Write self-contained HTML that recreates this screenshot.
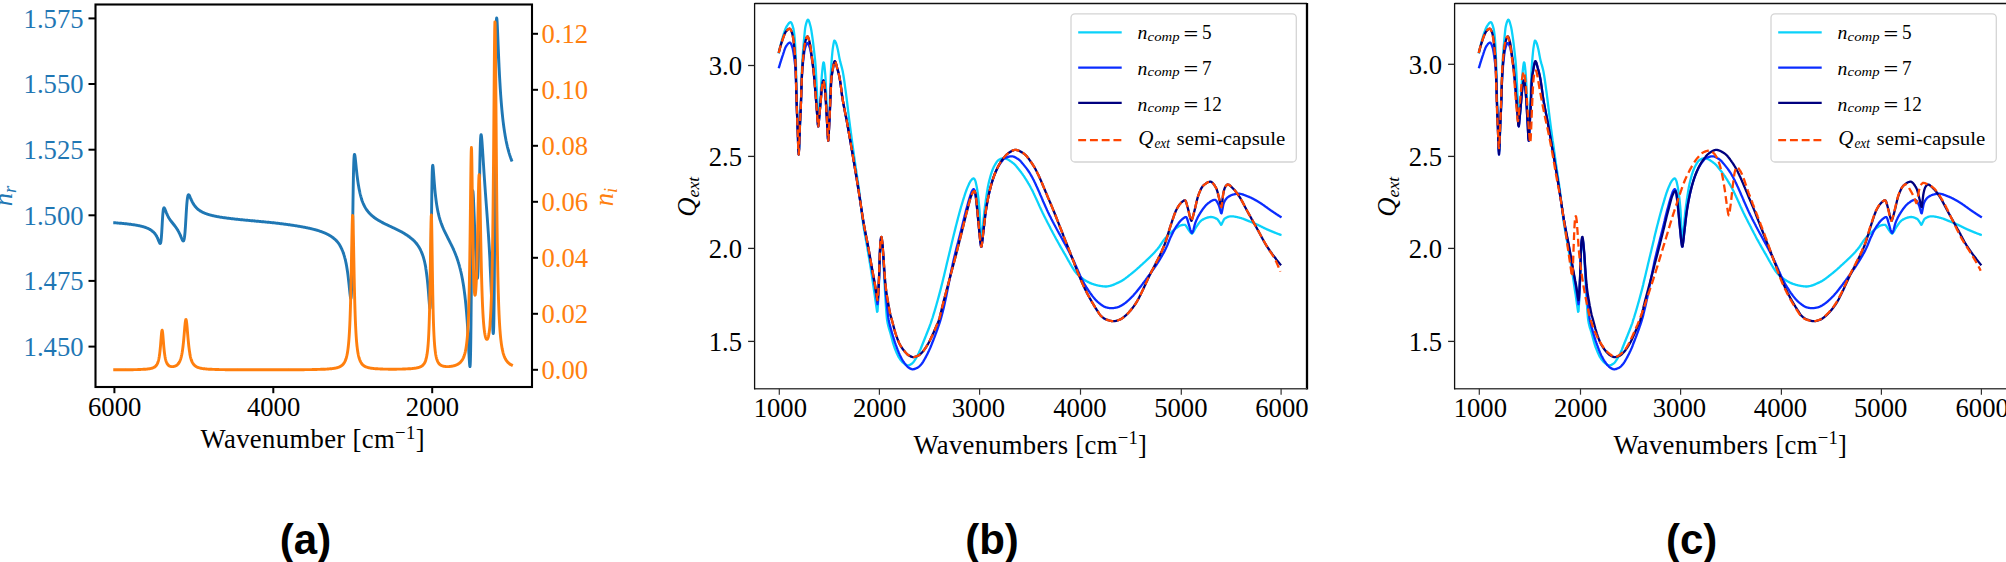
<!DOCTYPE html>
<html lang="en"><head><meta charset="utf-8"><title>Refractive index and extinction efficiency</title>
<style>
html,body{margin:0;padding:0;background:#fff;}
body{width:2006px;height:562px;overflow:hidden;}
svg{display:block;}
</style></head><body>
<svg width="2006" height="562" viewBox="0 0 2006 562">
<rect x="0" y="0" width="2006" height="562" fill="#fff"/>
<g id="panel-a">
<path d="M114.7 222.8 L114.9 222.8 L115.1 222.8 L115.3 222.8 L115.5 222.8 L115.7 222.9 L115.9 222.9 L116.1 222.9 L116.3 222.9 L116.5 222.9 L116.7 222.9 L116.9 223.0 L117.1 223.0 L117.3 223.0 L117.5 223.0 L117.7 223.0 L117.9 223.0 L118.1 223.1 L118.3 223.1 L118.5 223.1 L118.7 223.1 L118.9 223.1 L119.1 223.1 L119.3 223.1 L119.5 223.2 L119.7 223.2 L119.9 223.2 L120.1 223.2 L120.3 223.2 L120.5 223.3 L120.7 223.3 L120.9 223.3 L121.1 223.3 L121.3 223.3 L121.5 223.3 L121.7 223.4 L121.9 223.4 L122.1 223.4 L122.3 223.4 L122.5 223.4 L122.7 223.5 L122.9 223.5 L123.1 223.5 L123.3 223.5 L123.5 223.5 L123.7 223.5 L123.9 223.6 L124.1 223.6 L124.3 223.6 L124.5 223.6 L124.7 223.6 L124.9 223.7 L125.1 223.7 L125.3 223.7 L125.4 223.7 L125.6 223.7 L125.8 223.8 L126.0 223.8 L126.2 223.8 L126.4 223.8 L126.6 223.9 L126.8 223.9 L127.0 223.9 L127.2 223.9 L127.4 223.9 L127.6 224.0 L127.8 224.0 L128.0 224.0 L128.2 224.0 L128.4 224.1 L128.6 224.1 L128.8 224.1 L129.0 224.1 L129.2 224.2 L129.4 224.2 L129.6 224.2 L129.8 224.2 L130.0 224.3 L130.2 224.3 L130.4 224.3 L130.6 224.3 L130.8 224.4 L131.0 224.4 L131.2 224.4 L131.4 224.4 L131.6 224.5 L131.8 224.5 L132.0 224.5 L132.2 224.6 L132.4 224.6 L132.6 224.6 L132.8 224.6 L133.0 224.7 L133.2 224.7 L133.4 224.7 L133.6 224.8 L133.8 224.8 L134.0 224.8 L134.2 224.8 L134.4 224.9 L134.6 224.9 L134.8 224.9 L135.0 225.0 L135.2 225.0 L135.4 225.0 L135.6 225.1 L135.8 225.1 L136.0 225.1 L136.2 225.2 L136.4 225.2 L136.6 225.3 L136.8 225.3 L137.0 225.3 L137.2 225.4 L137.4 225.4 L137.6 225.4 L137.8 225.5 L138.0 225.5 L138.2 225.6 L138.4 225.6 L138.6 225.6 L138.8 225.7 L139.0 225.7 L139.2 225.8 L139.4 225.8 L139.6 225.8 L139.8 225.9 L140.0 225.9 L140.2 226.0 L140.4 226.0 L140.6 226.1 L140.8 226.1 L141.0 226.2 L141.2 226.2 L141.4 226.3 L141.6 226.3 L141.8 226.4 L142.0 226.4 L142.2 226.5 L142.4 226.5 L142.6 226.6 L142.8 226.6 L143.0 226.7 L143.2 226.7 L143.4 226.8 L143.6 226.8 L143.8 226.9 L144.0 227.0 L144.2 227.0 L144.4 227.1 L144.6 227.2 L144.8 227.2 L145.0 227.3 L145.2 227.3 L145.4 227.4 L145.6 227.5 L145.8 227.6 L146.0 227.6 L146.2 227.7 L146.4 227.8 L146.6 227.9 L146.8 227.9 L146.9 228.0 L147.1 228.1 L147.3 228.2 L147.5 228.3 L147.7 228.3 L147.9 228.4 L148.1 228.5 L148.3 228.6 L148.5 228.7 L148.7 228.8 L148.9 228.9 L149.1 229.0 L149.3 229.1 L149.5 229.2 L149.7 229.3 L149.9 229.4 L150.1 229.6 L150.3 229.7 L150.5 229.8 L150.7 229.9 L150.9 230.0 L151.1 230.2 L151.3 230.3 L151.5 230.5 L151.7 230.6 L151.9 230.7 L152.1 230.9 L152.3 231.1 L152.5 231.2 L152.7 231.4 L152.9 231.6 L153.1 231.7 L153.3 231.9 L153.5 232.1 L153.7 232.3 L153.9 232.5 L154.1 232.7 L154.3 233.0 L154.5 233.2 L154.7 233.4 L154.9 233.7 L155.1 233.9 L155.3 234.2 L155.5 234.5 L155.7 234.8 L155.9 235.1 L156.1 235.4 L156.3 235.7 L156.5 236.1 L156.7 236.4 L156.9 236.8 L157.1 237.2 L157.3 237.6 L157.5 238.0 L157.7 238.5 L157.9 238.9 L158.1 239.4 L158.3 239.9 L158.5 240.4 L158.7 240.9 L158.9 241.4 L159.1 241.8 L159.3 242.3 L159.5 242.7 L159.7 243.1 L159.9 243.4 L160.1 243.5 L160.3 243.5 L160.5 243.2 L160.7 242.6 L160.9 241.6 L161.1 240.2 L161.3 238.2 L161.5 235.7 L161.7 232.8 L161.9 229.4 L162.1 225.8 L162.3 222.2 L162.5 218.8 L162.7 215.8 L162.9 213.3 L163.1 211.3 L163.3 209.8 L163.5 208.8 L163.7 208.2 L163.9 207.9 L164.1 207.8 L164.3 208.0 L164.5 208.2 L164.7 208.6 L164.9 209.0 L165.1 209.5 L165.3 210.0 L165.5 210.5 L165.7 211.1 L165.9 211.6 L166.1 212.1 L166.3 212.6 L166.5 213.1 L166.7 213.5 L166.9 214.0 L167.1 214.5 L167.3 214.9 L167.5 215.3 L167.7 215.7 L167.9 216.1 L168.1 216.5 L168.3 216.8 L168.4 217.2 L168.6 217.5 L168.8 217.9 L169.0 218.2 L169.2 218.5 L169.4 218.8 L169.6 219.1 L169.8 219.4 L170.0 219.7 L170.2 220.0 L170.4 220.3 L170.6 220.6 L170.8 220.8 L171.0 221.1 L171.2 221.4 L171.4 221.6 L171.6 221.9 L171.8 222.1 L172.0 222.4 L172.2 222.6 L172.4 222.9 L172.6 223.1 L172.8 223.4 L173.0 223.6 L173.2 223.9 L173.4 224.1 L173.6 224.4 L173.8 224.6 L174.0 224.9 L174.2 225.1 L174.4 225.4 L174.6 225.6 L174.8 225.9 L175.0 226.2 L175.2 226.4 L175.4 226.7 L175.6 227.0 L175.8 227.2 L176.0 227.5 L176.2 227.8 L176.4 228.1 L176.6 228.4 L176.8 228.7 L177.0 229.0 L177.2 229.3 L177.4 229.6 L177.6 229.9 L177.8 230.3 L178.0 230.6 L178.2 231.0 L178.4 231.3 L178.6 231.7 L178.8 232.1 L179.0 232.5 L179.2 232.9 L179.4 233.3 L179.6 233.7 L179.8 234.1 L180.0 234.5 L180.2 235.0 L180.4 235.4 L180.6 235.9 L180.8 236.4 L181.0 236.9 L181.2 237.3 L181.4 237.8 L181.6 238.3 L181.8 238.7 L182.0 239.2 L182.2 239.6 L182.4 240.0 L182.6 240.4 L182.8 240.6 L183.0 240.9 L183.2 241.0 L183.4 240.9 L183.6 240.8 L183.8 240.4 L184.0 239.8 L184.2 239.0 L184.4 237.8 L184.6 236.3 L184.8 234.5 L185.0 232.3 L185.2 229.7 L185.4 226.8 L185.6 223.6 L185.8 220.2 L186.0 216.8 L186.2 213.4 L186.4 210.2 L186.6 207.1 L186.8 204.4 L187.0 202.1 L187.2 200.1 L187.4 198.5 L187.6 197.2 L187.8 196.2 L188.0 195.5 L188.2 195.1 L188.4 194.8 L188.6 194.8 L188.8 194.8 L189.0 195.0 L189.2 195.2 L189.4 195.6 L189.6 195.9 L189.8 196.3 L189.9 196.7 L190.1 197.2 L190.3 197.6 L190.5 198.1 L190.7 198.5 L190.9 199.0 L191.1 199.5 L191.3 199.9 L191.5 200.3 L191.7 200.7 L191.9 201.2 L192.1 201.6 L192.3 202.0 L192.5 202.3 L192.7 202.7 L192.9 203.1 L193.1 203.4 L193.3 203.7 L193.5 204.1 L193.7 204.4 L193.9 204.7 L194.1 205.0 L194.3 205.3 L194.5 205.5 L194.7 205.8 L194.9 206.1 L195.1 206.3 L195.3 206.6 L195.5 206.8 L195.7 207.0 L195.9 207.3 L196.1 207.5 L196.3 207.7 L196.5 207.9 L196.7 208.1 L196.9 208.3 L197.1 208.5 L197.3 208.7 L197.5 208.9 L197.7 209.0 L197.9 209.2 L198.1 209.4 L198.3 209.5 L198.5 209.7 L198.7 209.8 L198.9 210.0 L199.1 210.1 L199.3 210.3 L199.5 210.4 L199.7 210.5 L199.9 210.7 L200.1 210.8 L200.3 210.9 L200.5 211.1 L200.7 211.2 L200.9 211.3 L201.1 211.4 L201.3 211.5 L201.5 211.6 L201.7 211.8 L201.9 211.9 L202.1 212.0 L202.3 212.1 L202.5 212.2 L202.7 212.3 L202.9 212.4 L203.1 212.5 L203.3 212.6 L203.5 212.6 L203.7 212.7 L203.9 212.8 L204.1 212.9 L204.3 213.0 L204.5 213.1 L204.7 213.2 L204.9 213.2 L205.1 213.3 L205.3 213.4 L205.5 213.5 L205.7 213.6 L205.9 213.6 L206.1 213.7 L206.3 213.8 L206.5 213.8 L206.7 213.9 L206.9 214.0 L207.1 214.1 L207.3 214.1 L207.5 214.2 L207.7 214.2 L207.9 214.3 L208.1 214.4 L208.3 214.4 L208.5 214.5 L208.7 214.6 L208.9 214.6 L209.1 214.7 L209.3 214.7 L209.5 214.8 L209.7 214.9 L209.9 214.9 L210.1 215.0 L210.3 215.0 L210.5 215.1 L210.7 215.1 L210.9 215.2 L211.1 215.2 L211.2 215.3 L211.4 215.3 L211.6 215.4 L211.8 215.4 L212.0 215.5 L212.2 215.5 L212.4 215.6 L212.6 215.6 L212.8 215.7 L213.0 215.7 L213.2 215.8 L213.4 215.8 L213.6 215.8 L213.8 215.9 L214.0 215.9 L214.2 216.0 L214.4 216.0 L214.6 216.1 L214.8 216.1 L215.0 216.1 L215.2 216.2 L215.4 216.2 L215.6 216.3 L215.8 216.3 L216.0 216.3 L216.2 216.4 L216.4 216.4 L216.6 216.5 L216.8 216.5 L217.0 216.5 L217.2 216.6 L217.4 216.6 L217.6 216.6 L217.8 216.7 L218.0 216.7 L218.2 216.8 L218.4 216.8 L218.6 216.8 L218.8 216.9 L219.0 216.9 L219.2 216.9 L219.4 217.0 L219.6 217.0 L219.8 217.0 L220.0 217.1 L220.2 217.1 L220.4 217.1 L220.6 217.2 L220.8 217.2 L221.0 217.2 L221.2 217.3 L221.4 217.3 L221.6 217.3 L221.8 217.4 L222.0 217.4 L222.2 217.4 L222.4 217.4 L222.6 217.5 L222.8 217.5 L223.0 217.5 L223.2 217.6 L223.4 217.6 L223.6 217.6 L223.8 217.7 L224.0 217.7 L224.2 217.7 L224.4 217.7 L224.6 217.8 L224.8 217.8 L225.0 217.8 L225.2 217.8 L225.4 217.9 L225.6 217.9 L225.8 217.9 L226.0 218.0 L226.2 218.0 L226.4 218.0 L226.6 218.0 L226.8 218.1 L227.0 218.1 L227.2 218.1 L227.4 218.1 L227.6 218.2 L227.8 218.2 L228.0 218.2 L228.2 218.2 L228.4 218.3 L228.6 218.3 L228.8 218.3 L229.0 218.3 L229.2 218.4 L229.4 218.4 L229.6 218.4 L229.8 218.4 L230.0 218.5 L230.2 218.5 L230.4 218.5 L230.6 218.5 L230.8 218.6 L231.0 218.6 L231.2 218.6 L231.4 218.6 L231.6 218.7 L231.8 218.7 L232.0 218.7 L232.2 218.7 L232.4 218.8 L232.6 218.8 L232.7 218.8 L232.9 218.8 L233.1 218.8 L233.3 218.9 L233.5 218.9 L233.7 218.9 L233.9 218.9 L234.1 219.0 L234.3 219.0 L234.5 219.0 L234.7 219.0 L234.9 219.0 L235.1 219.1 L235.3 219.1 L235.5 219.1 L235.7 219.1 L235.9 219.2 L236.1 219.2 L236.3 219.2 L236.5 219.2 L236.7 219.2 L236.9 219.3 L237.1 219.3 L237.3 219.3 L237.5 219.3 L237.7 219.3 L237.9 219.4 L238.1 219.4 L238.3 219.4 L238.5 219.4 L238.7 219.5 L238.9 219.5 L239.1 219.5 L239.3 219.5 L239.5 219.5 L239.7 219.6 L239.9 219.6 L240.1 219.6 L240.3 219.6 L240.5 219.6 L240.7 219.7 L240.9 219.7 L241.1 219.7 L241.3 219.7 L241.5 219.7 L241.7 219.8 L241.9 219.8 L242.1 219.8 L242.3 219.8 L242.5 219.8 L242.7 219.9 L242.9 219.9 L243.1 219.9 L243.3 219.9 L243.5 219.9 L243.7 220.0 L243.9 220.0 L244.1 220.0 L244.3 220.0 L244.5 220.0 L244.7 220.1 L244.9 220.1 L245.1 220.1 L245.3 220.1 L245.5 220.1 L245.7 220.1 L245.9 220.2 L246.1 220.2 L246.3 220.2 L246.5 220.2 L246.7 220.2 L246.9 220.3 L247.1 220.3 L247.3 220.3 L247.5 220.3 L247.7 220.3 L247.9 220.4 L248.1 220.4 L248.3 220.4 L248.5 220.4 L248.7 220.4 L248.9 220.5 L249.1 220.5 L249.3 220.5 L249.5 220.5 L249.7 220.5 L249.9 220.5 L250.1 220.6 L250.3 220.6 L250.5 220.6 L250.7 220.6 L250.9 220.6 L251.1 220.7 L251.3 220.7 L251.5 220.7 L251.7 220.7 L251.9 220.7 L252.1 220.8 L252.3 220.8 L252.5 220.8 L252.7 220.8 L252.9 220.8 L253.1 220.8 L253.3 220.9 L253.5 220.9 L253.7 220.9 L253.9 220.9 L254.1 220.9 L254.2 221.0 L254.4 221.0 L254.6 221.0 L254.8 221.0 L255.0 221.0 L255.2 221.0 L255.4 221.1 L255.6 221.1 L255.8 221.1 L256.0 221.1 L256.2 221.1 L256.4 221.2 L256.6 221.2 L256.8 221.2 L257.0 221.2 L257.2 221.2 L257.4 221.2 L257.6 221.3 L257.8 221.3 L258.0 221.3 L258.2 221.3 L258.4 221.3 L258.6 221.4 L258.8 221.4 L259.0 221.4 L259.2 221.4 L259.4 221.4 L259.6 221.5 L259.8 221.5 L260.0 221.5 L260.2 221.5 L260.4 221.5 L260.6 221.5 L260.8 221.6 L261.0 221.6 L261.2 221.6 L261.4 221.6 L261.6 221.6 L261.8 221.7 L262.0 221.7 L262.2 221.7 L262.4 221.7 L262.6 221.7 L262.8 221.8 L263.0 221.8 L263.2 221.8 L263.4 221.8 L263.6 221.8 L263.8 221.8 L264.0 221.9 L264.2 221.9 L264.4 221.9 L264.6 221.9 L264.8 221.9 L265.0 222.0 L265.2 222.0 L265.4 222.0 L265.6 222.0 L265.8 222.0 L266.0 222.1 L266.2 222.1 L266.4 222.1 L266.6 222.1 L266.8 222.1 L267.0 222.1 L267.2 222.2 L267.4 222.2 L267.6 222.2 L267.8 222.2 L268.0 222.2 L268.2 222.3 L268.4 222.3 L268.6 222.3 L268.8 222.3 L269.0 222.3 L269.2 222.4 L269.4 222.4 L269.6 222.4 L269.8 222.4 L270.0 222.4 L270.2 222.5 L270.4 222.5 L270.6 222.5 L270.8 222.5 L271.0 222.5 L271.2 222.6 L271.4 222.6 L271.6 222.6 L271.8 222.6 L272.0 222.6 L272.2 222.7 L272.4 222.7 L272.6 222.7 L272.8 222.7 L273.0 222.7 L273.2 222.8 L273.4 222.8 L273.6 222.8 L273.8 222.8 L274.0 222.8 L274.2 222.9 L274.4 222.9 L274.6 222.9 L274.8 222.9 L275.0 223.0 L275.2 223.0 L275.4 223.0 L275.6 223.0 L275.7 223.1 L275.9 223.1 L276.1 223.1 L276.3 223.1 L276.5 223.1 L276.7 223.2 L276.9 223.2 L277.1 223.2 L277.3 223.2 L277.5 223.3 L277.7 223.3 L277.9 223.3 L278.1 223.3 L278.3 223.4 L278.5 223.4 L278.7 223.4 L278.9 223.4 L279.1 223.5 L279.3 223.5 L279.5 223.5 L279.7 223.5 L279.9 223.6 L280.1 223.6 L280.3 223.6 L280.5 223.6 L280.7 223.7 L280.9 223.7 L281.1 223.7 L281.3 223.7 L281.5 223.8 L281.7 223.8 L281.9 223.8 L282.1 223.8 L282.3 223.9 L282.5 223.9 L282.7 223.9 L282.9 223.9 L283.1 224.0 L283.3 224.0 L283.5 224.0 L283.7 224.0 L283.9 224.1 L284.1 224.1 L284.3 224.1 L284.5 224.1 L284.7 224.2 L284.9 224.2 L285.1 224.2 L285.3 224.2 L285.5 224.3 L285.7 224.3 L285.9 224.3 L286.1 224.4 L286.3 224.4 L286.5 224.4 L286.7 224.4 L286.9 224.5 L287.1 224.5 L287.3 224.5 L287.5 224.5 L287.7 224.6 L287.9 224.6 L288.1 224.6 L288.3 224.7 L288.5 224.7 L288.7 224.7 L288.9 224.7 L289.1 224.8 L289.3 224.8 L289.5 224.8 L289.7 224.8 L289.9 224.9 L290.1 224.9 L290.3 224.9 L290.5 225.0 L290.7 225.0 L290.9 225.0 L291.1 225.0 L291.3 225.1 L291.5 225.1 L291.7 225.1 L291.9 225.2 L292.1 225.2 L292.3 225.2 L292.5 225.3 L292.7 225.3 L292.9 225.3 L293.1 225.3 L293.3 225.4 L293.5 225.4 L293.7 225.4 L293.9 225.5 L294.1 225.5 L294.3 225.5 L294.5 225.6 L294.7 225.6 L294.9 225.6 L295.1 225.6 L295.3 225.7 L295.5 225.7 L295.7 225.7 L295.9 225.8 L296.1 225.8 L296.3 225.8 L296.5 225.9 L296.7 225.9 L296.9 225.9 L297.1 226.0 L297.2 226.0 L297.4 226.0 L297.6 226.1 L297.8 226.1 L298.0 226.1 L298.2 226.2 L298.4 226.2 L298.6 226.2 L298.8 226.3 L299.0 226.3 L299.2 226.3 L299.4 226.4 L299.6 226.4 L299.8 226.4 L300.0 226.5 L300.2 226.5 L300.4 226.5 L300.6 226.6 L300.8 226.6 L301.0 226.6 L301.2 226.7 L301.4 226.7 L301.6 226.7 L301.8 226.8 L302.0 226.8 L302.2 226.9 L302.4 226.9 L302.6 226.9 L302.8 227.0 L303.0 227.0 L303.2 227.0 L303.4 227.1 L303.6 227.1 L303.8 227.2 L304.0 227.2 L304.2 227.2 L304.4 227.3 L304.6 227.3 L304.8 227.3 L305.0 227.4 L305.2 227.4 L305.4 227.5 L305.6 227.5 L305.8 227.5 L306.0 227.6 L306.2 227.6 L306.4 227.7 L306.6 227.7 L306.8 227.7 L307.0 227.8 L307.2 227.8 L307.4 227.9 L307.6 227.9 L307.8 228.0 L308.0 228.0 L308.2 228.0 L308.4 228.1 L308.6 228.1 L308.8 228.2 L309.0 228.2 L309.2 228.3 L309.4 228.3 L309.6 228.3 L309.8 228.4 L310.0 228.4 L310.2 228.5 L310.4 228.5 L310.6 228.6 L310.8 228.6 L311.0 228.7 L311.2 228.7 L311.4 228.8 L311.6 228.8 L311.8 228.9 L312.0 228.9 L312.2 229.0 L312.4 229.0 L312.6 229.0 L312.8 229.1 L313.0 229.1 L313.2 229.2 L313.4 229.2 L313.6 229.3 L313.8 229.4 L314.0 229.4 L314.2 229.5 L314.4 229.5 L314.6 229.6 L314.8 229.6 L315.0 229.7 L315.2 229.7 L315.4 229.8 L315.6 229.8 L315.8 229.9 L316.0 229.9 L316.2 230.0 L316.4 230.1 L316.6 230.1 L316.8 230.2 L317.0 230.2 L317.2 230.3 L317.4 230.3 L317.6 230.4 L317.8 230.5 L318.0 230.5 L318.2 230.6 L318.4 230.6 L318.5 230.7 L318.7 230.8 L318.9 230.8 L319.1 230.9 L319.3 231.0 L319.5 231.0 L319.7 231.1 L319.9 231.2 L320.1 231.2 L320.3 231.3 L320.5 231.4 L320.7 231.4 L320.9 231.5 L321.1 231.6 L321.3 231.6 L321.5 231.7 L321.7 231.8 L321.9 231.9 L322.1 231.9 L322.3 232.0 L322.5 232.1 L322.7 232.2 L322.9 232.2 L323.1 232.3 L323.3 232.4 L323.5 232.5 L323.7 232.6 L323.9 232.6 L324.1 232.7 L324.3 232.8 L324.5 232.9 L324.7 233.0 L324.9 233.1 L325.1 233.1 L325.3 233.2 L325.5 233.3 L325.7 233.4 L325.9 233.5 L326.1 233.6 L326.3 233.7 L326.5 233.8 L326.7 233.9 L326.9 234.0 L327.1 234.1 L327.3 234.2 L327.5 234.3 L327.7 234.4 L327.9 234.5 L328.1 234.6 L328.3 234.7 L328.5 234.8 L328.7 234.9 L328.9 235.0 L329.1 235.1 L329.3 235.2 L329.5 235.4 L329.7 235.5 L329.9 235.6 L330.1 235.7 L330.3 235.8 L330.5 236.0 L330.7 236.1 L330.9 236.2 L331.1 236.3 L331.3 236.5 L331.5 236.6 L331.7 236.7 L331.9 236.9 L332.1 237.0 L332.3 237.2 L332.5 237.3 L332.7 237.5 L332.9 237.6 L333.1 237.8 L333.3 237.9 L333.5 238.1 L333.7 238.2 L333.9 238.4 L334.1 238.6 L334.3 238.7 L334.5 238.9 L334.7 239.1 L334.9 239.3 L335.1 239.5 L335.3 239.6 L335.5 239.8 L335.7 240.0 L335.9 240.2 L336.1 240.4 L336.3 240.6 L336.5 240.9 L336.7 241.1 L336.9 241.3 L337.1 241.5 L337.3 241.8 L337.5 242.0 L337.7 242.2 L337.9 242.5 L338.1 242.7 L338.3 243.0 L338.5 243.3 L338.7 243.5 L338.9 243.8 L339.1 244.1 L339.3 244.4 L339.5 244.7 L339.7 245.0 L339.9 245.3 L340.0 245.7 L340.2 246.0 L340.4 246.4 L340.6 246.7 L340.8 247.1 L341.0 247.5 L341.2 247.9 L341.4 248.3 L341.6 248.7 L341.8 249.1 L342.0 249.6 L342.2 250.0 L342.4 250.5 L342.6 251.0 L342.8 251.5 L343.0 252.0 L343.2 252.6 L343.4 253.1 L343.6 253.7 L343.8 254.3 L344.0 255.0 L344.2 255.6 L344.4 256.3 L344.6 257.0 L344.8 257.8 L345.0 258.5 L345.2 259.3 L345.4 260.2 L345.6 261.0 L345.8 262.0 L346.0 262.9 L346.2 263.9 L346.4 265.0 L346.6 266.1 L346.8 267.2 L347.0 268.4 L347.2 269.7 L347.4 271.0 L347.6 272.4 L347.8 273.9 L348.0 275.4 L348.2 277.1 L348.4 278.7 L348.6 280.5 L348.8 282.3 L349.0 284.2 L349.2 286.1 L349.4 288.1 L349.6 290.1 L349.8 292.0 L350.0 293.9 L350.2 295.6 L350.4 297.1 L350.6 298.2 L350.8 298.6 L351.0 298.3 L351.2 296.8 L351.4 293.9 L351.6 289.1 L351.8 282.2 L352.0 272.8 L352.2 261.0 L352.4 247.1 L352.6 231.9 L352.8 216.3 L353.0 201.4 L353.2 188.1 L353.4 177.1 L353.6 168.4 L353.8 162.2 L354.0 158.0 L354.2 155.5 L354.4 154.4 L354.6 154.4 L354.8 155.1 L355.0 156.3 L355.2 157.8 L355.4 159.6 L355.6 161.5 L355.8 163.5 L356.0 165.5 L356.2 167.4 L356.4 169.4 L356.6 171.2 L356.8 173.0 L357.0 174.8 L357.2 176.4 L357.4 178.0 L357.6 179.5 L357.8 181.0 L358.0 182.4 L358.2 183.7 L358.4 184.9 L358.6 186.1 L358.8 187.3 L359.0 188.4 L359.2 189.4 L359.4 190.4 L359.6 191.3 L359.8 192.3 L360.0 193.1 L360.2 194.0 L360.4 194.8 L360.6 195.5 L360.8 196.3 L361.0 197.0 L361.2 197.7 L361.4 198.3 L361.5 198.9 L361.7 199.6 L361.9 200.1 L362.1 200.7 L362.3 201.3 L362.5 201.8 L362.7 202.3 L362.9 202.8 L363.1 203.3 L363.3 203.7 L363.5 204.2 L363.7 204.6 L363.9 205.0 L364.1 205.4 L364.3 205.8 L364.5 206.2 L364.7 206.6 L364.9 207.0 L365.1 207.3 L365.3 207.7 L365.5 208.0 L365.7 208.3 L365.9 208.7 L366.1 209.0 L366.3 209.3 L366.5 209.6 L366.7 209.9 L366.9 210.1 L367.1 210.4 L367.3 210.7 L367.5 210.9 L367.7 211.2 L367.9 211.5 L368.1 211.7 L368.3 212.0 L368.5 212.2 L368.7 212.4 L368.9 212.7 L369.1 212.9 L369.3 213.1 L369.5 213.3 L369.7 213.5 L369.9 213.7 L370.1 213.9 L370.3 214.1 L370.5 214.3 L370.7 214.5 L370.9 214.7 L371.1 214.9 L371.3 215.1 L371.5 215.3 L371.7 215.5 L371.9 215.6 L372.1 215.8 L372.3 216.0 L372.5 216.1 L372.7 216.3 L372.9 216.5 L373.1 216.6 L373.3 216.8 L373.5 216.9 L373.7 217.1 L373.9 217.3 L374.1 217.4 L374.3 217.6 L374.5 217.7 L374.7 217.8 L374.9 218.0 L375.1 218.1 L375.3 218.3 L375.5 218.4 L375.7 218.6 L375.9 218.7 L376.1 218.8 L376.3 219.0 L376.5 219.1 L376.7 219.2 L376.9 219.3 L377.1 219.5 L377.3 219.6 L377.5 219.7 L377.7 219.8 L377.9 220.0 L378.1 220.1 L378.3 220.2 L378.5 220.3 L378.7 220.5 L378.9 220.6 L379.1 220.7 L379.3 220.8 L379.5 220.9 L379.7 221.0 L379.9 221.1 L380.1 221.3 L380.3 221.4 L380.5 221.5 L380.7 221.6 L380.9 221.7 L381.1 221.8 L381.3 221.9 L381.5 222.0 L381.7 222.1 L381.9 222.2 L382.1 222.3 L382.3 222.4 L382.5 222.6 L382.7 222.7 L382.9 222.8 L383.0 222.9 L383.2 223.0 L383.4 223.1 L383.6 223.2 L383.8 223.3 L384.0 223.4 L384.2 223.5 L384.4 223.6 L384.6 223.7 L384.8 223.8 L385.0 223.9 L385.2 224.0 L385.4 224.1 L385.6 224.2 L385.8 224.3 L386.0 224.4 L386.2 224.5 L386.4 224.5 L386.6 224.6 L386.8 224.7 L387.0 224.8 L387.2 224.9 L387.4 225.0 L387.6 225.1 L387.8 225.2 L388.0 225.3 L388.2 225.4 L388.4 225.5 L388.6 225.6 L388.8 225.7 L389.0 225.8 L389.2 225.9 L389.4 226.0 L389.6 226.1 L389.8 226.2 L390.0 226.3 L390.2 226.3 L390.4 226.4 L390.6 226.5 L390.8 226.6 L391.0 226.7 L391.2 226.8 L391.4 226.9 L391.6 227.0 L391.8 227.1 L392.0 227.2 L392.2 227.3 L392.4 227.4 L392.6 227.5 L392.8 227.6 L393.0 227.7 L393.2 227.7 L393.4 227.8 L393.6 227.9 L393.8 228.0 L394.0 228.1 L394.2 228.2 L394.4 228.3 L394.6 228.4 L394.8 228.5 L395.0 228.6 L395.2 228.7 L395.4 228.8 L395.6 228.9 L395.8 229.0 L396.0 229.1 L396.2 229.2 L396.4 229.3 L396.6 229.4 L396.8 229.5 L397.0 229.6 L397.2 229.7 L397.4 229.8 L397.6 229.9 L397.8 230.0 L398.0 230.1 L398.2 230.2 L398.4 230.3 L398.6 230.4 L398.8 230.5 L399.0 230.6 L399.2 230.7 L399.4 230.8 L399.6 230.9 L399.8 231.0 L400.0 231.1 L400.2 231.2 L400.4 231.3 L400.6 231.4 L400.8 231.5 L401.0 231.6 L401.2 231.7 L401.4 231.8 L401.6 231.9 L401.8 232.0 L402.0 232.1 L402.2 232.3 L402.4 232.4 L402.6 232.5 L402.8 232.6 L403.0 232.7 L403.2 232.8 L403.4 232.9 L403.6 233.0 L403.8 233.2 L404.0 233.3 L404.2 233.4 L404.3 233.5 L404.5 233.6 L404.7 233.7 L404.9 233.9 L405.1 234.0 L405.3 234.1 L405.5 234.2 L405.7 234.4 L405.9 234.5 L406.1 234.6 L406.3 234.7 L406.5 234.9 L406.7 235.0 L406.9 235.1 L407.1 235.3 L407.3 235.4 L407.5 235.5 L407.7 235.7 L407.9 235.8 L408.1 235.9 L408.3 236.1 L408.5 236.2 L408.7 236.4 L408.9 236.5 L409.1 236.6 L409.3 236.8 L409.5 236.9 L409.7 237.1 L409.9 237.2 L410.1 237.4 L410.3 237.6 L410.5 237.7 L410.7 237.9 L410.9 238.0 L411.1 238.2 L411.3 238.4 L411.5 238.5 L411.7 238.7 L411.9 238.9 L412.1 239.0 L412.3 239.2 L412.5 239.4 L412.7 239.6 L412.9 239.8 L413.1 239.9 L413.3 240.1 L413.5 240.3 L413.7 240.5 L413.9 240.7 L414.1 240.9 L414.3 241.1 L414.5 241.3 L414.7 241.5 L414.9 241.8 L415.1 242.0 L415.3 242.2 L415.5 242.4 L415.7 242.7 L415.9 242.9 L416.1 243.1 L416.3 243.4 L416.5 243.6 L416.7 243.9 L416.9 244.1 L417.1 244.4 L417.3 244.7 L417.5 244.9 L417.7 245.2 L417.9 245.5 L418.1 245.8 L418.3 246.1 L418.5 246.4 L418.7 246.7 L418.9 247.0 L419.1 247.4 L419.3 247.7 L419.5 248.0 L419.7 248.4 L419.9 248.8 L420.1 249.1 L420.3 249.5 L420.5 249.9 L420.7 250.3 L420.9 250.8 L421.1 251.2 L421.3 251.6 L421.5 252.1 L421.7 252.6 L421.9 253.1 L422.1 253.6 L422.3 254.1 L422.5 254.6 L422.7 255.2 L422.9 255.8 L423.1 256.4 L423.3 257.0 L423.5 257.7 L423.7 258.4 L423.9 259.1 L424.1 259.8 L424.3 260.6 L424.5 261.4 L424.7 262.3 L424.9 263.2 L425.1 264.1 L425.3 265.1 L425.5 266.1 L425.7 267.2 L425.8 268.4 L426.0 269.6 L426.2 270.9 L426.4 272.2 L426.6 273.7 L426.8 275.2 L427.0 276.8 L427.2 278.6 L427.4 280.4 L427.6 282.4 L427.8 284.4 L428.0 286.6 L428.2 289.0 L428.4 291.4 L428.6 294.0 L428.8 296.6 L429.0 299.3 L429.2 301.9 L429.4 304.4 L429.6 306.5 L429.8 307.9 L430.0 308.3 L430.2 306.9 L430.4 303.1 L430.6 295.9 L430.8 284.8 L431.0 269.4 L431.2 250.6 L431.4 230.2 L431.6 210.6 L431.8 193.8 L432.0 181.2 L432.2 172.6 L432.4 167.7 L432.6 165.6 L432.8 165.4 L433.0 166.5 L433.2 168.5 L433.4 170.8 L433.6 173.4 L433.8 176.1 L434.0 178.8 L434.2 181.4 L434.4 183.9 L434.6 186.3 L434.8 188.6 L435.0 190.8 L435.2 192.8 L435.4 194.7 L435.6 196.5 L435.8 198.2 L436.0 199.8 L436.2 201.3 L436.4 202.7 L436.6 204.1 L436.8 205.4 L437.0 206.6 L437.2 207.7 L437.4 208.8 L437.6 209.9 L437.8 210.9 L438.0 211.9 L438.2 212.8 L438.4 213.7 L438.6 214.5 L438.8 215.3 L439.0 216.1 L439.2 216.9 L439.4 217.6 L439.6 218.3 L439.8 219.0 L440.0 219.7 L440.2 220.3 L440.4 220.9 L440.6 221.5 L440.8 222.1 L441.0 222.7 L441.2 223.3 L441.4 223.8 L441.6 224.4 L441.8 224.9 L442.0 225.4 L442.2 225.9 L442.4 226.4 L442.6 226.9 L442.8 227.4 L443.0 227.8 L443.2 228.3 L443.4 228.8 L443.6 229.2 L443.8 229.6 L444.0 230.1 L444.2 230.5 L444.4 230.9 L444.6 231.4 L444.8 231.8 L445.0 232.2 L445.2 232.6 L445.4 233.0 L445.6 233.4 L445.8 233.8 L446.0 234.2 L446.2 234.6 L446.4 235.0 L446.6 235.4 L446.8 235.8 L447.0 236.2 L447.2 236.6 L447.3 236.9 L447.5 237.3 L447.7 237.7 L447.9 238.1 L448.1 238.5 L448.3 238.9 L448.5 239.3 L448.7 239.6 L448.9 240.0 L449.1 240.4 L449.3 240.8 L449.5 241.2 L449.7 241.6 L449.9 242.0 L450.1 242.4 L450.3 242.8 L450.5 243.2 L450.7 243.5 L450.9 243.9 L451.1 244.4 L451.3 244.8 L451.5 245.2 L451.7 245.6 L451.9 246.0 L452.1 246.4 L452.3 246.8 L452.5 247.2 L452.7 247.7 L452.9 248.1 L453.1 248.5 L453.3 249.0 L453.5 249.4 L453.7 249.9 L453.9 250.3 L454.1 250.8 L454.3 251.3 L454.5 251.7 L454.7 252.2 L454.9 252.7 L455.1 253.2 L455.3 253.7 L455.5 254.2 L455.7 254.7 L455.9 255.2 L456.1 255.7 L456.3 256.3 L456.5 256.8 L456.7 257.4 L456.9 257.9 L457.1 258.5 L457.3 259.1 L457.5 259.7 L457.7 260.3 L457.9 260.9 L458.1 261.5 L458.3 262.2 L458.5 262.8 L458.7 263.5 L458.9 264.1 L459.1 264.8 L459.3 265.5 L459.5 266.3 L459.7 267.0 L459.9 267.8 L460.1 268.5 L460.3 269.3 L460.5 270.1 L460.7 271.0 L460.9 271.8 L461.1 272.7 L461.3 273.6 L461.5 274.5 L461.7 275.5 L461.9 276.5 L462.1 277.5 L462.3 278.5 L462.5 279.6 L462.7 280.7 L462.9 281.9 L463.1 283.1 L463.3 284.3 L463.5 285.5 L463.7 286.8 L463.9 288.2 L464.1 289.6 L464.3 291.1 L464.5 292.6 L464.7 294.2 L464.9 295.8 L465.1 297.6 L465.3 299.3 L465.5 301.2 L465.7 303.2 L465.9 305.2 L466.1 307.4 L466.3 309.6 L466.5 312.0 L466.7 314.4 L466.9 317.0 L467.1 319.7 L467.3 322.6 L467.5 325.6 L467.7 328.8 L467.9 332.1 L468.1 335.6 L468.3 339.2 L468.5 342.9 L468.7 346.7 L468.8 350.6 L469.0 354.5 L469.2 358.2 L469.4 361.5 L469.6 364.3 L469.8 366.2 L470.0 366.6 L470.2 364.9 L470.4 360.3 L470.6 352.0 L470.8 339.5 L471.0 322.4 L471.2 301.6 L471.4 278.4 L471.6 255.3 L471.8 234.3 L472.0 217.2 L472.2 204.6 L472.4 196.4 L472.6 192.1 L472.8 190.7 L473.0 191.6 L473.2 194.1 L473.4 197.7 L473.6 201.9 L473.8 206.6 L474.0 211.5 L474.2 216.6 L474.4 221.7 L474.6 226.8 L474.8 231.8 L475.0 236.8 L475.2 241.6 L475.4 246.4 L475.6 251.0 L475.8 255.5 L476.0 259.8 L476.2 263.9 L476.4 267.7 L476.6 271.1 L476.8 274.1 L477.0 276.4 L477.2 277.9 L477.4 278.4 L477.6 277.7 L477.8 275.5 L478.0 271.4 L478.2 265.4 L478.4 257.2 L478.6 246.9 L478.8 234.7 L479.0 221.1 L479.2 206.8 L479.4 192.5 L479.6 178.9 L479.8 166.9 L480.0 156.7 L480.2 148.5 L480.4 142.4 L480.6 138.3 L480.8 135.8 L481.0 134.7 L481.2 134.7 L481.4 135.7 L481.6 137.3 L481.8 139.4 L482.0 141.9 L482.2 144.7 L482.4 147.6 L482.6 150.7 L482.8 153.8 L483.0 156.9 L483.2 160.1 L483.4 163.2 L483.6 166.3 L483.8 169.4 L484.0 172.4 L484.2 175.4 L484.4 178.3 L484.6 181.2 L484.8 184.1 L485.0 186.9 L485.2 189.7 L485.4 192.5 L485.6 195.2 L485.8 197.9 L486.0 200.6 L486.2 203.3 L486.4 206.0 L486.6 208.7 L486.8 211.4 L487.0 214.2 L487.2 216.9 L487.4 219.7 L487.6 222.5 L487.8 225.3 L488.0 228.2 L488.2 231.1 L488.4 234.1 L488.6 237.2 L488.8 240.3 L489.0 243.5 L489.2 246.8 L489.4 250.2 L489.6 253.8 L489.8 257.4 L490.0 261.2 L490.1 265.1 L490.3 269.1 L490.5 273.3 L490.7 277.7 L490.9 282.2 L491.1 286.9 L491.3 291.7 L491.5 296.7 L491.7 301.8 L491.9 307.0 L492.1 312.2 L492.3 317.3 L492.5 322.2 L492.7 326.6 L492.9 330.3 L493.1 332.8 L493.3 333.6 L493.5 332.0 L493.7 327.2 L493.9 318.1 L494.1 303.8 L494.3 283.5 L494.5 257.1 L494.7 225.4 L494.9 189.9 L495.1 153.4 L495.3 118.6 L495.5 88.0 L495.7 63.0 L495.9 44.2 L496.1 31.1 L496.3 23.0 L496.5 18.9 L496.7 17.9 L496.9 19.0 L497.1 21.7 L497.3 25.3 L497.5 29.7 L497.7 34.4 L497.9 39.3 L498.1 44.2 L498.3 49.1 L498.5 53.8 L498.7 58.5 L498.9 62.9 L499.1 67.2 L499.3 71.3 L499.5 75.2 L499.7 78.9 L499.9 82.4 L500.1 85.8 L500.3 89.0 L500.5 92.1 L500.7 95.0 L500.9 97.8 L501.1 100.4 L501.3 102.9 L501.5 105.3 L501.7 107.6 L501.9 109.9 L502.1 112.0 L502.3 114.0 L502.5 115.9 L502.7 117.8 L502.9 119.6 L503.1 121.3 L503.3 122.9 L503.5 124.5 L503.7 126.0 L503.9 127.5 L504.1 128.9 L504.3 130.3 L504.5 131.6 L504.7 132.9 L504.9 134.1 L505.1 135.3 L505.3 136.5 L505.5 137.6 L505.7 138.7 L505.9 139.7 L506.1 140.8 L506.3 141.7 L506.5 142.7 L506.7 143.6 L506.9 144.5 L507.1 145.4 L507.3 146.3 L507.5 147.1 L507.7 147.9 L507.9 148.7 L508.1 149.5 L508.3 150.2 L508.5 151.0 L508.7 151.7 L508.9 152.4 L509.1 153.1 L509.3 153.7 L509.5 154.4 L509.7 155.0 L509.9 155.6 L510.1 156.2 L510.3 156.8 L510.5 157.4 L510.7 158.0 L510.9 158.5 L511.1 159.1 L511.3 159.6 L511.5 160.1" fill="none" stroke="#1f77b4" stroke-width="2.9" stroke-linejoin="round" stroke-linecap="square"/>
<path d="M114.7 369.8 L114.9 369.8 L115.1 369.8 L115.3 369.8 L115.5 369.8 L115.7 369.8 L115.9 369.8 L116.1 369.8 L116.3 369.8 L116.5 369.8 L116.7 369.8 L116.9 369.8 L117.1 369.8 L117.3 369.8 L117.5 369.8 L117.7 369.8 L117.9 369.8 L118.1 369.8 L118.3 369.8 L118.5 369.8 L118.7 369.8 L118.9 369.8 L119.1 369.8 L119.3 369.8 L119.5 369.8 L119.7 369.8 L119.9 369.8 L120.1 369.8 L120.3 369.8 L120.5 369.8 L120.7 369.8 L120.9 369.8 L121.1 369.8 L121.3 369.8 L121.5 369.8 L121.7 369.8 L121.9 369.8 L122.1 369.8 L122.3 369.8 L122.5 369.8 L122.7 369.8 L122.9 369.8 L123.1 369.8 L123.3 369.8 L123.5 369.8 L123.7 369.8 L123.9 369.8 L124.1 369.8 L124.3 369.8 L124.5 369.8 L124.7 369.8 L124.9 369.8 L125.1 369.8 L125.3 369.8 L125.4 369.8 L125.6 369.8 L125.8 369.7 L126.0 369.7 L126.2 369.7 L126.4 369.7 L126.6 369.7 L126.8 369.7 L127.0 369.7 L127.2 369.7 L127.4 369.7 L127.6 369.7 L127.8 369.7 L128.0 369.7 L128.2 369.7 L128.4 369.7 L128.6 369.7 L128.8 369.7 L129.0 369.7 L129.2 369.7 L129.4 369.7 L129.6 369.7 L129.8 369.7 L130.0 369.7 L130.2 369.7 L130.4 369.7 L130.6 369.7 L130.8 369.7 L131.0 369.7 L131.2 369.7 L131.4 369.7 L131.6 369.7 L131.8 369.7 L132.0 369.7 L132.2 369.7 L132.4 369.7 L132.6 369.7 L132.8 369.7 L133.0 369.7 L133.2 369.7 L133.4 369.6 L133.6 369.6 L133.8 369.6 L134.0 369.6 L134.2 369.6 L134.4 369.6 L134.6 369.6 L134.8 369.6 L135.0 369.6 L135.2 369.6 L135.4 369.6 L135.6 369.6 L135.8 369.6 L136.0 369.6 L136.2 369.6 L136.4 369.6 L136.6 369.6 L136.8 369.6 L137.0 369.6 L137.2 369.6 L137.4 369.6 L137.6 369.6 L137.8 369.5 L138.0 369.5 L138.2 369.5 L138.4 369.5 L138.6 369.5 L138.8 369.5 L139.0 369.5 L139.2 369.5 L139.4 369.5 L139.6 369.5 L139.8 369.5 L140.0 369.5 L140.2 369.5 L140.4 369.5 L140.6 369.5 L140.8 369.4 L141.0 369.4 L141.2 369.4 L141.4 369.4 L141.6 369.4 L141.8 369.4 L142.0 369.4 L142.2 369.4 L142.4 369.4 L142.6 369.4 L142.8 369.4 L143.0 369.3 L143.2 369.3 L143.4 369.3 L143.6 369.3 L143.8 369.3 L144.0 369.3 L144.2 369.3 L144.4 369.3 L144.6 369.3 L144.8 369.2 L145.0 369.2 L145.2 369.2 L145.4 369.2 L145.6 369.2 L145.8 369.2 L146.0 369.2 L146.2 369.1 L146.4 369.1 L146.6 369.1 L146.8 369.1 L146.9 369.1 L147.1 369.0 L147.3 369.0 L147.5 369.0 L147.7 369.0 L147.9 369.0 L148.1 368.9 L148.3 368.9 L148.5 368.9 L148.7 368.9 L148.9 368.8 L149.1 368.8 L149.3 368.8 L149.5 368.7 L149.7 368.7 L149.9 368.7 L150.1 368.6 L150.3 368.6 L150.5 368.6 L150.7 368.5 L150.9 368.5 L151.1 368.4 L151.3 368.4 L151.5 368.3 L151.7 368.3 L151.9 368.2 L152.1 368.2 L152.3 368.1 L152.5 368.0 L152.7 368.0 L152.9 367.9 L153.1 367.8 L153.3 367.7 L153.5 367.6 L153.7 367.5 L153.9 367.4 L154.1 367.3 L154.3 367.2 L154.5 367.1 L154.7 366.9 L154.9 366.8 L155.1 366.7 L155.3 366.5 L155.5 366.3 L155.7 366.1 L155.9 365.9 L156.1 365.7 L156.3 365.4 L156.5 365.2 L156.7 364.9 L156.9 364.5 L157.1 364.2 L157.3 363.8 L157.5 363.4 L157.7 362.9 L157.9 362.3 L158.1 361.7 L158.3 361.1 L158.5 360.3 L158.7 359.5 L158.9 358.6 L159.1 357.5 L159.3 356.4 L159.5 355.0 L159.7 353.6 L159.9 351.9 L160.1 350.0 L160.3 348.0 L160.5 345.8 L160.7 343.3 L160.9 340.8 L161.1 338.3 L161.3 335.8 L161.5 333.6 L161.7 331.9 L161.9 330.7 L162.1 330.2 L162.3 330.6 L162.5 331.7 L162.7 333.3 L162.9 335.5 L163.1 337.9 L163.3 340.4 L163.5 342.9 L163.7 345.3 L163.9 347.6 L164.1 349.6 L164.3 351.5 L164.5 353.1 L164.7 354.6 L164.9 355.9 L165.1 357.1 L165.3 358.1 L165.5 359.1 L165.7 359.9 L165.9 360.6 L166.1 361.2 L166.3 361.8 L166.5 362.3 L166.7 362.8 L166.9 363.2 L167.1 363.6 L167.3 363.9 L167.5 364.2 L167.7 364.5 L167.9 364.7 L168.1 364.9 L168.3 365.1 L168.4 365.3 L168.6 365.5 L168.8 365.6 L169.0 365.8 L169.2 365.9 L169.4 366.0 L169.6 366.1 L169.8 366.2 L170.0 366.3 L170.2 366.3 L170.4 366.4 L170.6 366.4 L170.8 366.5 L171.0 366.5 L171.2 366.6 L171.4 366.6 L171.6 366.6 L171.8 366.6 L172.0 366.6 L172.2 366.6 L172.4 366.6 L172.6 366.6 L172.8 366.6 L173.0 366.6 L173.2 366.6 L173.4 366.5 L173.6 366.5 L173.8 366.5 L174.0 366.4 L174.2 366.4 L174.4 366.3 L174.6 366.3 L174.8 366.2 L175.0 366.1 L175.2 366.1 L175.4 366.0 L175.6 365.9 L175.8 365.8 L176.0 365.7 L176.2 365.6 L176.4 365.5 L176.6 365.3 L176.8 365.2 L177.0 365.0 L177.2 364.9 L177.4 364.7 L177.6 364.5 L177.8 364.3 L178.0 364.1 L178.2 363.9 L178.4 363.6 L178.6 363.4 L178.8 363.1 L179.0 362.8 L179.2 362.4 L179.4 362.1 L179.6 361.7 L179.8 361.3 L180.0 360.8 L180.2 360.3 L180.4 359.8 L180.6 359.2 L180.8 358.6 L181.0 357.9 L181.2 357.1 L181.4 356.3 L181.6 355.4 L181.8 354.5 L182.0 353.4 L182.2 352.3 L182.4 351.0 L182.6 349.6 L182.8 348.1 L183.0 346.5 L183.2 344.7 L183.4 342.8 L183.6 340.8 L183.8 338.7 L184.0 336.4 L184.2 334.0 L184.4 331.7 L184.6 329.3 L184.8 327.0 L185.0 324.8 L185.2 322.9 L185.4 321.4 L185.6 320.3 L185.8 319.6 L186.0 319.5 L186.2 320.0 L186.4 320.9 L186.6 322.4 L186.8 324.1 L187.0 326.2 L187.2 328.5 L187.4 330.9 L187.6 333.3 L187.8 335.6 L188.0 338.0 L188.2 340.2 L188.4 342.2 L188.6 344.2 L188.8 346.0 L189.0 347.7 L189.2 349.3 L189.4 350.7 L189.6 352.0 L189.8 353.2 L189.9 354.3 L190.1 355.3 L190.3 356.2 L190.5 357.1 L190.7 357.9 L190.9 358.6 L191.1 359.2 L191.3 359.9 L191.5 360.4 L191.7 360.9 L191.9 361.4 L192.1 361.9 L192.3 362.3 L192.5 362.7 L192.7 363.0 L192.9 363.3 L193.1 363.7 L193.3 363.9 L193.5 364.2 L193.7 364.5 L193.9 364.7 L194.1 364.9 L194.3 365.1 L194.5 365.3 L194.7 365.5 L194.9 365.7 L195.1 365.8 L195.3 366.0 L195.5 366.1 L195.7 366.3 L195.9 366.4 L196.1 366.5 L196.3 366.7 L196.5 366.8 L196.7 366.9 L196.9 367.0 L197.1 367.1 L197.3 367.2 L197.5 367.2 L197.7 367.3 L197.9 367.4 L198.1 367.5 L198.3 367.6 L198.5 367.6 L198.7 367.7 L198.9 367.8 L199.1 367.8 L199.3 367.9 L199.5 367.9 L199.7 368.0 L199.9 368.0 L200.1 368.1 L200.3 368.1 L200.5 368.2 L200.7 368.2 L200.9 368.3 L201.1 368.3 L201.3 368.3 L201.5 368.4 L201.7 368.4 L201.9 368.5 L202.1 368.5 L202.3 368.5 L202.5 368.6 L202.7 368.6 L202.9 368.6 L203.1 368.6 L203.3 368.7 L203.5 368.7 L203.7 368.7 L203.9 368.7 L204.1 368.8 L204.3 368.8 L204.5 368.8 L204.7 368.8 L204.9 368.9 L205.1 368.9 L205.3 368.9 L205.5 368.9 L205.7 368.9 L205.9 369.0 L206.1 369.0 L206.3 369.0 L206.5 369.0 L206.7 369.0 L206.9 369.0 L207.1 369.1 L207.3 369.1 L207.5 369.1 L207.7 369.1 L207.9 369.1 L208.1 369.1 L208.3 369.1 L208.5 369.2 L208.7 369.2 L208.9 369.2 L209.1 369.2 L209.3 369.2 L209.5 369.2 L209.7 369.2 L209.9 369.2 L210.1 369.3 L210.3 369.3 L210.5 369.3 L210.7 369.3 L210.9 369.3 L211.1 369.3 L211.2 369.3 L211.4 369.3 L211.6 369.3 L211.8 369.3 L212.0 369.3 L212.2 369.4 L212.4 369.4 L212.6 369.4 L212.8 369.4 L213.0 369.4 L213.2 369.4 L213.4 369.4 L213.6 369.4 L213.8 369.4 L214.0 369.4 L214.2 369.4 L214.4 369.4 L214.6 369.4 L214.8 369.4 L215.0 369.5 L215.2 369.5 L215.4 369.5 L215.6 369.5 L215.8 369.5 L216.0 369.5 L216.2 369.5 L216.4 369.5 L216.6 369.5 L216.8 369.5 L217.0 369.5 L217.2 369.5 L217.4 369.5 L217.6 369.5 L217.8 369.5 L218.0 369.5 L218.2 369.5 L218.4 369.5 L218.6 369.5 L218.8 369.5 L219.0 369.6 L219.2 369.6 L219.4 369.6 L219.6 369.6 L219.8 369.6 L220.0 369.6 L220.2 369.6 L220.4 369.6 L220.6 369.6 L220.8 369.6 L221.0 369.6 L221.2 369.6 L221.4 369.6 L221.6 369.6 L221.8 369.6 L222.0 369.6 L222.2 369.6 L222.4 369.6 L222.6 369.6 L222.8 369.6 L223.0 369.6 L223.2 369.6 L223.4 369.6 L223.6 369.6 L223.8 369.6 L224.0 369.6 L224.2 369.6 L224.4 369.6 L224.6 369.6 L224.8 369.6 L225.0 369.6 L225.2 369.7 L225.4 369.7 L225.6 369.7 L225.8 369.7 L226.0 369.7 L226.2 369.7 L226.4 369.7 L226.6 369.7 L226.8 369.7 L227.0 369.7 L227.2 369.7 L227.4 369.7 L227.6 369.7 L227.8 369.7 L228.0 369.7 L228.2 369.7 L228.4 369.7 L228.6 369.7 L228.8 369.7 L229.0 369.7 L229.2 369.7 L229.4 369.7 L229.6 369.7 L229.8 369.7 L230.0 369.7 L230.2 369.7 L230.4 369.7 L230.6 369.7 L230.8 369.7 L231.0 369.7 L231.2 369.7 L231.4 369.7 L231.6 369.7 L231.8 369.7 L232.0 369.7 L232.2 369.7 L232.4 369.7 L232.6 369.7 L232.7 369.7 L232.9 369.7 L233.1 369.7 L233.3 369.7 L233.5 369.7 L233.7 369.7 L233.9 369.7 L234.1 369.7 L234.3 369.7 L234.5 369.7 L234.7 369.7 L234.9 369.7 L235.1 369.7 L235.3 369.7 L235.5 369.7 L235.7 369.7 L235.9 369.7 L236.1 369.7 L236.3 369.7 L236.5 369.7 L236.7 369.7 L236.9 369.7 L237.1 369.7 L237.3 369.7 L237.5 369.7 L237.7 369.8 L237.9 369.8 L238.1 369.8 L238.3 369.8 L238.5 369.8 L238.7 369.8 L238.9 369.8 L239.1 369.8 L239.3 369.8 L239.5 369.8 L239.7 369.8 L239.9 369.8 L240.1 369.8 L240.3 369.8 L240.5 369.8 L240.7 369.8 L240.9 369.8 L241.1 369.8 L241.3 369.8 L241.5 369.8 L241.7 369.8 L241.9 369.8 L242.1 369.8 L242.3 369.8 L242.5 369.8 L242.7 369.8 L242.9 369.8 L243.1 369.8 L243.3 369.8 L243.5 369.8 L243.7 369.8 L243.9 369.8 L244.1 369.8 L244.3 369.8 L244.5 369.8 L244.7 369.8 L244.9 369.8 L245.1 369.8 L245.3 369.8 L245.5 369.8 L245.7 369.8 L245.9 369.8 L246.1 369.8 L246.3 369.8 L246.5 369.8 L246.7 369.8 L246.9 369.8 L247.1 369.8 L247.3 369.8 L247.5 369.8 L247.7 369.8 L247.9 369.8 L248.1 369.8 L248.3 369.8 L248.5 369.8 L248.7 369.8 L248.9 369.8 L249.1 369.8 L249.3 369.8 L249.5 369.8 L249.7 369.8 L249.9 369.8 L250.1 369.8 L250.3 369.8 L250.5 369.8 L250.7 369.8 L250.9 369.8 L251.1 369.8 L251.3 369.8 L251.5 369.8 L251.7 369.8 L251.9 369.8 L252.1 369.8 L252.3 369.8 L252.5 369.8 L252.7 369.8 L252.9 369.8 L253.1 369.8 L253.3 369.8 L253.5 369.8 L253.7 369.8 L253.9 369.8 L254.1 369.8 L254.2 369.8 L254.4 369.8 L254.6 369.8 L254.8 369.8 L255.0 369.8 L255.2 369.8 L255.4 369.8 L255.6 369.8 L255.8 369.8 L256.0 369.8 L256.2 369.8 L256.4 369.8 L256.6 369.8 L256.8 369.8 L257.0 369.8 L257.2 369.8 L257.4 369.8 L257.6 369.8 L257.8 369.8 L258.0 369.8 L258.2 369.8 L258.4 369.8 L258.6 369.8 L258.8 369.8 L259.0 369.8 L259.2 369.8 L259.4 369.8 L259.6 369.8 L259.8 369.8 L260.0 369.8 L260.2 369.8 L260.4 369.8 L260.6 369.8 L260.8 369.8 L261.0 369.8 L261.2 369.8 L261.4 369.8 L261.6 369.8 L261.8 369.8 L262.0 369.8 L262.2 369.8 L262.4 369.8 L262.6 369.8 L262.8 369.8 L263.0 369.8 L263.2 369.8 L263.4 369.8 L263.6 369.8 L263.8 369.8 L264.0 369.8 L264.2 369.8 L264.4 369.8 L264.6 369.8 L264.8 369.8 L265.0 369.8 L265.2 369.8 L265.4 369.8 L265.6 369.8 L265.8 369.8 L266.0 369.8 L266.2 369.8 L266.4 369.8 L266.6 369.8 L266.8 369.8 L267.0 369.8 L267.2 369.8 L267.4 369.8 L267.6 369.8 L267.8 369.8 L268.0 369.8 L268.2 369.8 L268.4 369.8 L268.6 369.8 L268.8 369.8 L269.0 369.8 L269.2 369.8 L269.4 369.8 L269.6 369.8 L269.8 369.8 L270.0 369.8 L270.2 369.8 L270.4 369.8 L270.6 369.8 L270.8 369.8 L271.0 369.8 L271.2 369.8 L271.4 369.8 L271.6 369.8 L271.8 369.8 L272.0 369.8 L272.2 369.8 L272.4 369.8 L272.6 369.8 L272.8 369.8 L273.0 369.8 L273.2 369.8 L273.4 369.8 L273.6 369.8 L273.8 369.8 L274.0 369.8 L274.2 369.8 L274.4 369.8 L274.6 369.8 L274.8 369.8 L275.0 369.8 L275.2 369.8 L275.4 369.8 L275.6 369.8 L275.7 369.8 L275.9 369.8 L276.1 369.8 L276.3 369.8 L276.5 369.8 L276.7 369.8 L276.9 369.8 L277.1 369.8 L277.3 369.8 L277.5 369.8 L277.7 369.8 L277.9 369.8 L278.1 369.8 L278.3 369.8 L278.5 369.8 L278.7 369.8 L278.9 369.8 L279.1 369.8 L279.3 369.8 L279.5 369.8 L279.7 369.8 L279.9 369.8 L280.1 369.8 L280.3 369.8 L280.5 369.8 L280.7 369.8 L280.9 369.8 L281.1 369.8 L281.3 369.8 L281.5 369.8 L281.7 369.8 L281.9 369.8 L282.1 369.8 L282.3 369.8 L282.5 369.8 L282.7 369.8 L282.9 369.8 L283.1 369.8 L283.3 369.8 L283.5 369.8 L283.7 369.8 L283.9 369.8 L284.1 369.8 L284.3 369.8 L284.5 369.8 L284.7 369.8 L284.9 369.8 L285.1 369.8 L285.3 369.8 L285.5 369.8 L285.7 369.8 L285.9 369.8 L286.1 369.8 L286.3 369.8 L286.5 369.8 L286.7 369.8 L286.9 369.8 L287.1 369.8 L287.3 369.8 L287.5 369.8 L287.7 369.8 L287.9 369.8 L288.1 369.8 L288.3 369.8 L288.5 369.8 L288.7 369.8 L288.9 369.7 L289.1 369.7 L289.3 369.7 L289.5 369.7 L289.7 369.7 L289.9 369.7 L290.1 369.7 L290.3 369.7 L290.5 369.7 L290.7 369.7 L290.9 369.7 L291.1 369.7 L291.3 369.7 L291.5 369.7 L291.7 369.7 L291.9 369.7 L292.1 369.7 L292.3 369.7 L292.5 369.7 L292.7 369.7 L292.9 369.7 L293.1 369.7 L293.3 369.7 L293.5 369.7 L293.7 369.7 L293.9 369.7 L294.1 369.7 L294.3 369.7 L294.5 369.7 L294.7 369.7 L294.9 369.7 L295.1 369.7 L295.3 369.7 L295.5 369.7 L295.7 369.7 L295.9 369.7 L296.1 369.7 L296.3 369.7 L296.5 369.7 L296.7 369.7 L296.9 369.7 L297.1 369.7 L297.2 369.7 L297.4 369.7 L297.6 369.7 L297.8 369.7 L298.0 369.7 L298.2 369.7 L298.4 369.7 L298.6 369.7 L298.8 369.7 L299.0 369.7 L299.2 369.7 L299.4 369.7 L299.6 369.7 L299.8 369.7 L300.0 369.7 L300.2 369.7 L300.4 369.7 L300.6 369.7 L300.8 369.7 L301.0 369.7 L301.2 369.7 L301.4 369.7 L301.6 369.7 L301.8 369.7 L302.0 369.7 L302.2 369.7 L302.4 369.7 L302.6 369.7 L302.8 369.7 L303.0 369.7 L303.2 369.7 L303.4 369.7 L303.6 369.7 L303.8 369.7 L304.0 369.7 L304.2 369.7 L304.4 369.6 L304.6 369.6 L304.8 369.6 L305.0 369.6 L305.2 369.6 L305.4 369.6 L305.6 369.6 L305.8 369.6 L306.0 369.6 L306.2 369.6 L306.4 369.6 L306.6 369.6 L306.8 369.6 L307.0 369.6 L307.2 369.6 L307.4 369.6 L307.6 369.6 L307.8 369.6 L308.0 369.6 L308.2 369.6 L308.4 369.6 L308.6 369.6 L308.8 369.6 L309.0 369.6 L309.2 369.6 L309.4 369.6 L309.6 369.6 L309.8 369.6 L310.0 369.6 L310.2 369.6 L310.4 369.6 L310.6 369.6 L310.8 369.6 L311.0 369.6 L311.2 369.6 L311.4 369.6 L311.6 369.6 L311.8 369.6 L312.0 369.6 L312.2 369.5 L312.4 369.5 L312.6 369.5 L312.8 369.5 L313.0 369.5 L313.2 369.5 L313.4 369.5 L313.6 369.5 L313.8 369.5 L314.0 369.5 L314.2 369.5 L314.4 369.5 L314.6 369.5 L314.8 369.5 L315.0 369.5 L315.2 369.5 L315.4 369.5 L315.6 369.5 L315.8 369.5 L316.0 369.5 L316.2 369.5 L316.4 369.5 L316.6 369.5 L316.8 369.5 L317.0 369.5 L317.2 369.4 L317.4 369.4 L317.6 369.4 L317.8 369.4 L318.0 369.4 L318.2 369.4 L318.4 369.4 L318.5 369.4 L318.7 369.4 L318.9 369.4 L319.1 369.4 L319.3 369.4 L319.5 369.4 L319.7 369.4 L319.9 369.4 L320.1 369.4 L320.3 369.4 L320.5 369.4 L320.7 369.3 L320.9 369.3 L321.1 369.3 L321.3 369.3 L321.5 369.3 L321.7 369.3 L321.9 369.3 L322.1 369.3 L322.3 369.3 L322.5 369.3 L322.7 369.3 L322.9 369.3 L323.1 369.3 L323.3 369.3 L323.5 369.2 L323.7 369.2 L323.9 369.2 L324.1 369.2 L324.3 369.2 L324.5 369.2 L324.7 369.2 L324.9 369.2 L325.1 369.2 L325.3 369.2 L325.5 369.1 L325.7 369.1 L325.9 369.1 L326.1 369.1 L326.3 369.1 L326.5 369.1 L326.7 369.1 L326.9 369.1 L327.1 369.1 L327.3 369.0 L327.5 369.0 L327.7 369.0 L327.9 369.0 L328.1 369.0 L328.3 369.0 L328.5 369.0 L328.7 368.9 L328.9 368.9 L329.1 368.9 L329.3 368.9 L329.5 368.9 L329.7 368.9 L329.9 368.8 L330.1 368.8 L330.3 368.8 L330.5 368.8 L330.7 368.8 L330.9 368.7 L331.1 368.7 L331.3 368.7 L331.5 368.7 L331.7 368.7 L331.9 368.6 L332.1 368.6 L332.3 368.6 L332.5 368.6 L332.7 368.5 L332.9 368.5 L333.1 368.5 L333.3 368.5 L333.5 368.4 L333.7 368.4 L333.9 368.4 L334.1 368.3 L334.3 368.3 L334.5 368.3 L334.7 368.2 L334.9 368.2 L335.1 368.2 L335.3 368.1 L335.5 368.1 L335.7 368.0 L335.9 368.0 L336.1 368.0 L336.3 367.9 L336.5 367.9 L336.7 367.8 L336.9 367.8 L337.1 367.7 L337.3 367.7 L337.5 367.6 L337.7 367.5 L337.9 367.5 L338.1 367.4 L338.3 367.4 L338.5 367.3 L338.7 367.2 L338.9 367.1 L339.1 367.1 L339.3 367.0 L339.5 366.9 L339.7 366.8 L339.9 366.7 L340.0 366.6 L340.2 366.5 L340.4 366.4 L340.6 366.3 L340.8 366.2 L341.0 366.0 L341.2 365.9 L341.4 365.8 L341.6 365.6 L341.8 365.5 L342.0 365.3 L342.2 365.2 L342.4 365.0 L342.6 364.8 L342.8 364.6 L343.0 364.4 L343.2 364.2 L343.4 363.9 L343.6 363.7 L343.8 363.4 L344.0 363.1 L344.2 362.8 L344.4 362.5 L344.6 362.1 L344.8 361.7 L345.0 361.3 L345.2 360.9 L345.4 360.4 L345.6 359.9 L345.8 359.4 L346.0 358.8 L346.2 358.2 L346.4 357.5 L346.6 356.7 L346.8 355.9 L347.0 355.0 L347.2 354.0 L347.4 352.9 L347.6 351.7 L347.8 350.4 L348.0 348.9 L348.2 347.3 L348.4 345.4 L348.6 343.4 L348.8 341.1 L349.0 338.5 L349.2 335.7 L349.4 332.4 L349.6 328.7 L349.8 324.5 L350.0 319.7 L350.2 314.3 L350.4 308.2 L350.6 301.3 L350.8 293.4 L351.0 284.7 L351.2 275.1 L351.4 264.8 L351.6 254.1 L351.8 243.3 L352.0 233.2 L352.2 224.6 L352.4 218.5 L352.6 215.5 L352.8 216.0 L353.0 220.1 L353.2 227.0 L353.4 236.1 L353.6 246.5 L353.8 257.3 L354.0 268.0 L354.2 278.1 L354.4 287.5 L354.6 295.9 L354.8 303.4 L355.0 310.1 L355.2 316.0 L355.4 321.2 L355.6 325.8 L355.8 329.8 L356.0 333.4 L356.2 336.5 L356.4 339.3 L356.6 341.8 L356.8 344.0 L357.0 346.0 L357.2 347.7 L357.4 349.3 L357.6 350.7 L357.8 352.0 L358.0 353.2 L358.2 354.3 L358.4 355.2 L358.6 356.1 L358.8 356.9 L359.0 357.6 L359.2 358.3 L359.4 358.9 L359.6 359.5 L359.8 360.0 L360.0 360.5 L360.2 361.0 L360.4 361.4 L360.6 361.8 L360.8 362.2 L361.0 362.5 L361.2 362.8 L361.4 363.1 L361.5 363.4 L361.7 363.7 L361.9 363.9 L362.1 364.2 L362.3 364.4 L362.5 364.6 L362.7 364.8 L362.9 365.0 L363.1 365.1 L363.3 365.3 L363.5 365.5 L363.7 365.6 L363.9 365.7 L364.1 365.9 L364.3 366.0 L364.5 366.1 L364.7 366.2 L364.9 366.4 L365.1 366.5 L365.3 366.6 L365.5 366.7 L365.7 366.7 L365.9 366.8 L366.1 366.9 L366.3 367.0 L366.5 367.1 L366.7 367.1 L366.9 367.2 L367.1 367.3 L367.3 367.3 L367.5 367.4 L367.7 367.5 L367.9 367.5 L368.1 367.6 L368.3 367.6 L368.5 367.7 L368.7 367.7 L368.9 367.8 L369.1 367.8 L369.3 367.9 L369.5 367.9 L369.7 367.9 L369.9 368.0 L370.1 368.0 L370.3 368.1 L370.5 368.1 L370.7 368.1 L370.9 368.2 L371.1 368.2 L371.3 368.2 L371.5 368.3 L371.7 368.3 L371.9 368.3 L372.1 368.3 L372.3 368.4 L372.5 368.4 L372.7 368.4 L372.9 368.4 L373.1 368.5 L373.3 368.5 L373.5 368.5 L373.7 368.5 L373.9 368.5 L374.1 368.6 L374.3 368.6 L374.5 368.6 L374.7 368.6 L374.9 368.6 L375.1 368.7 L375.3 368.7 L375.5 368.7 L375.7 368.7 L375.9 368.7 L376.1 368.7 L376.3 368.7 L376.5 368.8 L376.7 368.8 L376.9 368.8 L377.1 368.8 L377.3 368.8 L377.5 368.8 L377.7 368.8 L377.9 368.8 L378.1 368.9 L378.3 368.9 L378.5 368.9 L378.7 368.9 L378.9 368.9 L379.1 368.9 L379.3 368.9 L379.5 368.9 L379.7 368.9 L379.9 368.9 L380.1 369.0 L380.3 369.0 L380.5 369.0 L380.7 369.0 L380.9 369.0 L381.1 369.0 L381.3 369.0 L381.5 369.0 L381.7 369.0 L381.9 369.0 L382.1 369.0 L382.3 369.0 L382.5 369.0 L382.7 369.0 L382.9 369.1 L383.0 369.1 L383.2 369.1 L383.4 369.1 L383.6 369.1 L383.8 369.1 L384.0 369.1 L384.2 369.1 L384.4 369.1 L384.6 369.1 L384.8 369.1 L385.0 369.1 L385.2 369.1 L385.4 369.1 L385.6 369.1 L385.8 369.1 L386.0 369.1 L386.2 369.1 L386.4 369.1 L386.6 369.1 L386.8 369.1 L387.0 369.1 L387.2 369.1 L387.4 369.1 L387.6 369.1 L387.8 369.1 L388.0 369.1 L388.2 369.1 L388.4 369.2 L388.6 369.2 L388.8 369.2 L389.0 369.2 L389.2 369.2 L389.4 369.2 L389.6 369.2 L389.8 369.2 L390.0 369.2 L390.2 369.2 L390.4 369.2 L390.6 369.2 L390.8 369.2 L391.0 369.2 L391.2 369.2 L391.4 369.2 L391.6 369.2 L391.8 369.2 L392.0 369.2 L392.2 369.2 L392.4 369.2 L392.6 369.2 L392.8 369.2 L393.0 369.2 L393.2 369.2 L393.4 369.2 L393.6 369.2 L393.8 369.2 L394.0 369.2 L394.2 369.2 L394.4 369.2 L394.6 369.2 L394.8 369.2 L395.0 369.2 L395.2 369.2 L395.4 369.2 L395.6 369.2 L395.8 369.2 L396.0 369.2 L396.2 369.2 L396.4 369.2 L396.6 369.1 L396.8 369.1 L397.0 369.1 L397.2 369.1 L397.4 369.1 L397.6 369.1 L397.8 369.1 L398.0 369.1 L398.2 369.1 L398.4 369.1 L398.6 369.1 L398.8 369.1 L399.0 369.1 L399.2 369.1 L399.4 369.1 L399.6 369.1 L399.8 369.1 L400.0 369.1 L400.2 369.1 L400.4 369.1 L400.6 369.1 L400.8 369.1 L401.0 369.1 L401.2 369.1 L401.4 369.1 L401.6 369.1 L401.8 369.1 L402.0 369.1 L402.2 369.1 L402.4 369.1 L402.6 369.0 L402.8 369.0 L403.0 369.0 L403.2 369.0 L403.4 369.0 L403.6 369.0 L403.8 369.0 L404.0 369.0 L404.2 369.0 L404.3 369.0 L404.5 369.0 L404.7 369.0 L404.9 369.0 L405.1 369.0 L405.3 369.0 L405.5 369.0 L405.7 368.9 L405.9 368.9 L406.1 368.9 L406.3 368.9 L406.5 368.9 L406.7 368.9 L406.9 368.9 L407.1 368.9 L407.3 368.9 L407.5 368.9 L407.7 368.9 L407.9 368.8 L408.1 368.8 L408.3 368.8 L408.5 368.8 L408.7 368.8 L408.9 368.8 L409.1 368.8 L409.3 368.8 L409.5 368.8 L409.7 368.7 L409.9 368.7 L410.1 368.7 L410.3 368.7 L410.5 368.7 L410.7 368.7 L410.9 368.7 L411.1 368.6 L411.3 368.6 L411.5 368.6 L411.7 368.6 L411.9 368.6 L412.1 368.6 L412.3 368.5 L412.5 368.5 L412.7 368.5 L412.9 368.5 L413.1 368.5 L413.3 368.4 L413.5 368.4 L413.7 368.4 L413.9 368.4 L414.1 368.3 L414.3 368.3 L414.5 368.3 L414.7 368.3 L414.9 368.2 L415.1 368.2 L415.3 368.2 L415.5 368.1 L415.7 368.1 L415.9 368.1 L416.1 368.0 L416.3 368.0 L416.5 368.0 L416.7 367.9 L416.9 367.9 L417.1 367.8 L417.3 367.8 L417.5 367.8 L417.7 367.7 L417.9 367.7 L418.1 367.6 L418.3 367.6 L418.5 367.5 L418.7 367.4 L418.9 367.4 L419.1 367.3 L419.3 367.2 L419.5 367.2 L419.7 367.1 L419.9 367.0 L420.1 366.9 L420.3 366.9 L420.5 366.8 L420.7 366.7 L420.9 366.6 L421.1 366.5 L421.3 366.3 L421.5 366.2 L421.7 366.1 L421.9 366.0 L422.1 365.8 L422.3 365.7 L422.5 365.5 L422.7 365.3 L422.9 365.2 L423.1 365.0 L423.3 364.8 L423.5 364.5 L423.7 364.3 L423.9 364.0 L424.1 363.8 L424.3 363.5 L424.5 363.1 L424.7 362.8 L424.9 362.4 L425.1 362.0 L425.3 361.5 L425.5 361.0 L425.7 360.5 L425.8 359.9 L426.0 359.2 L426.2 358.5 L426.4 357.6 L426.6 356.7 L426.8 355.7 L427.0 354.6 L427.2 353.3 L427.4 351.8 L427.6 350.1 L427.8 348.2 L428.0 346.0 L428.2 343.5 L428.4 340.5 L428.6 337.1 L428.8 333.0 L429.0 328.3 L429.2 322.7 L429.4 316.1 L429.6 308.3 L429.8 299.0 L430.0 288.3 L430.2 276.0 L430.4 262.4 L430.6 248.1 L430.8 234.4 L431.0 223.1 L431.2 216.2 L431.4 215.0 L431.6 220.0 L431.8 230.0 L432.0 243.1 L432.2 257.3 L432.4 271.2 L432.6 284.0 L432.8 295.3 L433.0 305.0 L433.2 313.3 L433.4 320.3 L433.6 326.3 L433.8 331.3 L434.0 335.5 L434.2 339.1 L434.4 342.2 L434.6 344.9 L434.8 347.2 L435.0 349.2 L435.2 350.9 L435.4 352.4 L435.6 353.8 L435.8 355.0 L436.0 356.0 L436.2 357.0 L436.4 357.8 L436.6 358.6 L436.8 359.2 L437.0 359.8 L437.2 360.4 L437.4 360.9 L437.6 361.3 L437.8 361.8 L438.0 362.1 L438.2 362.5 L438.4 362.8 L438.6 363.1 L438.8 363.4 L439.0 363.6 L439.2 363.8 L439.4 364.1 L439.6 364.2 L439.8 364.4 L440.0 364.6 L440.2 364.8 L440.4 364.9 L440.6 365.0 L440.8 365.2 L441.0 365.3 L441.2 365.4 L441.4 365.5 L441.6 365.6 L441.8 365.7 L442.0 365.8 L442.2 365.8 L442.4 365.9 L442.6 366.0 L442.8 366.0 L443.0 366.1 L443.2 366.1 L443.4 366.2 L443.6 366.2 L443.8 366.3 L444.0 366.3 L444.2 366.4 L444.4 366.4 L444.6 366.4 L444.8 366.4 L445.0 366.5 L445.2 366.5 L445.4 366.5 L445.6 366.5 L445.8 366.6 L446.0 366.6 L446.2 366.6 L446.4 366.6 L446.6 366.6 L446.8 366.6 L447.0 366.6 L447.2 366.6 L447.3 366.6 L447.5 366.6 L447.7 366.6 L447.9 366.6 L448.1 366.6 L448.3 366.6 L448.5 366.6 L448.7 366.6 L448.9 366.6 L449.1 366.6 L449.3 366.5 L449.5 366.5 L449.7 366.5 L449.9 366.5 L450.1 366.5 L450.3 366.4 L450.5 366.4 L450.7 366.4 L450.9 366.4 L451.1 366.3 L451.3 366.3 L451.5 366.3 L451.7 366.3 L451.9 366.2 L452.1 366.2 L452.3 366.1 L452.5 366.1 L452.7 366.1 L452.9 366.0 L453.1 366.0 L453.3 365.9 L453.5 365.9 L453.7 365.8 L453.9 365.8 L454.1 365.7 L454.3 365.7 L454.5 365.6 L454.7 365.6 L454.9 365.5 L455.1 365.4 L455.3 365.4 L455.5 365.3 L455.7 365.2 L455.9 365.1 L456.1 365.1 L456.3 365.0 L456.5 364.9 L456.7 364.8 L456.9 364.7 L457.1 364.6 L457.3 364.5 L457.5 364.4 L457.7 364.3 L457.9 364.2 L458.1 364.1 L458.3 363.9 L458.5 363.8 L458.7 363.7 L458.9 363.5 L459.1 363.4 L459.3 363.3 L459.5 363.1 L459.7 362.9 L459.9 362.8 L460.1 362.6 L460.3 362.4 L460.5 362.2 L460.7 362.0 L460.9 361.8 L461.1 361.5 L461.3 361.3 L461.5 361.0 L461.7 360.8 L461.9 360.5 L462.1 360.2 L462.3 359.9 L462.5 359.5 L462.7 359.2 L462.9 358.8 L463.1 358.4 L463.3 358.0 L463.5 357.6 L463.7 357.1 L463.9 356.6 L464.1 356.0 L464.3 355.4 L464.5 354.8 L464.7 354.1 L464.9 353.4 L465.1 352.6 L465.3 351.8 L465.5 350.8 L465.7 349.8 L465.9 348.7 L466.1 347.5 L466.3 346.2 L466.5 344.8 L466.7 343.2 L466.9 341.4 L467.1 339.4 L467.3 337.3 L467.5 334.8 L467.7 332.0 L467.9 328.9 L468.1 325.4 L468.3 321.4 L468.5 316.8 L468.7 311.5 L468.8 305.5 L469.0 298.4 L469.2 290.3 L469.4 281.0 L469.6 270.1 L469.8 257.7 L470.0 243.5 L470.2 227.8 L470.4 210.7 L470.6 193.1 L470.8 176.2 L471.0 161.8 L471.2 151.7 L471.4 147.5 L471.6 149.9 L471.8 158.3 L472.0 171.2 L472.2 186.6 L472.4 202.8 L472.6 218.5 L472.8 232.8 L473.0 245.5 L473.2 256.5 L473.4 265.7 L473.6 273.3 L473.8 279.6 L474.0 284.6 L474.2 288.5 L474.4 291.4 L474.6 293.5 L474.8 294.7 L475.0 295.2 L475.2 295.0 L475.4 294.1 L475.6 292.5 L475.8 290.2 L476.0 287.2 L476.2 283.5 L476.4 279.0 L476.6 273.7 L476.8 267.6 L477.0 260.6 L477.2 252.7 L477.4 244.0 L477.6 234.5 L477.8 224.5 L478.0 214.1 L478.2 203.9 L478.4 194.3 L478.6 185.9 L478.8 179.5 L479.0 175.6 L479.2 174.6 L479.4 176.6 L479.6 181.5 L479.8 188.9 L480.0 198.1 L480.2 208.5 L480.4 219.5 L480.6 230.5 L480.8 241.3 L481.0 251.5 L481.2 260.9 L481.4 269.6 L481.6 277.6 L481.8 284.7 L482.0 291.1 L482.2 296.9 L482.4 302.0 L482.6 306.6 L482.8 310.7 L483.0 314.3 L483.2 317.6 L483.4 320.5 L483.6 323.1 L483.8 325.4 L484.0 327.5 L484.2 329.3 L484.4 330.9 L484.6 332.4 L484.8 333.6 L485.0 334.8 L485.2 335.7 L485.4 336.6 L485.6 337.3 L485.8 337.9 L486.0 338.4 L486.2 338.8 L486.4 339.1 L486.6 339.3 L486.8 339.4 L487.0 339.4 L487.2 339.3 L487.4 339.1 L487.6 338.8 L487.8 338.4 L488.0 337.9 L488.2 337.3 L488.4 336.6 L488.6 335.7 L488.8 334.7 L489.0 333.6 L489.2 332.3 L489.4 330.8 L489.6 329.1 L489.8 327.2 L490.0 325.1 L490.1 322.7 L490.3 319.9 L490.5 316.9 L490.7 313.4 L490.9 309.4 L491.1 305.0 L491.3 299.9 L491.5 294.1 L491.7 287.6 L491.9 280.0 L492.1 271.4 L492.3 261.5 L492.5 250.2 L492.7 237.1 L492.9 222.2 L493.1 205.2 L493.3 185.9 L493.5 164.5 L493.7 140.9 L493.9 115.9 L494.1 90.4 L494.3 66.1 L494.5 45.0 L494.7 29.6 L494.9 21.9 L495.1 23.1 L495.3 33.0 L495.5 50.2 L495.7 72.4 L495.9 97.4 L496.1 123.1 L496.3 148.1 L496.5 171.3 L496.7 192.5 L496.9 211.4 L497.1 228.1 L497.3 242.8 L497.5 255.6 L497.7 266.8 L497.9 276.7 L498.1 285.2 L498.3 292.8 L498.5 299.4 L498.7 305.2 L498.9 310.4 L499.1 315.0 L499.3 319.1 L499.5 322.8 L499.7 326.1 L499.9 329.0 L500.1 331.7 L500.3 334.1 L500.5 336.3 L500.7 338.3 L500.9 340.2 L501.1 341.8 L501.3 343.4 L501.5 344.8 L501.7 346.1 L501.9 347.2 L502.1 348.4 L502.3 349.4 L502.5 350.3 L502.7 351.2 L502.9 352.0 L503.1 352.8 L503.3 353.5 L503.5 354.2 L503.7 354.8 L503.9 355.4 L504.1 356.0 L504.3 356.5 L504.5 357.0 L504.7 357.5 L504.9 357.9 L505.1 358.3 L505.3 358.7 L505.5 359.1 L505.7 359.4 L505.9 359.8 L506.1 360.1 L506.3 360.4 L506.5 360.7 L506.7 361.0 L506.9 361.2 L507.1 361.5 L507.3 361.7 L507.5 361.9 L507.7 362.2 L507.9 362.4 L508.1 362.6 L508.3 362.8 L508.5 362.9 L508.7 363.1 L508.9 363.3 L509.1 363.5 L509.3 363.6 L509.5 363.8 L509.7 363.9 L509.9 364.1 L510.1 364.2 L510.3 364.3 L510.5 364.4 L510.7 364.6 L510.9 364.7 L511.1 364.8 L511.3 364.9 L511.5 365.0" fill="none" stroke="#ff7f0e" stroke-width="2.9" stroke-linejoin="round" stroke-linecap="square"/>
<rect x="95.5" y="4.5" width="436.5" height="382.5" fill="none" stroke="#000" stroke-width="2.1"/>
<line x1="114.4" y1="387" x2="114.4" y2="393.2" stroke="#000" stroke-width="2"/>
<text x="114.7" y="416.4" text-anchor="middle" font-family='"Liberation Serif", serif' font-size="26.67" fill="#000">6000</text>
<line x1="273.3" y1="387" x2="273.3" y2="393.2" stroke="#000" stroke-width="2"/>
<text x="273.6" y="416.4" text-anchor="middle" font-family='"Liberation Serif", serif' font-size="26.67" fill="#000">4000</text>
<line x1="432.2" y1="387" x2="432.2" y2="393.2" stroke="#000" stroke-width="2"/>
<text x="432.5" y="416.4" text-anchor="middle" font-family='"Liberation Serif", serif' font-size="26.67" fill="#000">2000</text>
<line x1="88.5" y1="346.6" x2="95.5" y2="346.6" stroke="#000" stroke-width="2"/>
<text x="83.6" y="355.8" text-anchor="end" font-family='"Liberation Serif", serif' font-size="26.67" fill="#1f77b4">1.450</text>
<line x1="88.5" y1="280.9" x2="95.5" y2="280.9" stroke="#000" stroke-width="2"/>
<text x="83.6" y="290.1" text-anchor="end" font-family='"Liberation Serif", serif' font-size="26.67" fill="#1f77b4">1.475</text>
<line x1="88.5" y1="215.3" x2="95.5" y2="215.3" stroke="#000" stroke-width="2"/>
<text x="83.6" y="224.5" text-anchor="end" font-family='"Liberation Serif", serif' font-size="26.67" fill="#1f77b4">1.500</text>
<line x1="88.5" y1="149.7" x2="95.5" y2="149.7" stroke="#000" stroke-width="2"/>
<text x="83.6" y="158.9" text-anchor="end" font-family='"Liberation Serif", serif' font-size="26.67" fill="#1f77b4">1.525</text>
<line x1="88.5" y1="84.0" x2="95.5" y2="84.0" stroke="#000" stroke-width="2"/>
<text x="83.6" y="93.2" text-anchor="end" font-family='"Liberation Serif", serif' font-size="26.67" fill="#1f77b4">1.550</text>
<line x1="88.5" y1="18.4" x2="95.5" y2="18.4" stroke="#000" stroke-width="2"/>
<text x="83.6" y="27.6" text-anchor="end" font-family='"Liberation Serif", serif' font-size="26.67" fill="#1f77b4">1.575</text>
<line x1="532" y1="369.8" x2="538" y2="369.8" stroke="#000" stroke-width="2"/>
<text x="541.5" y="379.4" text-anchor="start" font-family='"Liberation Serif", serif' font-size="26.67" fill="#ff7f0e">0.00</text>
<line x1="532" y1="313.8" x2="538" y2="313.8" stroke="#000" stroke-width="2"/>
<text x="541.5" y="323.4" text-anchor="start" font-family='"Liberation Serif", serif' font-size="26.67" fill="#ff7f0e">0.02</text>
<line x1="532" y1="257.8" x2="538" y2="257.8" stroke="#000" stroke-width="2"/>
<text x="541.5" y="267.4" text-anchor="start" font-family='"Liberation Serif", serif' font-size="26.67" fill="#ff7f0e">0.04</text>
<line x1="532" y1="201.8" x2="538" y2="201.8" stroke="#000" stroke-width="2"/>
<text x="541.5" y="211.4" text-anchor="start" font-family='"Liberation Serif", serif' font-size="26.67" fill="#ff7f0e">0.06</text>
<line x1="532" y1="145.8" x2="538" y2="145.8" stroke="#000" stroke-width="2"/>
<text x="541.5" y="155.4" text-anchor="start" font-family='"Liberation Serif", serif' font-size="26.67" fill="#ff7f0e">0.08</text>
<line x1="532" y1="89.8" x2="538" y2="89.8" stroke="#000" stroke-width="2"/>
<text x="541.5" y="99.4" text-anchor="start" font-family='"Liberation Serif", serif' font-size="26.67" fill="#ff7f0e">0.10</text>
<line x1="532" y1="33.8" x2="538" y2="33.8" stroke="#000" stroke-width="2"/>
<text x="541.5" y="43.4" text-anchor="start" font-family='"Liberation Serif", serif' font-size="26.67" fill="#ff7f0e">0.12</text>
<text transform="translate(11.8,196) rotate(-90)" text-anchor="middle" font-family='"Liberation Serif", serif' font-style="italic" font-size="26.67" fill="#1f77b4">n<tspan font-size="18.7" dy="4">r</tspan></text>
<text transform="translate(613,197) rotate(-90)" text-anchor="middle" font-family='"Liberation Serif", serif' font-style="italic" font-size="26.67" fill="#ff7f0e">n<tspan font-size="18.7" dy="4">i</tspan></text>
<text x="200.6" y="448.4" textLength="224" lengthAdjust="spacing" font-family='"Liberation Serif", serif' font-size="26.67" fill="#000">Wavenumber [cm<tspan font-size="18.7" dy="-9.5">−1</tspan><tspan dy="9.5">]</tspan></text>
<text x="305.5" y="554" text-anchor="middle" font-family='"Liberation Sans", sans-serif' font-weight="bold" font-size="42" fill="#000">(a)</text>
</g>
<g id="panel-b">
<path d="M778.7 53.5 L779.1 51.6 L779.5 49.8 L779.9 48.1 L780.3 46.3 L780.7 44.7 L781.1 43.1 L781.5 41.5 L781.9 40.1 L782.3 38.7 L782.7 37.3 L783.1 36.0 L783.5 34.7 L783.9 33.4 L784.3 32.2 L784.7 31.0 L785.1 29.9 L785.5 28.8 L785.9 27.9 L786.3 27.1 L786.7 26.4 L787.1 25.7 L787.5 25.1 L787.9 24.6 L788.3 24.0 L788.7 23.5 L789.1 23.0 L789.5 22.7 L789.9 22.4 L790.3 22.2 L790.7 22.2 L791.1 22.5 L791.5 23.0 L791.9 23.9 L792.3 24.9 L792.7 26.2 L793.1 27.6 L793.5 29.1 L793.9 31.4 L794.3 34.6 L794.7 38.7 L795.1 44.1 L795.5 52.6 L795.9 63.5 L796.3 80.0 L796.7 98.4 L797.1 110.8 L797.5 120.8 L797.9 130.7 L798.3 143.1 L798.7 151.6 L799.1 149.0 L799.5 139.0 L799.9 128.0 L800.3 118.5 L800.7 108.3 L801.1 96.9 L801.5 82.3 L801.9 70.0 L802.3 62.3 L802.7 55.9 L803.1 50.4 L803.5 45.6 L803.9 41.1 L804.3 36.6 L804.7 32.3 L805.1 28.6 L805.5 26.2 L805.9 24.6 L806.3 23.1 L806.7 21.8 L807.1 20.7 L807.5 20.0 L807.9 19.7 L808.3 19.8 L808.7 20.4 L809.1 21.4 L809.5 22.6 L809.9 24.0 L810.3 25.5 L810.7 27.0 L811.1 29.0 L811.5 31.3 L811.9 34.0 L812.3 36.7 L812.7 39.6 L813.1 42.7 L813.5 46.1 L813.9 49.6 L814.3 53.2 L814.7 56.6 L815.1 60.3 L815.5 64.8 L815.9 71.2 L816.3 79.1 L816.7 86.9 L817.1 95.1 L817.5 103.0 L817.9 109.5 L818.3 115.8 L818.7 119.8 L819.1 118.9 L819.5 114.8 L819.9 109.4 L820.3 102.8 L820.7 94.0 L821.1 86.3 L821.5 79.9 L821.9 74.8 L822.3 70.7 L822.7 66.8 L823.1 63.9 L823.5 62.4 L823.9 62.8 L824.3 65.0 L824.7 68.4 L825.1 72.5 L825.5 77.7 L825.9 86.4 L826.3 96.0 L826.7 105.6 L827.1 115.5 L827.5 124.1 L827.9 132.7 L828.3 137.0 L828.7 132.9 L829.1 124.2 L829.5 113.6 L829.9 99.6 L830.3 87.2 L830.7 76.5 L831.1 68.2 L831.5 62.3 L831.9 57.4 L832.3 53.0 L832.7 49.2 L833.1 46.4 L833.5 44.0 L833.9 41.9 L834.3 40.7 L834.7 40.6 L835.1 41.1 L835.5 41.9 L835.9 42.8 L836.3 43.8 L836.7 45.1 L837.1 46.6 L837.5 48.2 L837.9 50.1 L838.3 52.1 L838.7 54.2 L839.1 56.4 L839.5 58.4 L839.9 60.2 L840.3 61.9 L840.7 63.4 L841.1 64.9 L841.5 66.4 L841.9 67.9 L842.3 69.5 L842.7 71.3 L843.1 73.4 L843.5 75.7 L843.9 78.2 L844.3 81.0 L844.7 83.8 L845.1 86.8 L845.5 89.8 L845.9 92.7 L846.3 95.8 L846.7 99.0 L847.1 102.2 L847.5 105.5 L847.9 108.9 L848.3 112.3 L848.7 115.6 L849.1 118.8 L849.5 122.0 L849.9 125.1 L850.3 128.2 L850.7 131.2 L851.1 134.2 L851.5 137.2 L851.9 140.2 L852.3 143.1 L852.7 146.1 L853.1 149.0 L853.5 151.9 L853.9 154.7 L854.3 157.6 L854.7 160.4 L855.1 163.2 L855.5 165.9 L855.9 168.6 L856.3 171.2 L856.7 173.8 L857.1 176.5 L857.5 179.2 L857.9 181.9 L858.3 184.7 L858.7 187.5 L859.1 190.5 L859.5 193.7 L859.9 197.0 L860.3 200.4 L860.7 203.8 L861.1 207.3 L861.5 210.7 L861.9 214.1 L862.3 217.4 L862.7 220.4 L863.1 223.3 L863.5 226.0 L863.9 228.5 L864.3 230.9 L864.7 233.2 L865.1 235.4 L865.5 237.6 L865.9 239.8 L866.3 242.0 L866.7 244.3 L867.1 246.6 L867.5 248.9 L867.9 251.3 L868.3 253.6 L868.7 256.0 L869.1 258.4 L869.5 260.7 L869.9 263.2 L870.3 265.6 L870.7 268.1 L871.1 270.6 L871.5 273.2 L871.9 275.9 L872.3 278.6 L872.7 281.3 L873.1 284.0 L873.5 286.8 L873.9 289.5 L874.3 292.3 L874.7 295.1 L875.1 298.0 L875.5 300.9 L875.9 303.7 L876.3 306.4 L876.7 309.2 L877.1 311.8 L877.5 311.3 L877.9 305.5 L878.3 298.2 L878.7 289.7 L879.1 279.6 L879.5 267.3 L879.9 254.2 L880.3 246.8 L880.7 242.5 L881.1 240.6 L881.5 240.1 L881.9 241.8 L882.3 244.6 L882.7 249.6 L883.1 255.5 L883.5 262.5 L883.9 270.1 L884.3 277.7 L884.7 285.5 L885.1 293.0 L885.5 299.5 L885.9 305.7 L886.3 311.6 L886.7 316.5 L887.1 320.0 L887.5 322.4 L887.9 324.3 L888.3 326.0 L888.7 327.5 L889.1 328.8 L889.5 330.1 L889.9 331.4 L890.3 332.8 L890.7 334.3 L891.1 335.8 L891.5 337.3 L891.9 338.8 L892.3 340.2 L892.7 341.7 L893.1 343.1 L893.5 344.4 L893.9 345.7 L894.3 346.9 L894.7 348.0 L895.1 349.0 L895.5 350.1 L895.9 351.1 L896.3 352.1 L896.7 353.0 L897.1 353.9 L897.5 354.8 L897.9 355.6 L898.3 356.4 L898.7 357.1 L899.1 357.7 L899.5 358.3 L899.9 359.0 L900.3 359.5 L900.7 360.1 L901.1 360.6 L901.5 361.1 L901.9 361.6 L902.3 362.0 L902.7 362.4 L903.1 362.7 L903.5 363.0 L903.9 363.3 L904.3 363.7 L904.7 364.0 L905.1 364.2 L905.5 364.5 L905.9 364.8 L906.3 365.0 L906.7 365.2 L907.1 365.3 L907.5 365.4 L907.9 365.4 L908.3 365.4 L908.7 365.3 L909.1 365.2 L909.5 365.0 L909.9 364.9 L910.3 364.6 L910.7 364.4 L911.1 364.2 L911.5 363.9 L911.9 363.7 L912.3 363.3 L912.7 362.9 L913.1 362.5 L913.5 362.0 L913.9 361.4 L914.3 360.9 L914.7 360.3 L915.1 359.7 L915.5 359.0 L915.9 358.4 L916.3 357.8 L916.7 357.1 L917.1 356.3 L917.5 355.6 L917.9 354.8 L918.3 354.0 L918.7 353.2 L919.1 352.3 L919.5 351.4 L919.9 350.6 L920.3 349.7 L920.7 348.8 L921.1 347.8 L921.5 346.8 L921.9 345.8 L922.3 344.8 L922.7 343.8 L923.1 342.8 L923.5 341.7 L923.9 340.7 L924.3 339.7 L924.7 338.7 L925.1 337.7 L925.5 336.7 L925.9 335.8 L926.3 334.8 L926.7 333.8 L927.1 332.8 L927.5 331.8 L927.9 330.8 L928.3 329.8 L928.7 328.8 L929.1 327.7 L929.5 326.6 L929.9 325.5 L930.3 324.4 L930.7 323.3 L931.1 322.1 L931.5 320.9 L931.9 319.7 L932.3 318.5 L932.7 317.3 L933.1 316.0 L933.5 314.7 L933.9 313.4 L934.3 312.1 L934.7 310.7 L935.1 309.4 L935.5 308.0 L935.9 306.6 L936.3 305.2 L936.7 303.8 L937.1 302.4 L937.5 301.0 L937.9 299.5 L938.3 298.1 L938.7 296.6 L939.1 295.1 L939.5 293.6 L939.9 292.1 L940.3 290.6 L940.7 289.1 L941.1 287.5 L941.5 285.9 L941.9 284.3 L942.3 282.7 L942.7 281.1 L943.1 279.5 L943.5 277.8 L943.9 276.2 L944.3 274.5 L944.7 272.8 L945.1 271.1 L945.5 269.4 L945.9 267.7 L946.3 266.0 L946.7 264.3 L947.1 262.6 L947.5 261.0 L947.9 259.3 L948.3 257.6 L948.7 255.9 L949.1 254.2 L949.5 252.6 L949.9 250.9 L950.3 249.3 L950.7 247.6 L951.1 245.9 L951.5 244.3 L951.9 242.6 L952.3 240.9 L952.7 239.3 L953.1 237.6 L953.5 236.0 L953.9 234.3 L954.3 232.7 L954.7 231.1 L955.1 229.5 L955.5 227.9 L955.9 226.3 L956.3 224.7 L956.7 223.2 L957.1 221.6 L957.5 220.1 L957.9 218.5 L958.3 217.0 L958.7 215.5 L959.1 214.0 L959.5 212.5 L959.9 211.1 L960.3 209.6 L960.7 208.2 L961.1 206.8 L961.5 205.5 L961.9 204.1 L962.3 202.8 L962.7 201.5 L963.1 200.2 L963.5 198.9 L963.9 197.6 L964.3 196.4 L964.7 195.1 L965.1 193.9 L965.5 192.7 L965.9 191.6 L966.3 190.5 L966.7 189.4 L967.1 188.4 L967.5 187.4 L967.9 186.5 L968.3 185.6 L968.7 184.7 L969.1 183.8 L969.5 182.9 L969.9 182.2 L970.3 181.5 L970.7 180.9 L971.1 180.4 L971.5 179.9 L971.9 179.5 L972.3 179.0 L972.7 178.7 L973.1 178.5 L973.5 178.4 L973.9 178.6 L974.3 178.9 L974.7 179.5 L975.1 180.2 L975.5 181.3 L975.9 182.9 L976.3 184.7 L976.7 186.7 L977.1 188.9 L977.5 191.5 L977.9 194.3 L978.3 197.5 L978.7 201.2 L979.1 205.3 L979.5 210.0 L979.9 217.3 L980.3 226.0 L980.7 233.9 L981.1 241.9 L981.5 242.9 L981.9 239.3 L982.3 234.9 L982.7 229.8 L983.1 224.4 L983.5 219.9 L983.9 215.9 L984.3 212.2 L984.7 208.7 L985.1 205.5 L985.5 202.6 L985.9 199.7 L986.3 197.0 L986.7 194.3 L987.1 191.7 L987.5 189.3 L987.9 187.0 L988.3 184.9 L988.7 183.0 L989.1 181.3 L989.5 179.7 L989.9 178.2 L990.3 176.7 L990.7 175.3 L991.1 174.0 L991.5 172.8 L991.9 171.6 L992.3 170.5 L992.7 169.5 L993.1 168.5 L993.5 167.6 L993.9 166.8 L994.3 166.0 L994.7 165.3 L995.1 164.6 L995.5 163.9 L995.9 163.2 L996.3 162.6 L996.7 162.0 L997.1 161.5 L997.5 161.0 L997.9 160.6 L998.3 160.2 L998.7 159.9 L999.1 159.7 L999.5 159.5 L999.9 159.3 L1000.3 159.1 L1000.7 158.9 L1001.1 158.8 L1001.5 158.6 L1001.9 158.5 L1002.3 158.4 L1002.7 158.3 L1003.1 158.2 L1003.5 158.2 L1003.9 158.2 L1004.3 158.2 L1004.7 158.3 L1005.1 158.4 L1005.5 158.5 L1005.9 158.6 L1006.3 158.7 L1006.7 158.9 L1007.1 159.1 L1007.5 159.3 L1007.9 159.5 L1008.3 159.7 L1008.7 160.0 L1009.1 160.2 L1009.5 160.5 L1009.9 160.8 L1010.3 161.1 L1010.7 161.3 L1011.1 161.6 L1011.5 161.9 L1011.9 162.2 L1012.3 162.5 L1012.7 162.8 L1013.1 163.1 L1013.5 163.4 L1013.9 163.7 L1014.3 164.1 L1014.7 164.5 L1015.1 164.9 L1015.5 165.3 L1015.9 165.8 L1016.3 166.2 L1016.7 166.7 L1017.1 167.2 L1017.5 167.7 L1017.9 168.2 L1018.3 168.7 L1018.7 169.2 L1019.1 169.7 L1019.5 170.2 L1019.9 170.7 L1020.3 171.2 L1020.7 171.8 L1021.1 172.3 L1021.5 172.8 L1021.9 173.4 L1022.3 173.9 L1022.7 174.5 L1023.1 175.1 L1023.5 175.6 L1023.9 176.2 L1024.3 176.8 L1024.7 177.4 L1025.1 178.1 L1025.5 178.7 L1025.9 179.3 L1026.3 179.9 L1026.7 180.6 L1027.1 181.2 L1027.5 181.9 L1027.9 182.6 L1028.3 183.3 L1028.7 183.9 L1029.1 184.6 L1029.5 185.3 L1029.9 186.0 L1030.3 186.7 L1030.7 187.5 L1031.1 188.2 L1031.5 189.0 L1031.9 189.7 L1032.3 190.5 L1032.7 191.3 L1033.1 192.1 L1033.5 193.0 L1033.9 193.8 L1034.3 194.7 L1034.7 195.5 L1035.1 196.4 L1035.5 197.2 L1035.9 198.1 L1036.3 199.0 L1036.7 199.9 L1037.1 200.8 L1037.5 201.6 L1037.9 202.5 L1038.3 203.4 L1038.7 204.3 L1039.1 205.2 L1039.5 206.1 L1039.9 207.0 L1040.3 207.8 L1040.7 208.7 L1041.1 209.6 L1041.5 210.4 L1041.9 211.3 L1042.3 212.1 L1042.7 213.0 L1043.1 213.8 L1043.5 214.6 L1043.9 215.4 L1044.3 216.2 L1044.7 217.0 L1045.1 217.8 L1045.5 218.6 L1045.9 219.3 L1046.3 220.1 L1046.7 220.9 L1047.1 221.7 L1047.5 222.5 L1047.9 223.3 L1048.3 224.0 L1048.7 224.8 L1049.1 225.6 L1049.5 226.3 L1049.9 227.1 L1050.3 227.9 L1050.7 228.7 L1051.1 229.4 L1051.5 230.2 L1051.9 230.9 L1052.3 231.7 L1052.7 232.5 L1053.1 233.2 L1053.5 234.0 L1053.9 234.7 L1054.3 235.5 L1054.7 236.2 L1055.1 236.9 L1055.5 237.7 L1055.9 238.4 L1056.3 239.2 L1056.7 239.9 L1057.1 240.6 L1057.5 241.3 L1057.9 242.1 L1058.3 242.8 L1058.7 243.5 L1059.1 244.2 L1059.5 244.9 L1059.9 245.6 L1060.3 246.4 L1060.7 247.1 L1061.1 247.8 L1061.5 248.5 L1061.9 249.1 L1062.3 249.8 L1062.7 250.5 L1063.1 251.2 L1063.5 251.9 L1063.9 252.6 L1064.3 253.3 L1064.7 253.9 L1065.1 254.6 L1065.5 255.3 L1065.9 256.1 L1066.3 256.8 L1066.7 257.5 L1067.1 258.2 L1067.5 258.9 L1067.9 259.7 L1068.3 260.4 L1068.7 261.1 L1069.1 261.8 L1069.5 262.5 L1069.9 263.2 L1070.3 263.9 L1070.7 264.6 L1071.1 265.3 L1071.5 266.0 L1071.9 266.7 L1072.3 267.3 L1072.7 268.0 L1073.1 268.6 L1073.5 269.2 L1073.9 269.8 L1074.3 270.4 L1074.7 271.0 L1075.1 271.6 L1075.5 272.1 L1075.9 272.6 L1076.3 273.1 L1076.7 273.6 L1077.1 274.0 L1077.5 274.4 L1077.9 274.8 L1078.3 275.2 L1078.7 275.6 L1079.1 275.9 L1079.5 276.3 L1079.9 276.6 L1080.3 276.9 L1080.7 277.2 L1081.1 277.5 L1081.5 277.8 L1081.9 278.1 L1082.3 278.4 L1082.7 278.7 L1083.1 279.0 L1083.5 279.3 L1083.9 279.6 L1084.3 279.8 L1084.7 280.1 L1085.1 280.3 L1085.5 280.6 L1085.9 280.8 L1086.3 281.1 L1086.7 281.3 L1087.1 281.5 L1087.5 281.7 L1087.9 281.9 L1088.3 282.1 L1088.7 282.3 L1089.1 282.5 L1089.5 282.7 L1089.9 282.9 L1090.3 283.1 L1090.7 283.2 L1091.1 283.4 L1091.5 283.6 L1091.9 283.7 L1092.3 283.9 L1092.7 284.0 L1093.1 284.1 L1093.5 284.3 L1093.9 284.4 L1094.3 284.5 L1094.7 284.6 L1095.1 284.8 L1095.5 284.9 L1095.9 285.0 L1096.3 285.1 L1096.7 285.2 L1097.1 285.3 L1097.5 285.4 L1097.9 285.5 L1098.3 285.6 L1098.7 285.7 L1099.1 285.7 L1099.5 285.8 L1099.9 285.9 L1100.3 285.9 L1100.7 286.0 L1101.1 286.1 L1101.5 286.1 L1101.9 286.2 L1102.3 286.2 L1102.7 286.3 L1103.1 286.3 L1103.5 286.4 L1103.9 286.4 L1104.3 286.4 L1104.7 286.5 L1105.1 286.5 L1105.5 286.5 L1105.9 286.5 L1106.3 286.5 L1106.7 286.5 L1107.1 286.4 L1107.5 286.4 L1107.9 286.3 L1108.3 286.2 L1108.7 286.2 L1109.1 286.1 L1109.5 286.0 L1109.9 285.9 L1110.3 285.8 L1110.7 285.7 L1111.1 285.6 L1111.5 285.4 L1111.9 285.3 L1112.3 285.2 L1112.7 285.1 L1113.1 284.9 L1113.5 284.7 L1113.9 284.6 L1114.3 284.4 L1114.7 284.2 L1115.1 284.0 L1115.5 283.8 L1115.9 283.7 L1116.3 283.5 L1116.7 283.3 L1117.1 283.1 L1117.5 282.9 L1117.9 282.8 L1118.3 282.6 L1118.7 282.4 L1119.1 282.2 L1119.5 282.0 L1119.9 281.8 L1120.3 281.6 L1120.7 281.4 L1121.1 281.2 L1121.5 281.0 L1121.9 280.8 L1122.3 280.5 L1122.7 280.3 L1123.1 280.0 L1123.5 279.8 L1123.9 279.5 L1124.3 279.2 L1124.7 278.9 L1125.1 278.6 L1125.5 278.3 L1125.9 278.0 L1126.3 277.7 L1126.7 277.4 L1127.1 277.1 L1127.5 276.8 L1127.9 276.5 L1128.3 276.2 L1128.7 275.8 L1129.1 275.5 L1129.5 275.2 L1129.9 274.9 L1130.3 274.6 L1130.7 274.2 L1131.1 273.9 L1131.5 273.6 L1131.9 273.3 L1132.3 273.0 L1132.7 272.6 L1133.1 272.3 L1133.5 272.0 L1133.9 271.6 L1134.3 271.3 L1134.7 271.0 L1135.1 270.6 L1135.5 270.3 L1135.9 269.9 L1136.3 269.6 L1136.7 269.2 L1137.1 268.9 L1137.5 268.5 L1137.9 268.2 L1138.3 267.8 L1138.7 267.5 L1139.1 267.1 L1139.5 266.8 L1139.9 266.4 L1140.3 266.0 L1140.7 265.7 L1141.1 265.3 L1141.5 264.9 L1141.9 264.6 L1142.3 264.2 L1142.7 263.8 L1143.1 263.5 L1143.5 263.1 L1143.9 262.7 L1144.3 262.4 L1144.7 262.0 L1145.1 261.6 L1145.5 261.3 L1145.9 260.9 L1146.3 260.5 L1146.7 260.2 L1147.1 259.8 L1147.5 259.4 L1147.9 259.0 L1148.3 258.7 L1148.7 258.3 L1149.1 257.9 L1149.5 257.5 L1149.9 257.1 L1150.3 256.7 L1150.7 256.3 L1151.1 255.9 L1151.5 255.5 L1151.9 255.1 L1152.3 254.7 L1152.7 254.3 L1153.1 253.9 L1153.5 253.5 L1153.9 253.0 L1154.3 252.6 L1154.7 252.2 L1155.1 251.7 L1155.5 251.3 L1155.9 250.8 L1156.3 250.4 L1156.7 249.9 L1157.1 249.5 L1157.5 249.0 L1157.9 248.5 L1158.3 248.0 L1158.7 247.5 L1159.1 247.0 L1159.5 246.4 L1159.9 245.8 L1160.3 245.2 L1160.7 244.6 L1161.1 244.0 L1161.5 243.4 L1161.9 242.8 L1162.3 242.2 L1162.7 241.6 L1163.1 241.0 L1163.5 240.4 L1163.9 239.9 L1164.3 239.4 L1164.7 238.9 L1165.1 238.4 L1165.5 237.9 L1165.9 237.5 L1166.3 237.0 L1166.7 236.6 L1167.1 236.2 L1167.5 235.8 L1167.9 235.4 L1168.3 235.0 L1168.7 234.6 L1169.1 234.3 L1169.5 233.9 L1169.9 233.5 L1170.3 233.1 L1170.7 232.8 L1171.1 232.4 L1171.5 232.1 L1171.9 231.7 L1172.3 231.3 L1172.7 231.0 L1173.1 230.6 L1173.5 230.3 L1173.9 230.0 L1174.3 229.6 L1174.7 229.3 L1175.1 229.0 L1175.5 228.7 L1175.9 228.4 L1176.3 228.1 L1176.7 227.8 L1177.1 227.5 L1177.5 227.2 L1177.9 227.0 L1178.3 226.7 L1178.7 226.4 L1179.1 226.1 L1179.5 225.9 L1179.9 225.7 L1180.3 225.5 L1180.7 225.4 L1181.1 225.3 L1181.5 225.2 L1181.9 225.1 L1182.3 225.0 L1182.7 225.0 L1183.1 224.9 L1183.5 224.9 L1183.9 224.8 L1184.3 224.8 L1184.7 224.8 L1185.1 224.9 L1185.5 225.3 L1185.9 225.7 L1186.3 226.2 L1186.7 226.9 L1187.1 227.5 L1187.5 228.2 L1187.9 228.8 L1188.3 229.4 L1188.7 230.0 L1189.1 230.5 L1189.5 231.1 L1189.9 231.7 L1190.3 232.3 L1190.7 232.7 L1191.1 233.1 L1191.5 233.4 L1191.9 233.6 L1192.3 233.4 L1192.7 232.9 L1193.1 232.4 L1193.5 231.8 L1193.9 231.1 L1194.3 230.4 L1194.7 229.6 L1195.1 228.8 L1195.5 228.1 L1195.9 227.4 L1196.3 226.8 L1196.7 226.2 L1197.1 225.7 L1197.5 225.1 L1197.9 224.5 L1198.3 224.0 L1198.7 223.4 L1199.1 222.9 L1199.5 222.4 L1199.9 221.9 L1200.3 221.5 L1200.7 221.1 L1201.1 220.7 L1201.5 220.4 L1201.9 220.1 L1202.3 219.8 L1202.7 219.6 L1203.1 219.4 L1203.5 219.2 L1203.9 219.0 L1204.3 218.8 L1204.7 218.6 L1205.1 218.5 L1205.5 218.3 L1205.9 218.1 L1206.3 218.0 L1206.7 217.8 L1207.1 217.7 L1207.5 217.6 L1207.9 217.4 L1208.3 217.3 L1208.7 217.3 L1209.1 217.2 L1209.5 217.1 L1209.9 217.1 L1210.3 217.0 L1210.7 217.0 L1211.1 217.0 L1211.5 217.0 L1211.9 217.1 L1212.3 217.1 L1212.7 217.2 L1213.1 217.3 L1213.5 217.4 L1213.9 217.5 L1214.3 217.7 L1214.7 217.8 L1215.1 218.0 L1215.5 218.2 L1215.9 218.4 L1216.3 218.6 L1216.7 218.8 L1217.1 219.0 L1217.5 219.4 L1217.9 219.8 L1218.3 220.4 L1218.7 221.0 L1219.1 221.6 L1219.5 222.2 L1219.9 222.9 L1220.3 223.5 L1220.7 224.2 L1221.1 224.8 L1221.5 224.5 L1221.9 223.7 L1222.3 222.8 L1222.7 222.0 L1223.1 221.2 L1223.5 220.3 L1223.9 219.6 L1224.3 219.0 L1224.7 218.6 L1225.1 218.3 L1225.5 218.1 L1225.9 217.9 L1226.3 217.7 L1226.7 217.5 L1227.1 217.3 L1227.5 217.1 L1227.9 216.9 L1228.3 216.8 L1228.7 216.7 L1229.1 216.6 L1229.5 216.5 L1229.9 216.4 L1230.3 216.3 L1230.7 216.3 L1231.1 216.3 L1231.5 216.3 L1231.9 216.3 L1232.3 216.3 L1232.7 216.4 L1233.1 216.4 L1233.5 216.4 L1233.9 216.5 L1234.3 216.6 L1234.7 216.6 L1235.1 216.7 L1235.5 216.8 L1235.9 216.9 L1236.3 216.9 L1236.7 217.0 L1237.1 217.1 L1237.5 217.2 L1237.9 217.3 L1238.3 217.4 L1238.7 217.5 L1239.1 217.6 L1239.5 217.7 L1239.9 217.8 L1240.3 217.9 L1240.7 218.0 L1241.1 218.1 L1241.5 218.2 L1241.9 218.4 L1242.3 218.5 L1242.7 218.6 L1243.1 218.8 L1243.5 218.9 L1243.9 219.1 L1244.3 219.3 L1244.7 219.4 L1245.1 219.6 L1245.5 219.8 L1245.9 219.9 L1246.3 220.1 L1246.7 220.3 L1247.1 220.4 L1247.5 220.6 L1247.9 220.8 L1248.3 220.9 L1248.7 221.1 L1249.1 221.2 L1249.5 221.4 L1249.9 221.5 L1250.3 221.7 L1250.7 221.9 L1251.1 222.0 L1251.5 222.2 L1251.9 222.3 L1252.3 222.5 L1252.7 222.7 L1253.1 222.8 L1253.5 223.0 L1253.9 223.2 L1254.3 223.3 L1254.7 223.5 L1255.1 223.7 L1255.5 223.8 L1255.9 224.0 L1256.3 224.2 L1256.7 224.4 L1257.1 224.5 L1257.5 224.7 L1257.9 224.9 L1258.3 225.1 L1258.7 225.3 L1259.1 225.5 L1259.5 225.7 L1259.9 225.9 L1260.3 226.1 L1260.7 226.3 L1261.1 226.5 L1261.5 226.7 L1261.9 226.9 L1262.3 227.1 L1262.7 227.3 L1263.1 227.5 L1263.5 227.7 L1263.9 227.9 L1264.3 228.1 L1264.7 228.3 L1265.1 228.5 L1265.5 228.7 L1265.9 228.8 L1266.3 229.0 L1266.7 229.2 L1267.1 229.4 L1267.5 229.6 L1267.9 229.7 L1268.3 229.9 L1268.7 230.1 L1269.1 230.2 L1269.5 230.4 L1269.9 230.6 L1270.3 230.8 L1270.7 230.9 L1271.1 231.1 L1271.5 231.3 L1271.9 231.4 L1272.3 231.6 L1272.7 231.8 L1273.1 231.9 L1273.5 232.1 L1273.9 232.3 L1274.3 232.4 L1274.7 232.6 L1275.1 232.7 L1275.5 232.9 L1275.9 233.0 L1276.3 233.2 L1276.7 233.4 L1277.1 233.5 L1277.5 233.7 L1277.9 233.8 L1278.3 234.0 L1278.7 234.1 L1279.1 234.3 L1279.5 234.4 L1279.9 234.6 L1280.3 234.7 L1280.7 234.8 L1281.1 235.0 L1281.5 235.1" fill="none" stroke="#0ad2fa" stroke-width="2.3" stroke-linejoin="round" />
<path d="M778.7 68.3 L779.1 66.9 L779.5 65.6 L779.9 64.2 L780.3 62.9 L780.7 61.6 L781.1 60.4 L781.5 59.1 L781.9 57.9 L782.3 56.7 L782.7 55.5 L783.1 54.3 L783.5 53.0 L783.9 51.8 L784.3 50.5 L784.7 49.4 L785.1 48.3 L785.5 47.4 L785.9 46.6 L786.3 46.0 L786.7 45.4 L787.1 44.9 L787.5 44.3 L787.9 43.9 L788.3 43.4 L788.7 43.1 L789.1 42.8 L789.5 42.7 L789.9 42.6 L790.3 42.8 L790.7 43.2 L791.1 44.0 L791.5 44.9 L791.9 46.0 L792.3 47.1 L792.7 48.5 L793.1 50.5 L793.5 52.9 L793.9 55.7 L794.3 58.6 L794.7 61.6 L795.1 65.1 L795.5 70.0 L795.9 79.4 L796.3 92.7 L796.7 104.7 L797.1 115.3 L797.5 125.5 L797.9 136.8 L798.3 148.9 L798.7 154.5 L799.1 148.6 L799.5 136.5 L799.9 125.8 L800.3 117.4 L800.7 109.1 L801.1 99.2 L801.5 86.1 L801.9 77.3 L802.3 71.1 L802.7 66.1 L803.1 62.0 L803.5 58.3 L803.9 54.9 L804.3 52.1 L804.7 49.8 L805.1 48.3 L805.5 46.8 L805.9 45.6 L806.3 44.5 L806.7 43.6 L807.1 43.1 L807.5 43.0 L807.9 43.3 L808.3 43.9 L808.7 44.7 L809.1 45.7 L809.5 46.8 L809.9 48.0 L810.3 49.6 L810.7 51.7 L811.1 54.1 L811.5 56.7 L811.9 59.3 L812.3 61.9 L812.7 64.7 L813.1 67.7 L813.5 71.0 L813.9 74.8 L814.3 79.1 L814.7 83.7 L815.1 88.6 L815.5 93.5 L815.9 98.4 L816.3 103.5 L816.7 108.7 L817.1 113.8 L817.5 119.3 L817.9 124.8 L818.3 126.4 L818.7 123.4 L819.1 118.5 L819.5 114.0 L819.9 109.7 L820.3 105.3 L820.7 100.9 L821.1 96.2 L821.5 91.5 L821.9 87.7 L822.3 85.0 L822.7 82.6 L823.1 80.8 L823.5 80.5 L823.9 81.7 L824.3 84.1 L824.7 87.0 L825.1 90.9 L825.5 96.2 L825.9 102.0 L826.3 108.6 L826.7 116.0 L827.1 123.3 L827.5 130.9 L827.9 138.6 L828.3 140.7 L828.7 135.3 L829.1 126.9 L829.5 119.2 L829.9 110.7 L830.3 102.0 L830.7 92.1 L831.1 82.8 L831.5 77.7 L831.9 74.5 L832.3 72.1 L832.7 69.9 L833.1 67.6 L833.5 65.4 L833.9 63.6 L834.3 62.2 L834.7 61.5 L835.1 61.7 L835.5 62.4 L835.9 63.5 L836.3 64.8 L836.7 66.3 L837.1 67.8 L837.5 69.2 L837.9 70.6 L838.3 72.1 L838.7 73.8 L839.1 75.5 L839.5 77.5 L839.9 79.6 L840.3 82.1 L840.7 85.0 L841.1 88.2 L841.5 91.4 L841.9 94.5 L842.3 97.2 L842.7 99.6 L843.1 102.0 L843.5 104.2 L843.9 106.3 L844.3 108.4 L844.7 110.4 L845.1 112.4 L845.5 114.5 L845.9 116.5 L846.3 118.5 L846.7 120.6 L847.1 122.8 L847.5 125.0 L847.9 127.3 L848.3 129.5 L848.7 131.8 L849.1 134.0 L849.5 136.3 L849.9 138.6 L850.3 140.9 L850.7 143.3 L851.1 145.6 L851.5 147.9 L851.9 150.3 L852.3 152.6 L852.7 155.0 L853.1 157.3 L853.5 159.7 L853.9 162.1 L854.3 164.4 L854.7 166.8 L855.1 169.2 L855.5 171.6 L855.9 174.0 L856.3 176.5 L856.7 178.9 L857.1 181.3 L857.5 183.8 L857.9 186.3 L858.3 188.8 L858.7 191.3 L859.1 193.8 L859.5 196.4 L859.9 199.1 L860.3 201.7 L860.7 204.4 L861.1 207.1 L861.5 209.8 L861.9 212.4 L862.3 215.0 L862.7 217.6 L863.1 220.1 L863.5 222.6 L863.9 224.9 L864.3 227.2 L864.7 229.4 L865.1 231.5 L865.5 233.6 L865.9 235.6 L866.3 237.7 L866.7 239.7 L867.1 241.7 L867.5 243.8 L867.9 246.0 L868.3 248.2 L868.7 250.4 L869.1 252.7 L869.5 255.0 L869.9 257.3 L870.3 259.6 L870.7 261.9 L871.1 264.3 L871.5 266.6 L871.9 268.9 L872.3 271.2 L872.7 273.5 L873.1 275.7 L873.5 277.9 L873.9 280.2 L874.3 282.5 L874.7 284.9 L875.1 287.4 L875.5 290.0 L875.9 293.0 L876.3 296.0 L876.7 298.8 L877.1 301.8 L877.5 304.2 L877.9 301.9 L878.3 294.8 L878.7 287.1 L879.1 277.6 L879.5 265.3 L879.9 252.2 L880.3 244.9 L880.7 240.5 L881.1 238.4 L881.5 238.3 L881.9 240.4 L882.3 243.5 L882.7 248.4 L883.1 253.8 L883.5 260.0 L883.9 266.5 L884.3 272.5 L884.7 278.6 L885.1 284.4 L885.5 289.8 L885.9 294.6 L886.3 299.1 L886.7 303.2 L887.1 307.1 L887.5 310.7 L887.9 314.3 L888.3 317.4 L888.7 320.0 L889.1 322.0 L889.5 323.8 L889.9 325.4 L890.3 326.9 L890.7 328.3 L891.1 329.6 L891.5 331.1 L891.9 332.5 L892.3 333.8 L892.7 335.2 L893.1 336.5 L893.5 337.8 L893.9 339.1 L894.3 340.4 L894.7 341.6 L895.1 342.8 L895.5 343.9 L895.9 345.1 L896.3 346.2 L896.7 347.3 L897.1 348.4 L897.5 349.5 L897.9 350.5 L898.3 351.5 L898.7 352.5 L899.1 353.4 L899.5 354.3 L899.9 355.2 L900.3 356.0 L900.7 356.8 L901.1 357.6 L901.5 358.3 L901.9 359.1 L902.3 359.8 L902.7 360.4 L903.1 361.1 L903.5 361.7 L903.9 362.3 L904.3 362.8 L904.7 363.4 L905.1 363.9 L905.5 364.4 L905.9 365.0 L906.3 365.4 L906.7 365.9 L907.1 366.3 L907.5 366.7 L907.9 367.1 L908.3 367.4 L908.7 367.6 L909.1 367.9 L909.5 368.1 L909.9 368.4 L910.3 368.6 L910.7 368.8 L911.1 368.9 L911.5 369.1 L911.9 369.2 L912.3 369.3 L912.7 369.3 L913.1 369.3 L913.5 369.2 L913.9 369.2 L914.3 369.1 L914.7 368.9 L915.1 368.8 L915.5 368.6 L915.9 368.5 L916.3 368.3 L916.7 368.1 L917.1 368.0 L917.5 367.7 L917.9 367.5 L918.3 367.2 L918.7 366.9 L919.1 366.6 L919.5 366.2 L919.9 365.8 L920.3 365.4 L920.7 365.0 L921.1 364.5 L921.5 364.1 L921.9 363.6 L922.3 363.0 L922.7 362.4 L923.1 361.8 L923.5 361.1 L923.9 360.4 L924.3 359.7 L924.7 359.0 L925.1 358.3 L925.5 357.6 L925.9 356.9 L926.3 356.1 L926.7 355.3 L927.1 354.6 L927.5 353.7 L927.9 352.9 L928.3 352.1 L928.7 351.2 L929.1 350.4 L929.5 349.5 L929.9 348.6 L930.3 347.7 L930.7 346.7 L931.1 345.7 L931.5 344.8 L931.9 343.8 L932.3 342.8 L932.7 341.7 L933.1 340.7 L933.5 339.7 L933.9 338.6 L934.3 337.6 L934.7 336.5 L935.1 335.5 L935.5 334.4 L935.9 333.4 L936.3 332.3 L936.7 331.2 L937.1 330.1 L937.5 329.0 L937.9 327.8 L938.3 326.7 L938.7 325.5 L939.1 324.4 L939.5 323.2 L939.9 321.9 L940.3 320.7 L940.7 319.3 L941.1 317.9 L941.5 316.5 L941.9 315.0 L942.3 313.4 L942.7 311.9 L943.1 310.2 L943.5 308.6 L943.9 306.9 L944.3 305.2 L944.7 303.5 L945.1 301.6 L945.5 299.8 L945.9 297.9 L946.3 296.0 L946.7 294.0 L947.1 292.0 L947.5 290.0 L947.9 288.0 L948.3 285.9 L948.7 283.9 L949.1 281.8 L949.5 279.8 L949.9 277.7 L950.3 275.7 L950.7 273.7 L951.1 271.7 L951.5 269.7 L951.9 267.8 L952.3 265.9 L952.7 264.1 L953.1 262.3 L953.5 260.5 L953.9 258.8 L954.3 257.1 L954.7 255.4 L955.1 253.8 L955.5 252.1 L955.9 250.5 L956.3 248.9 L956.7 247.4 L957.1 245.8 L957.5 244.3 L957.9 242.7 L958.3 241.2 L958.7 239.6 L959.1 238.1 L959.5 236.5 L959.9 235.0 L960.3 233.4 L960.7 231.8 L961.1 230.2 L961.5 228.6 L961.9 227.0 L962.3 225.3 L962.7 223.7 L963.1 222.1 L963.5 220.4 L963.9 218.8 L964.3 217.2 L964.7 215.6 L965.1 214.0 L965.5 212.5 L965.9 210.9 L966.3 209.4 L966.7 208.0 L967.1 206.5 L967.5 205.0 L967.9 203.6 L968.3 202.1 L968.7 200.7 L969.1 199.3 L969.5 198.0 L969.9 196.8 L970.3 195.6 L970.7 194.4 L971.1 193.3 L971.5 192.2 L971.9 191.2 L972.3 190.5 L972.7 190.0 L973.1 189.5 L973.5 189.2 L973.9 189.1 L974.3 189.6 L974.7 190.9 L975.1 192.4 L975.5 195.0 L975.9 198.3 L976.3 201.7 L976.7 205.3 L977.1 209.1 L977.5 213.1 L977.9 217.1 L978.3 221.3 L978.7 225.3 L979.1 229.3 L979.5 233.5 L979.9 237.7 L980.3 241.3 L980.7 244.2 L981.1 246.5 L981.5 246.5 L981.9 244.2 L982.3 241.3 L982.7 237.8 L983.1 234.0 L983.5 230.5 L983.9 227.0 L984.3 223.5 L984.7 220.0 L985.1 216.7 L985.5 213.6 L985.9 210.7 L986.3 208.1 L986.7 205.7 L987.1 203.3 L987.5 201.1 L987.9 199.0 L988.3 197.0 L988.7 195.1 L989.1 193.3 L989.5 191.5 L989.9 189.9 L990.3 188.3 L990.7 186.8 L991.1 185.3 L991.5 183.9 L991.9 182.5 L992.3 181.2 L992.7 179.9 L993.1 178.6 L993.5 177.5 L993.9 176.3 L994.3 175.2 L994.7 174.2 L995.1 173.3 L995.5 172.3 L995.9 171.4 L996.3 170.6 L996.7 169.7 L997.1 168.9 L997.5 168.1 L997.9 167.3 L998.3 166.6 L998.7 165.9 L999.1 165.2 L999.5 164.6 L999.9 163.9 L1000.3 163.3 L1000.7 162.8 L1001.1 162.2 L1001.5 161.7 L1001.9 161.2 L1002.3 160.7 L1002.7 160.2 L1003.1 159.7 L1003.5 159.3 L1003.9 158.9 L1004.3 158.6 L1004.7 158.4 L1005.1 158.2 L1005.5 158.0 L1005.9 157.8 L1006.3 157.6 L1006.7 157.4 L1007.1 157.3 L1007.5 157.1 L1007.9 157.0 L1008.3 156.9 L1008.7 156.7 L1009.1 156.6 L1009.5 156.5 L1009.9 156.5 L1010.3 156.4 L1010.7 156.3 L1011.1 156.3 L1011.5 156.3 L1011.9 156.3 L1012.3 156.3 L1012.7 156.4 L1013.1 156.5 L1013.5 156.6 L1013.9 156.8 L1014.3 156.9 L1014.7 157.1 L1015.1 157.3 L1015.5 157.5 L1015.9 157.7 L1016.3 158.0 L1016.7 158.2 L1017.1 158.5 L1017.5 158.7 L1017.9 158.9 L1018.3 159.2 L1018.7 159.5 L1019.1 159.8 L1019.5 160.1 L1019.9 160.5 L1020.3 160.9 L1020.7 161.3 L1021.1 161.8 L1021.5 162.2 L1021.9 162.7 L1022.3 163.2 L1022.7 163.6 L1023.1 164.1 L1023.5 164.6 L1023.9 165.1 L1024.3 165.6 L1024.7 166.1 L1025.1 166.6 L1025.5 167.1 L1025.9 167.6 L1026.3 168.1 L1026.7 168.6 L1027.1 169.2 L1027.5 169.7 L1027.9 170.3 L1028.3 170.9 L1028.7 171.5 L1029.1 172.1 L1029.5 172.7 L1029.9 173.3 L1030.3 174.0 L1030.7 174.7 L1031.1 175.4 L1031.5 176.1 L1031.9 176.8 L1032.3 177.5 L1032.7 178.3 L1033.1 179.1 L1033.5 179.8 L1033.9 180.6 L1034.3 181.4 L1034.7 182.3 L1035.1 183.1 L1035.5 183.9 L1035.9 184.8 L1036.3 185.7 L1036.7 186.5 L1037.1 187.4 L1037.5 188.3 L1037.9 189.2 L1038.3 190.1 L1038.7 191.0 L1039.1 191.9 L1039.5 192.8 L1039.9 193.7 L1040.3 194.7 L1040.7 195.6 L1041.1 196.5 L1041.5 197.4 L1041.9 198.4 L1042.3 199.3 L1042.7 200.2 L1043.1 201.2 L1043.5 202.1 L1043.9 203.0 L1044.3 203.9 L1044.7 204.8 L1045.1 205.7 L1045.5 206.6 L1045.9 207.5 L1046.3 208.4 L1046.7 209.3 L1047.1 210.2 L1047.5 211.0 L1047.9 211.9 L1048.3 212.7 L1048.7 213.6 L1049.1 214.4 L1049.5 215.2 L1049.9 216.0 L1050.3 216.8 L1050.7 217.6 L1051.1 218.4 L1051.5 219.2 L1051.9 219.9 L1052.3 220.7 L1052.7 221.5 L1053.1 222.2 L1053.5 223.0 L1053.9 223.8 L1054.3 224.5 L1054.7 225.3 L1055.1 226.0 L1055.5 226.8 L1055.9 227.5 L1056.3 228.2 L1056.7 229.0 L1057.1 229.7 L1057.5 230.5 L1057.9 231.2 L1058.3 231.9 L1058.7 232.7 L1059.1 233.4 L1059.5 234.1 L1059.9 234.8 L1060.3 235.6 L1060.7 236.3 L1061.1 237.0 L1061.5 237.8 L1061.9 238.5 L1062.3 239.2 L1062.7 239.9 L1063.1 240.7 L1063.5 241.4 L1063.9 242.1 L1064.3 242.9 L1064.7 243.6 L1065.1 244.3 L1065.5 245.1 L1065.9 245.8 L1066.3 246.6 L1066.7 247.3 L1067.1 248.1 L1067.5 248.8 L1067.9 249.6 L1068.3 250.3 L1068.7 251.1 L1069.1 251.8 L1069.5 252.6 L1069.9 253.4 L1070.3 254.2 L1070.7 254.9 L1071.1 255.7 L1071.5 256.5 L1071.9 257.3 L1072.3 258.1 L1072.7 258.9 L1073.1 259.7 L1073.5 260.6 L1073.9 261.4 L1074.3 262.3 L1074.7 263.2 L1075.1 264.1 L1075.5 265.0 L1075.9 265.9 L1076.3 266.8 L1076.7 267.7 L1077.1 268.6 L1077.5 269.5 L1077.9 270.5 L1078.3 271.4 L1078.7 272.3 L1079.1 273.2 L1079.5 274.1 L1079.9 275.0 L1080.3 275.9 L1080.7 276.7 L1081.1 277.6 L1081.5 278.4 L1081.9 279.3 L1082.3 280.1 L1082.7 280.9 L1083.1 281.6 L1083.5 282.4 L1083.9 283.1 L1084.3 283.8 L1084.7 284.5 L1085.1 285.2 L1085.5 285.8 L1085.9 286.4 L1086.3 287.1 L1086.7 287.7 L1087.1 288.3 L1087.5 289.0 L1087.9 289.6 L1088.3 290.2 L1088.7 290.8 L1089.1 291.4 L1089.5 292.0 L1089.9 292.6 L1090.3 293.1 L1090.7 293.7 L1091.1 294.3 L1091.5 294.8 L1091.9 295.3 L1092.3 295.9 L1092.7 296.4 L1093.1 296.9 L1093.5 297.4 L1093.9 297.9 L1094.3 298.4 L1094.7 298.8 L1095.1 299.3 L1095.5 299.7 L1095.9 300.1 L1096.3 300.6 L1096.7 301.0 L1097.1 301.3 L1097.5 301.7 L1097.9 302.1 L1098.3 302.4 L1098.7 302.7 L1099.1 303.1 L1099.5 303.4 L1099.9 303.7 L1100.3 304.0 L1100.7 304.3 L1101.1 304.7 L1101.5 304.9 L1101.9 305.2 L1102.3 305.5 L1102.7 305.8 L1103.1 306.0 L1103.5 306.2 L1103.9 306.5 L1104.3 306.7 L1104.7 306.8 L1105.1 307.0 L1105.5 307.2 L1105.9 307.3 L1106.3 307.4 L1106.7 307.5 L1107.1 307.6 L1107.5 307.7 L1107.9 307.8 L1108.3 307.9 L1108.7 307.9 L1109.1 308.0 L1109.5 308.1 L1109.9 308.1 L1110.3 308.2 L1110.7 308.2 L1111.1 308.2 L1111.5 308.2 L1111.9 308.2 L1112.3 308.2 L1112.7 308.1 L1113.1 308.1 L1113.5 308.1 L1113.9 308.0 L1114.3 307.9 L1114.7 307.9 L1115.1 307.8 L1115.5 307.7 L1115.9 307.7 L1116.3 307.6 L1116.7 307.5 L1117.1 307.4 L1117.5 307.3 L1117.9 307.2 L1118.3 307.0 L1118.7 306.9 L1119.1 306.7 L1119.5 306.5 L1119.9 306.3 L1120.3 306.1 L1120.7 305.9 L1121.1 305.7 L1121.5 305.5 L1121.9 305.3 L1122.3 305.0 L1122.7 304.8 L1123.1 304.5 L1123.5 304.3 L1123.9 304.0 L1124.3 303.7 L1124.7 303.4 L1125.1 303.1 L1125.5 302.8 L1125.9 302.5 L1126.3 302.1 L1126.7 301.8 L1127.1 301.5 L1127.5 301.1 L1127.9 300.7 L1128.3 300.4 L1128.7 300.0 L1129.1 299.6 L1129.5 299.3 L1129.9 298.9 L1130.3 298.5 L1130.7 298.1 L1131.1 297.7 L1131.5 297.3 L1131.9 296.9 L1132.3 296.5 L1132.7 296.1 L1133.1 295.7 L1133.5 295.2 L1133.9 294.8 L1134.3 294.3 L1134.7 293.9 L1135.1 293.4 L1135.5 292.9 L1135.9 292.5 L1136.3 292.0 L1136.7 291.5 L1137.1 291.0 L1137.5 290.5 L1137.9 290.0 L1138.3 289.5 L1138.7 289.0 L1139.1 288.5 L1139.5 288.0 L1139.9 287.5 L1140.3 287.0 L1140.7 286.5 L1141.1 286.0 L1141.5 285.4 L1141.9 284.9 L1142.3 284.4 L1142.7 283.8 L1143.1 283.3 L1143.5 282.8 L1143.9 282.2 L1144.3 281.7 L1144.7 281.1 L1145.1 280.6 L1145.5 280.1 L1145.9 279.5 L1146.3 279.0 L1146.7 278.4 L1147.1 277.9 L1147.5 277.3 L1147.9 276.8 L1148.3 276.3 L1148.7 275.7 L1149.1 275.2 L1149.5 274.6 L1149.9 274.1 L1150.3 273.5 L1150.7 273.0 L1151.1 272.4 L1151.5 271.9 L1151.9 271.3 L1152.3 270.8 L1152.7 270.2 L1153.1 269.6 L1153.5 269.1 L1153.9 268.5 L1154.3 267.9 L1154.7 267.3 L1155.1 266.8 L1155.5 266.2 L1155.9 265.6 L1156.3 265.0 L1156.7 264.4 L1157.1 263.8 L1157.5 263.1 L1157.9 262.5 L1158.3 261.9 L1158.7 261.3 L1159.1 260.6 L1159.5 260.0 L1159.9 259.3 L1160.3 258.7 L1160.7 258.0 L1161.1 257.3 L1161.5 256.6 L1161.9 256.0 L1162.3 255.3 L1162.7 254.5 L1163.1 253.8 L1163.5 253.1 L1163.9 252.4 L1164.3 251.6 L1164.7 250.9 L1165.1 250.1 L1165.5 249.3 L1165.9 248.4 L1166.3 247.5 L1166.7 246.6 L1167.1 245.7 L1167.5 244.7 L1167.9 243.7 L1168.3 242.7 L1168.7 241.7 L1169.1 240.7 L1169.5 239.7 L1169.9 238.8 L1170.3 237.9 L1170.7 237.0 L1171.1 236.2 L1171.5 235.4 L1171.9 234.5 L1172.3 233.7 L1172.7 232.9 L1173.1 232.1 L1173.5 231.3 L1173.9 230.6 L1174.3 229.8 L1174.7 229.1 L1175.1 228.4 L1175.5 227.7 L1175.9 227.0 L1176.3 226.4 L1176.7 225.8 L1177.1 225.2 L1177.5 224.7 L1177.9 224.1 L1178.3 223.6 L1178.7 223.0 L1179.1 222.5 L1179.5 222.0 L1179.9 221.5 L1180.3 221.1 L1180.7 220.6 L1181.1 220.2 L1181.5 219.8 L1181.9 219.5 L1182.3 219.1 L1182.7 218.8 L1183.1 218.5 L1183.5 218.2 L1183.9 217.9 L1184.3 217.7 L1184.7 217.4 L1185.1 217.2 L1185.5 217.1 L1185.9 217.0 L1186.3 217.1 L1186.7 217.6 L1187.1 218.6 L1187.5 219.9 L1187.9 221.3 L1188.3 222.8 L1188.7 224.2 L1189.1 225.4 L1189.5 226.8 L1189.9 228.2 L1190.3 229.6 L1190.7 230.8 L1191.1 231.7 L1191.5 232.5 L1191.9 233.0 L1192.3 232.7 L1192.7 231.8 L1193.1 230.7 L1193.5 229.5 L1193.9 228.0 L1194.3 226.4 L1194.7 224.8 L1195.1 223.5 L1195.5 222.4 L1195.9 221.4 L1196.3 220.4 L1196.7 219.5 L1197.1 218.7 L1197.5 217.8 L1197.9 217.0 L1198.3 216.3 L1198.7 215.6 L1199.1 214.9 L1199.5 214.2 L1199.9 213.6 L1200.3 212.9 L1200.7 212.3 L1201.1 211.7 L1201.5 211.1 L1201.9 210.5 L1202.3 209.9 L1202.7 209.3 L1203.1 208.8 L1203.5 208.2 L1203.9 207.7 L1204.3 207.2 L1204.7 206.7 L1205.1 206.2 L1205.5 205.7 L1205.9 205.3 L1206.3 204.9 L1206.7 204.5 L1207.1 204.1 L1207.5 203.8 L1207.9 203.4 L1208.3 203.2 L1208.7 202.9 L1209.1 202.6 L1209.5 202.3 L1209.9 202.0 L1210.3 201.7 L1210.7 201.4 L1211.1 201.2 L1211.5 200.9 L1211.9 200.7 L1212.3 200.5 L1212.7 200.3 L1213.1 200.2 L1213.5 200.0 L1213.9 199.9 L1214.3 199.8 L1214.7 199.8 L1215.1 199.8 L1215.5 200.0 L1215.9 200.3 L1216.3 200.7 L1216.7 201.3 L1217.1 201.9 L1217.5 202.6 L1217.9 203.4 L1218.3 204.2 L1218.7 205.0 L1219.1 206.0 L1219.5 207.4 L1219.9 209.0 L1220.3 210.5 L1220.7 211.8 L1221.1 213.1 L1221.5 213.4 L1221.9 211.9 L1222.3 210.1 L1222.7 208.0 L1223.1 205.8 L1223.5 203.9 L1223.9 202.8 L1224.3 201.9 L1224.7 201.1 L1225.1 200.4 L1225.5 199.7 L1225.9 199.2 L1226.3 198.7 L1226.7 198.2 L1227.1 197.8 L1227.5 197.5 L1227.9 197.2 L1228.3 196.9 L1228.7 196.6 L1229.1 196.4 L1229.5 196.1 L1229.9 195.9 L1230.3 195.7 L1230.7 195.5 L1231.1 195.3 L1231.5 195.1 L1231.9 195.0 L1232.3 194.8 L1232.7 194.7 L1233.1 194.6 L1233.5 194.5 L1233.9 194.4 L1234.3 194.3 L1234.7 194.2 L1235.1 194.1 L1235.5 194.1 L1235.9 194.0 L1236.3 193.9 L1236.7 193.9 L1237.1 193.8 L1237.5 193.8 L1237.9 193.7 L1238.3 193.7 L1238.7 193.7 L1239.1 193.7 L1239.5 193.7 L1239.9 193.8 L1240.3 193.8 L1240.7 193.9 L1241.1 194.0 L1241.5 194.1 L1241.9 194.2 L1242.3 194.3 L1242.7 194.4 L1243.1 194.6 L1243.5 194.7 L1243.9 194.9 L1244.3 195.0 L1244.7 195.2 L1245.1 195.3 L1245.5 195.5 L1245.9 195.7 L1246.3 195.8 L1246.7 196.0 L1247.1 196.2 L1247.5 196.3 L1247.9 196.5 L1248.3 196.6 L1248.7 196.8 L1249.1 196.9 L1249.5 197.1 L1249.9 197.3 L1250.3 197.5 L1250.7 197.6 L1251.1 197.8 L1251.5 198.0 L1251.9 198.2 L1252.3 198.4 L1252.7 198.6 L1253.1 198.8 L1253.5 199.0 L1253.9 199.3 L1254.3 199.5 L1254.7 199.7 L1255.1 199.9 L1255.5 200.1 L1255.9 200.3 L1256.3 200.6 L1256.7 200.8 L1257.1 201.0 L1257.5 201.3 L1257.9 201.5 L1258.3 201.7 L1258.7 202.0 L1259.1 202.2 L1259.5 202.5 L1259.9 202.7 L1260.3 203.0 L1260.7 203.2 L1261.1 203.5 L1261.5 203.8 L1261.9 204.0 L1262.3 204.3 L1262.7 204.6 L1263.1 204.9 L1263.5 205.2 L1263.9 205.4 L1264.3 205.7 L1264.7 206.0 L1265.1 206.3 L1265.5 206.6 L1265.9 206.9 L1266.3 207.2 L1266.7 207.4 L1267.1 207.7 L1267.5 208.0 L1267.9 208.3 L1268.3 208.6 L1268.7 208.9 L1269.1 209.2 L1269.5 209.5 L1269.9 209.7 L1270.3 210.0 L1270.7 210.3 L1271.1 210.6 L1271.5 210.9 L1271.9 211.1 L1272.3 211.4 L1272.7 211.7 L1273.1 211.9 L1273.5 212.2 L1273.9 212.5 L1274.3 212.7 L1274.7 213.0 L1275.1 213.3 L1275.5 213.5 L1275.9 213.8 L1276.3 214.1 L1276.7 214.3 L1277.1 214.6 L1277.5 214.9 L1277.9 215.1 L1278.3 215.4 L1278.7 215.6 L1279.1 215.9 L1279.5 216.2 L1279.9 216.4 L1280.3 216.7 L1280.7 216.9 L1281.1 217.2 L1281.5 217.5" fill="none" stroke="#0a2cff" stroke-width="2.3" stroke-linejoin="round" />
<path d="M778.7 53.0 L779.1 51.4 L779.5 49.9 L779.9 48.4 L780.3 46.9 L780.7 45.5 L781.1 44.2 L781.5 42.9 L781.9 41.6 L782.3 40.5 L782.7 39.3 L783.1 38.2 L783.5 37.1 L783.9 36.0 L784.3 34.9 L784.7 33.9 L785.1 33.0 L785.5 32.2 L785.9 31.6 L786.3 31.1 L786.7 30.7 L787.1 30.2 L787.5 29.9 L787.9 29.5 L788.3 29.2 L788.7 29.0 L789.1 28.8 L789.5 28.7 L789.9 28.7 L790.3 29.1 L790.7 29.7 L791.1 30.5 L791.5 31.5 L791.9 32.7 L792.3 34.0 L792.7 35.5 L793.1 37.7 L793.5 40.5 L793.9 43.8 L794.3 47.4 L794.7 51.5 L795.1 56.7 L795.5 63.5 L795.9 75.5 L796.3 91.4 L796.7 104.9 L797.1 115.6 L797.5 125.5 L797.9 136.8 L798.3 148.9 L798.7 154.5 L799.1 148.6 L799.5 136.5 L799.9 125.8 L800.3 117.5 L800.7 109.2 L801.1 99.1 L801.5 85.2 L801.9 75.7 L802.3 68.8 L802.7 63.3 L803.1 58.7 L803.5 54.4 L803.9 50.5 L804.3 47.2 L804.7 44.6 L805.1 42.7 L805.5 41.0 L805.9 39.5 L806.3 38.2 L806.7 37.2 L807.1 36.5 L807.5 36.4 L807.9 36.8 L808.3 37.7 L808.7 38.9 L809.1 40.3 L809.5 41.9 L809.9 43.6 L810.3 45.7 L810.7 48.4 L811.1 51.5 L811.5 54.6 L811.9 57.5 L812.3 60.4 L812.7 63.4 L813.1 66.5 L813.5 70.0 L813.9 74.0 L814.3 78.5 L814.7 83.3 L815.1 88.4 L815.5 93.5 L815.9 98.4 L816.3 103.5 L816.7 108.7 L817.1 113.8 L817.5 119.3 L817.9 124.8 L818.3 126.4 L818.7 123.4 L819.1 118.5 L819.5 114.0 L819.9 109.7 L820.3 105.3 L820.7 100.9 L821.1 96.2 L821.5 91.5 L821.9 87.7 L822.3 85.0 L822.7 82.6 L823.1 80.8 L823.5 80.5 L823.9 81.7 L824.3 84.1 L824.7 87.0 L825.1 90.9 L825.5 96.2 L825.9 102.0 L826.3 108.6 L826.7 116.0 L827.1 123.3 L827.5 130.9 L827.9 138.6 L828.3 140.7 L828.7 135.3 L829.1 126.9 L829.5 119.2 L829.9 110.7 L830.3 102.0 L830.7 92.1 L831.1 82.8 L831.5 77.7 L831.9 74.5 L832.3 72.1 L832.7 69.9 L833.1 67.5 L833.5 65.2 L833.9 63.3 L834.3 61.8 L834.7 61.1 L835.1 61.3 L835.5 62.0 L835.9 63.2 L836.3 64.6 L836.7 66.2 L837.1 67.8 L837.5 69.2 L837.9 70.6 L838.3 72.2 L838.7 73.8 L839.1 75.5 L839.5 77.5 L839.9 79.6 L840.3 82.1 L840.7 85.0 L841.1 88.2 L841.5 91.4 L841.9 94.5 L842.3 97.2 L842.7 99.6 L843.1 102.0 L843.5 104.2 L843.9 106.3 L844.3 108.4 L844.7 110.4 L845.1 112.4 L845.5 114.5 L845.9 116.5 L846.3 118.5 L846.7 120.6 L847.1 122.8 L847.5 125.0 L847.9 127.3 L848.3 129.5 L848.7 131.8 L849.1 134.0 L849.5 136.3 L849.9 138.6 L850.3 140.9 L850.7 143.3 L851.1 145.6 L851.5 147.9 L851.9 150.3 L852.3 152.6 L852.7 155.0 L853.1 157.3 L853.5 159.7 L853.9 162.1 L854.3 164.5 L854.7 166.8 L855.1 169.2 L855.5 171.6 L855.9 174.1 L856.3 176.5 L856.7 178.9 L857.1 181.4 L857.5 183.8 L857.9 186.3 L858.3 188.8 L858.7 191.2 L859.1 193.8 L859.5 196.4 L859.9 199.0 L860.3 201.6 L860.7 204.2 L861.1 206.9 L861.5 209.5 L861.9 212.1 L862.3 214.7 L862.7 217.2 L863.1 219.7 L863.5 222.1 L863.9 224.4 L864.3 226.7 L864.7 228.9 L865.1 231.0 L865.5 233.0 L865.9 235.0 L866.3 237.1 L866.7 239.1 L867.1 241.1 L867.5 243.2 L867.9 245.3 L868.3 247.4 L868.7 249.6 L869.1 251.8 L869.5 254.1 L869.9 256.3 L870.3 258.6 L870.7 260.9 L871.1 263.1 L871.5 265.4 L871.9 267.6 L872.3 269.9 L872.7 272.0 L873.1 274.2 L873.5 276.4 L873.9 278.5 L874.3 280.7 L874.7 283.0 L875.1 285.3 L875.5 287.7 L875.9 290.3 L876.3 292.9 L876.7 295.4 L877.1 298.0 L877.5 300.2 L877.9 298.2 L878.3 291.7 L878.7 284.5 L879.1 275.5 L879.5 263.8 L879.9 251.2 L880.3 244.0 L880.7 239.5 L881.1 237.0 L881.5 236.9 L881.9 238.9 L882.3 242.0 L882.7 246.5 L883.1 251.6 L883.5 257.5 L883.9 263.6 L884.3 269.3 L884.7 275.0 L885.1 280.4 L885.5 285.0 L885.9 288.5 L886.3 291.5 L886.7 294.2 L887.1 296.7 L887.5 299.0 L887.9 301.3 L888.3 303.7 L888.7 306.0 L889.1 308.3 L889.5 310.4 L889.9 312.4 L890.3 314.3 L890.7 315.9 L891.1 317.3 L891.5 318.6 L891.9 320.0 L892.3 321.5 L892.7 323.0 L893.1 324.5 L893.5 326.1 L893.9 327.6 L894.3 329.1 L894.7 330.6 L895.1 332.0 L895.5 333.3 L895.9 334.5 L896.3 335.7 L896.7 336.8 L897.1 337.9 L897.5 339.0 L897.9 340.0 L898.3 341.0 L898.7 342.0 L899.1 342.9 L899.5 343.7 L899.9 344.5 L900.3 345.2 L900.7 345.9 L901.1 346.6 L901.5 347.2 L901.9 347.8 L902.3 348.4 L902.7 349.0 L903.1 349.5 L903.5 350.0 L903.9 350.5 L904.3 351.0 L904.7 351.5 L905.1 352.0 L905.5 352.4 L905.9 352.9 L906.3 353.3 L906.7 353.7 L907.1 354.1 L907.5 354.5 L907.9 354.8 L908.3 355.1 L908.7 355.3 L909.1 355.5 L909.5 355.8 L909.9 356.0 L910.3 356.2 L910.7 356.4 L911.1 356.6 L911.5 356.7 L911.9 356.9 L912.3 357.0 L912.7 357.1 L913.1 357.1 L913.5 357.1 L913.9 357.1 L914.3 357.0 L914.7 356.9 L915.1 356.8 L915.5 356.7 L915.9 356.6 L916.3 356.5 L916.7 356.3 L917.1 356.1 L917.5 356.0 L917.9 355.8 L918.3 355.6 L918.7 355.4 L919.1 355.1 L919.5 354.8 L919.9 354.5 L920.3 354.1 L920.7 353.8 L921.1 353.4 L921.5 353.0 L921.9 352.5 L922.3 352.1 L922.7 351.7 L923.1 351.2 L923.5 350.7 L923.9 350.2 L924.3 349.7 L924.7 349.1 L925.1 348.6 L925.5 348.0 L925.9 347.4 L926.3 346.8 L926.7 346.1 L927.1 345.5 L927.5 344.8 L927.9 344.2 L928.3 343.5 L928.7 342.7 L929.1 342.0 L929.5 341.2 L929.9 340.4 L930.3 339.6 L930.7 338.7 L931.1 337.9 L931.5 337.1 L931.9 336.2 L932.3 335.4 L932.7 334.5 L933.1 333.6 L933.5 332.7 L933.9 331.8 L934.3 330.8 L934.7 329.9 L935.1 329.0 L935.5 328.0 L935.9 327.1 L936.3 326.2 L936.7 325.3 L937.1 324.4 L937.5 323.5 L937.9 322.6 L938.3 321.6 L938.7 320.6 L939.1 319.4 L939.5 318.1 L939.9 316.6 L940.3 315.0 L940.7 313.4 L941.1 311.7 L941.5 309.9 L941.9 308.2 L942.3 306.6 L942.7 305.0 L943.1 303.5 L943.5 301.9 L943.9 300.4 L944.3 298.9 L944.7 297.3 L945.1 295.8 L945.5 294.3 L945.9 292.8 L946.3 291.3 L946.7 289.8 L947.1 288.3 L947.5 286.7 L947.9 285.2 L948.3 283.7 L948.7 282.2 L949.1 280.7 L949.5 279.2 L949.9 277.7 L950.3 276.3 L950.7 274.8 L951.1 273.3 L951.5 271.7 L951.9 270.2 L952.3 268.7 L952.7 267.2 L953.1 265.7 L953.5 264.2 L953.9 262.7 L954.3 261.2 L954.7 259.7 L955.1 258.2 L955.5 256.6 L955.9 255.1 L956.3 253.6 L956.7 252.0 L957.1 250.4 L957.5 248.9 L957.9 247.3 L958.3 245.7 L958.7 244.1 L959.1 242.5 L959.5 240.9 L959.9 239.4 L960.3 237.8 L960.7 236.2 L961.1 234.6 L961.5 233.0 L961.9 231.4 L962.3 229.8 L962.7 228.2 L963.1 226.6 L963.5 224.9 L963.9 223.3 L964.3 221.7 L964.7 220.1 L965.1 218.4 L965.5 216.8 L965.9 215.2 L966.3 213.7 L966.7 212.1 L967.1 210.6 L967.5 209.1 L967.9 207.6 L968.3 206.0 L968.7 204.5 L969.1 202.9 L969.5 201.4 L969.9 199.9 L970.3 198.5 L970.7 197.2 L971.1 196.0 L971.5 195.0 L971.9 194.1 L972.3 193.2 L972.7 192.4 L973.1 191.9 L973.5 191.6 L973.9 191.3 L974.3 191.1 L974.7 191.3 L975.1 192.4 L975.5 194.0 L975.9 196.5 L976.3 200.0 L976.7 203.6 L977.1 207.6 L977.5 211.9 L977.9 216.4 L978.3 220.8 L978.7 225.2 L979.1 229.3 L979.5 233.6 L979.9 237.8 L980.3 241.3 L980.7 244.2 L981.1 246.5 L981.5 246.5 L981.9 244.2 L982.3 241.3 L982.7 237.8 L983.1 234.0 L983.5 230.5 L983.9 227.0 L984.3 223.5 L984.7 220.0 L985.1 216.7 L985.5 213.6 L985.9 210.7 L986.3 208.1 L986.7 205.7 L987.1 203.3 L987.5 201.1 L987.9 199.0 L988.3 197.0 L988.7 195.1 L989.1 193.3 L989.5 191.5 L989.9 189.9 L990.3 188.3 L990.7 186.8 L991.1 185.3 L991.5 183.9 L991.9 182.5 L992.3 181.2 L992.7 179.9 L993.1 178.7 L993.5 177.5 L993.9 176.4 L994.3 175.3 L994.7 174.3 L995.1 173.3 L995.5 172.3 L995.9 171.3 L996.3 170.4 L996.7 169.5 L997.1 168.6 L997.5 167.8 L997.9 167.0 L998.3 166.2 L998.7 165.4 L999.1 164.7 L999.5 163.9 L999.9 163.3 L1000.3 162.6 L1000.7 162.0 L1001.1 161.4 L1001.5 160.8 L1001.9 160.3 L1002.3 159.7 L1002.7 159.2 L1003.1 158.6 L1003.5 158.1 L1003.9 157.6 L1004.3 157.1 L1004.7 156.6 L1005.1 156.1 L1005.5 155.7 L1005.9 155.3 L1006.3 154.9 L1006.7 154.5 L1007.1 154.1 L1007.5 153.8 L1007.9 153.5 L1008.3 153.2 L1008.7 152.9 L1009.1 152.6 L1009.5 152.4 L1009.9 152.1 L1010.3 151.9 L1010.7 151.6 L1011.1 151.4 L1011.5 151.2 L1011.9 150.9 L1012.3 150.7 L1012.7 150.6 L1013.1 150.4 L1013.5 150.2 L1013.9 150.1 L1014.3 150.0 L1014.7 149.9 L1015.1 149.9 L1015.5 149.9 L1015.9 149.9 L1016.3 150.0 L1016.7 150.0 L1017.1 150.1 L1017.5 150.2 L1017.9 150.4 L1018.3 150.5 L1018.7 150.7 L1019.1 150.8 L1019.5 151.0 L1019.9 151.2 L1020.3 151.4 L1020.7 151.7 L1021.1 151.9 L1021.5 152.1 L1021.9 152.3 L1022.3 152.6 L1022.7 152.8 L1023.1 153.1 L1023.5 153.3 L1023.9 153.6 L1024.3 153.9 L1024.7 154.3 L1025.1 154.6 L1025.5 155.0 L1025.9 155.4 L1026.3 155.8 L1026.7 156.3 L1027.1 156.8 L1027.5 157.2 L1027.9 157.7 L1028.3 158.2 L1028.7 158.8 L1029.1 159.3 L1029.5 159.9 L1029.9 160.4 L1030.3 161.0 L1030.7 161.6 L1031.1 162.1 L1031.5 162.7 L1031.9 163.3 L1032.3 163.9 L1032.7 164.5 L1033.1 165.1 L1033.5 165.8 L1033.9 166.4 L1034.3 167.1 L1034.7 167.8 L1035.1 168.5 L1035.5 169.2 L1035.9 170.0 L1036.3 170.8 L1036.7 171.5 L1037.1 172.3 L1037.5 173.2 L1037.9 174.0 L1038.3 174.8 L1038.7 175.7 L1039.1 176.5 L1039.5 177.4 L1039.9 178.3 L1040.3 179.2 L1040.7 180.1 L1041.1 181.0 L1041.5 182.0 L1041.9 182.9 L1042.3 183.8 L1042.7 184.8 L1043.1 185.7 L1043.5 186.7 L1043.9 187.6 L1044.3 188.6 L1044.7 189.5 L1045.1 190.5 L1045.5 191.5 L1045.9 192.4 L1046.3 193.4 L1046.7 194.3 L1047.1 195.3 L1047.5 196.3 L1047.9 197.2 L1048.3 198.2 L1048.7 199.1 L1049.1 200.0 L1049.5 201.0 L1049.9 201.9 L1050.3 202.8 L1050.7 203.8 L1051.1 204.7 L1051.5 205.7 L1051.9 206.6 L1052.3 207.6 L1052.7 208.6 L1053.1 209.6 L1053.5 210.5 L1053.9 211.5 L1054.3 212.5 L1054.7 213.5 L1055.1 214.5 L1055.5 215.5 L1055.9 216.5 L1056.3 217.5 L1056.7 218.5 L1057.1 219.5 L1057.5 220.6 L1057.9 221.6 L1058.3 222.6 L1058.7 223.6 L1059.1 224.6 L1059.5 225.7 L1059.9 226.7 L1060.3 227.7 L1060.7 228.7 L1061.1 229.7 L1061.5 230.8 L1061.9 231.8 L1062.3 232.8 L1062.7 233.8 L1063.1 234.8 L1063.5 235.9 L1063.9 236.9 L1064.3 237.9 L1064.7 238.9 L1065.1 239.9 L1065.5 240.9 L1065.9 241.9 L1066.3 242.9 L1066.7 243.9 L1067.1 244.9 L1067.5 245.9 L1067.9 246.9 L1068.3 247.9 L1068.7 248.9 L1069.1 250.0 L1069.5 251.0 L1069.9 252.0 L1070.3 253.0 L1070.7 254.1 L1071.1 255.1 L1071.5 256.2 L1071.9 257.2 L1072.3 258.2 L1072.7 259.3 L1073.1 260.3 L1073.5 261.4 L1073.9 262.4 L1074.3 263.4 L1074.7 264.5 L1075.1 265.5 L1075.5 266.6 L1075.9 267.6 L1076.3 268.6 L1076.7 269.6 L1077.1 270.6 L1077.5 271.6 L1077.9 272.7 L1078.3 273.7 L1078.7 274.6 L1079.1 275.6 L1079.5 276.6 L1079.9 277.6 L1080.3 278.5 L1080.7 279.5 L1081.1 280.4 L1081.5 281.4 L1081.9 282.3 L1082.3 283.2 L1082.7 284.1 L1083.1 285.0 L1083.5 285.8 L1083.9 286.7 L1084.3 287.5 L1084.7 288.4 L1085.1 289.2 L1085.5 290.0 L1085.9 290.8 L1086.3 291.6 L1086.7 292.4 L1087.1 293.2 L1087.5 293.9 L1087.9 294.7 L1088.3 295.4 L1088.7 296.2 L1089.1 296.9 L1089.5 297.7 L1089.9 298.4 L1090.3 299.1 L1090.7 299.8 L1091.1 300.5 L1091.5 301.2 L1091.9 301.9 L1092.3 302.6 L1092.7 303.3 L1093.1 304.0 L1093.5 304.6 L1093.9 305.3 L1094.3 306.0 L1094.7 306.6 L1095.1 307.3 L1095.5 307.9 L1095.9 308.5 L1096.3 309.2 L1096.7 309.8 L1097.1 310.4 L1097.5 311.0 L1097.9 311.6 L1098.3 312.2 L1098.7 312.9 L1099.1 313.5 L1099.5 314.1 L1099.9 314.6 L1100.3 315.2 L1100.7 315.6 L1101.1 316.0 L1101.5 316.4 L1101.9 316.7 L1102.3 317.1 L1102.7 317.4 L1103.1 317.7 L1103.5 318.0 L1103.9 318.3 L1104.3 318.6 L1104.7 318.8 L1105.1 319.0 L1105.5 319.2 L1105.9 319.4 L1106.3 319.5 L1106.7 319.7 L1107.1 319.8 L1107.5 319.9 L1107.9 320.1 L1108.3 320.2 L1108.7 320.3 L1109.1 320.5 L1109.5 320.6 L1109.9 320.7 L1110.3 320.8 L1110.7 320.9 L1111.1 321.0 L1111.5 321.0 L1111.9 321.1 L1112.3 321.1 L1112.7 321.2 L1113.1 321.2 L1113.5 321.2 L1113.9 321.2 L1114.3 321.2 L1114.7 321.1 L1115.1 321.1 L1115.5 321.0 L1115.9 320.9 L1116.3 320.8 L1116.7 320.7 L1117.1 320.6 L1117.5 320.5 L1117.9 320.3 L1118.3 320.2 L1118.7 320.0 L1119.1 319.9 L1119.5 319.7 L1119.9 319.6 L1120.3 319.4 L1120.7 319.2 L1121.1 319.0 L1121.5 318.8 L1121.9 318.5 L1122.3 318.2 L1122.7 317.9 L1123.1 317.6 L1123.5 317.3 L1123.9 317.0 L1124.3 316.7 L1124.7 316.3 L1125.1 316.0 L1125.5 315.6 L1125.9 315.3 L1126.3 314.9 L1126.7 314.5 L1127.1 314.2 L1127.5 313.7 L1127.9 313.3 L1128.3 312.9 L1128.7 312.5 L1129.1 312.0 L1129.5 311.6 L1129.9 311.1 L1130.3 310.7 L1130.7 310.2 L1131.1 309.7 L1131.5 309.2 L1131.9 308.7 L1132.3 308.2 L1132.7 307.7 L1133.1 307.2 L1133.5 306.6 L1133.9 306.1 L1134.3 305.5 L1134.7 305.0 L1135.1 304.4 L1135.5 303.8 L1135.9 303.2 L1136.3 302.5 L1136.7 301.9 L1137.1 301.2 L1137.5 300.5 L1137.9 299.8 L1138.3 299.1 L1138.7 298.3 L1139.1 297.6 L1139.5 296.8 L1139.9 296.0 L1140.3 295.2 L1140.7 294.4 L1141.1 293.6 L1141.5 292.8 L1141.9 291.9 L1142.3 291.1 L1142.7 290.2 L1143.1 289.4 L1143.5 288.5 L1143.9 287.7 L1144.3 286.8 L1144.7 285.9 L1145.1 285.0 L1145.5 284.2 L1145.9 283.3 L1146.3 282.4 L1146.7 281.6 L1147.1 280.7 L1147.5 279.8 L1147.9 279.0 L1148.3 278.1 L1148.7 277.3 L1149.1 276.4 L1149.5 275.6 L1149.9 274.8 L1150.3 274.0 L1150.7 273.2 L1151.1 272.4 L1151.5 271.6 L1151.9 270.8 L1152.3 270.0 L1152.7 269.3 L1153.1 268.5 L1153.5 267.7 L1153.9 267.0 L1154.3 266.2 L1154.7 265.4 L1155.1 264.7 L1155.5 263.9 L1155.9 263.1 L1156.3 262.4 L1156.7 261.6 L1157.1 260.8 L1157.5 260.0 L1157.9 259.2 L1158.3 258.4 L1158.7 257.6 L1159.1 256.8 L1159.5 256.0 L1159.9 255.2 L1160.3 254.3 L1160.7 253.5 L1161.1 252.6 L1161.5 251.7 L1161.9 250.9 L1162.3 249.9 L1162.7 249.0 L1163.1 248.1 L1163.5 247.1 L1163.9 246.2 L1164.3 245.2 L1164.7 244.2 L1165.1 243.1 L1165.5 242.1 L1165.9 240.9 L1166.3 239.7 L1166.7 238.4 L1167.1 237.2 L1167.5 235.8 L1167.9 234.5 L1168.3 233.2 L1168.7 231.8 L1169.1 230.5 L1169.5 229.2 L1169.9 227.9 L1170.3 226.6 L1170.7 225.4 L1171.1 224.2 L1171.5 223.0 L1171.9 221.8 L1172.3 220.6 L1172.7 219.4 L1173.1 218.3 L1173.5 217.1 L1173.9 215.9 L1174.3 214.8 L1174.7 213.7 L1175.1 212.7 L1175.5 211.7 L1175.9 210.8 L1176.3 210.0 L1176.7 209.2 L1177.1 208.5 L1177.5 207.8 L1177.9 207.1 L1178.3 206.4 L1178.7 205.8 L1179.1 205.2 L1179.5 204.6 L1179.9 204.1 L1180.3 203.6 L1180.7 203.2 L1181.1 202.7 L1181.5 202.4 L1181.9 202.1 L1182.3 201.7 L1182.7 201.4 L1183.1 201.1 L1183.5 200.8 L1183.9 200.6 L1184.3 200.4 L1184.7 200.3 L1185.1 200.3 L1185.5 200.7 L1185.9 201.5 L1186.3 202.6 L1186.7 204.0 L1187.1 205.5 L1187.5 207.0 L1187.9 208.5 L1188.3 209.9 L1188.7 211.5 L1189.1 213.2 L1189.5 215.0 L1189.9 216.6 L1190.3 218.0 L1190.7 219.4 L1191.1 220.6 L1191.5 220.9 L1191.9 220.0 L1192.3 218.7 L1192.7 217.4 L1193.1 216.0 L1193.5 214.5 L1193.9 213.0 L1194.3 211.5 L1194.7 209.9 L1195.1 208.3 L1195.5 206.5 L1195.9 204.8 L1196.3 203.0 L1196.7 201.3 L1197.1 199.6 L1197.5 198.1 L1197.9 196.7 L1198.3 195.5 L1198.7 194.4 L1199.1 193.4 L1199.5 192.4 L1199.9 191.4 L1200.3 190.5 L1200.7 189.6 L1201.1 188.8 L1201.5 188.0 L1201.9 187.4 L1202.3 186.7 L1202.7 186.2 L1203.1 185.8 L1203.5 185.4 L1203.9 185.1 L1204.3 184.7 L1204.7 184.4 L1205.1 184.1 L1205.5 183.8 L1205.9 183.5 L1206.3 183.2 L1206.7 182.9 L1207.1 182.7 L1207.5 182.5 L1207.9 182.3 L1208.3 182.1 L1208.7 182.0 L1209.1 181.9 L1209.5 181.8 L1209.9 181.7 L1210.3 181.7 L1210.7 181.7 L1211.1 181.8 L1211.5 182.0 L1211.9 182.3 L1212.3 182.6 L1212.7 183.0 L1213.1 183.4 L1213.5 183.9 L1213.9 184.5 L1214.3 185.0 L1214.7 185.6 L1215.1 186.3 L1215.5 186.9 L1215.9 187.6 L1216.3 188.4 L1216.7 189.4 L1217.1 190.6 L1217.5 191.9 L1217.9 193.4 L1218.3 195.0 L1218.7 196.6 L1219.1 198.2 L1219.5 199.8 L1219.9 201.8 L1220.3 203.8 L1220.7 205.4 L1221.1 206.7 L1221.5 207.1 L1221.9 204.5 L1222.3 201.3 L1222.7 197.9 L1223.1 194.7 L1223.5 192.5 L1223.9 190.8 L1224.3 189.3 L1224.7 188.1 L1225.1 187.2 L1225.5 186.5 L1225.9 186.0 L1226.3 185.5 L1226.7 185.0 L1227.1 184.7 L1227.5 184.5 L1227.9 184.5 L1228.3 184.6 L1228.7 184.7 L1229.1 184.9 L1229.5 185.1 L1229.9 185.5 L1230.3 185.8 L1230.7 186.2 L1231.1 186.6 L1231.5 187.0 L1231.9 187.4 L1232.3 187.8 L1232.7 188.2 L1233.1 188.6 L1233.5 189.0 L1233.9 189.4 L1234.3 189.8 L1234.7 190.3 L1235.1 190.8 L1235.5 191.3 L1235.9 191.8 L1236.3 192.3 L1236.7 192.8 L1237.1 193.3 L1237.5 193.9 L1237.9 194.5 L1238.3 195.0 L1238.7 195.6 L1239.1 196.2 L1239.5 196.8 L1239.9 197.4 L1240.3 198.1 L1240.7 198.8 L1241.1 199.5 L1241.5 200.2 L1241.9 200.9 L1242.3 201.6 L1242.7 202.4 L1243.1 203.1 L1243.5 203.9 L1243.9 204.6 L1244.3 205.4 L1244.7 206.2 L1245.1 207.0 L1245.5 207.7 L1245.9 208.5 L1246.3 209.3 L1246.7 210.0 L1247.1 210.8 L1247.5 211.5 L1247.9 212.2 L1248.3 212.9 L1248.7 213.7 L1249.1 214.4 L1249.5 215.1 L1249.9 215.8 L1250.3 216.5 L1250.7 217.2 L1251.1 217.9 L1251.5 218.7 L1251.9 219.4 L1252.3 220.1 L1252.7 220.8 L1253.1 221.5 L1253.5 222.2 L1253.9 222.9 L1254.3 223.7 L1254.7 224.4 L1255.1 225.1 L1255.5 225.8 L1255.9 226.5 L1256.3 227.2 L1256.7 227.9 L1257.1 228.7 L1257.5 229.4 L1257.9 230.1 L1258.3 230.8 L1258.7 231.6 L1259.1 232.3 L1259.5 233.1 L1259.9 233.8 L1260.3 234.6 L1260.7 235.3 L1261.1 236.1 L1261.5 236.8 L1261.9 237.6 L1262.3 238.3 L1262.7 239.1 L1263.1 239.8 L1263.5 240.5 L1263.9 241.3 L1264.3 242.0 L1264.7 242.7 L1265.1 243.4 L1265.5 244.0 L1265.9 244.7 L1266.3 245.4 L1266.7 246.0 L1267.1 246.6 L1267.5 247.2 L1267.9 247.8 L1268.3 248.4 L1268.7 249.0 L1269.1 249.6 L1269.5 250.2 L1269.9 250.8 L1270.3 251.3 L1270.7 251.9 L1271.1 252.4 L1271.5 253.0 L1271.9 253.5 L1272.3 254.1 L1272.7 254.6 L1273.1 255.2 L1273.5 255.7 L1273.9 256.2 L1274.3 256.7 L1274.7 257.3 L1275.1 257.8 L1275.5 258.3 L1275.9 258.8 L1276.3 259.4 L1276.7 259.9 L1277.1 260.4 L1277.5 260.9 L1277.9 261.4 L1278.3 261.9 L1278.7 262.4 L1279.1 262.9 L1279.5 263.4 L1279.9 263.9 L1280.3 264.4 L1280.7 264.9 L1281.1 265.3" fill="none" stroke="#00007f" stroke-width="2.3" stroke-linejoin="round" />
<path d="M778.7 53.0 L779.1 51.4 L779.5 49.9 L779.9 48.4 L780.3 46.9 L780.7 45.5 L781.1 44.2 L781.5 42.9 L781.9 41.6 L782.3 40.5 L782.7 39.3 L783.1 38.2 L783.5 37.1 L783.9 36.0 L784.3 34.9 L784.7 33.9 L785.1 33.0 L785.5 32.2 L785.9 31.6 L786.3 31.1 L786.7 30.7 L787.1 30.2 L787.5 29.9 L787.9 29.5 L788.3 29.2 L788.7 29.0 L789.1 28.8 L789.5 28.7 L789.9 28.7 L790.3 29.1 L790.7 29.7 L791.1 30.5 L791.5 31.5 L791.9 32.7 L792.3 34.0 L792.7 35.5 L793.1 37.7 L793.5 40.5 L793.9 43.8 L794.3 47.4 L794.7 51.5 L795.1 56.7 L795.5 63.5 L795.9 75.5 L796.3 91.4 L796.7 104.9 L797.1 115.6 L797.5 125.5 L797.9 136.8 L798.3 148.9 L798.7 154.5 L799.1 148.6 L799.5 136.5 L799.9 125.8 L800.3 117.5 L800.7 109.2 L801.1 99.1 L801.5 85.2 L801.9 75.7 L802.3 68.8 L802.7 63.3 L803.1 58.7 L803.5 54.4 L803.9 50.5 L804.3 47.2 L804.7 44.6 L805.1 42.7 L805.5 41.0 L805.9 39.5 L806.3 38.2 L806.7 37.2 L807.1 36.5 L807.5 36.4 L807.9 36.8 L808.3 37.7 L808.7 38.9 L809.1 40.3 L809.5 41.9 L809.9 43.6 L810.3 45.7 L810.7 48.4 L811.1 51.5 L811.5 54.6 L811.9 57.5 L812.3 60.4 L812.7 63.4 L813.1 66.5 L813.5 70.0 L813.9 74.0 L814.3 78.5 L814.7 83.3 L815.1 88.4 L815.5 93.5 L815.9 98.4 L816.3 103.5 L816.7 108.7 L817.1 113.8 L817.5 119.3 L817.9 124.8 L818.3 126.4 L818.7 123.4 L819.1 118.5 L819.5 114.0 L819.9 109.7 L820.3 105.3 L820.7 100.9 L821.1 96.2 L821.5 91.5 L821.9 87.7 L822.3 85.0 L822.7 82.6 L823.1 80.8 L823.5 80.5 L823.9 81.7 L824.3 84.1 L824.7 87.0 L825.1 90.9 L825.5 96.2 L825.9 102.0 L826.3 108.6 L826.7 116.0 L827.1 123.3 L827.5 130.9 L827.9 138.6 L828.3 140.7 L828.7 135.3 L829.1 126.9 L829.5 119.2 L829.9 110.7 L830.3 102.0 L830.7 92.1 L831.1 82.8 L831.5 77.7 L831.9 74.5 L832.3 72.1 L832.7 69.9 L833.1 67.5 L833.5 65.2 L833.9 63.3 L834.3 61.8 L834.7 61.1 L835.1 61.3 L835.5 62.0 L835.9 63.2 L836.3 64.6 L836.7 66.2 L837.1 67.8 L837.5 69.2 L837.9 70.6 L838.3 72.2 L838.7 73.8 L839.1 75.5 L839.5 77.5 L839.9 79.6 L840.3 82.1 L840.7 85.0 L841.1 88.2 L841.5 91.4 L841.9 94.5 L842.3 97.2 L842.7 99.6 L843.1 102.0 L843.5 104.2 L843.9 106.3 L844.3 108.4 L844.7 110.4 L845.1 112.4 L845.5 114.5 L845.9 116.5 L846.3 118.5 L846.7 120.6 L847.1 122.8 L847.5 125.0 L847.9 127.3 L848.3 129.5 L848.7 131.8 L849.1 134.0 L849.5 136.3 L849.9 138.6 L850.3 140.9 L850.7 143.3 L851.1 145.6 L851.5 147.9 L851.9 150.3 L852.3 152.6 L852.7 155.0 L853.1 157.3 L853.5 159.7 L853.9 162.1 L854.3 164.5 L854.7 166.8 L855.1 169.2 L855.5 171.6 L855.9 174.1 L856.3 176.5 L856.7 178.9 L857.1 181.4 L857.5 183.8 L857.9 186.3 L858.3 188.8 L858.7 191.2 L859.1 193.8 L859.5 196.4 L859.9 199.0 L860.3 201.6 L860.7 204.2 L861.1 206.9 L861.5 209.5 L861.9 212.1 L862.3 214.7 L862.7 217.2 L863.1 219.7 L863.5 222.1 L863.9 224.4 L864.3 226.7 L864.7 228.9 L865.1 231.0 L865.5 233.0 L865.9 235.0 L866.3 237.1 L866.7 239.1 L867.1 241.1 L867.5 243.2 L867.9 245.3 L868.3 247.4 L868.7 249.6 L869.1 251.8 L869.5 254.1 L869.9 256.3 L870.3 258.6 L870.7 260.9 L871.1 263.1 L871.5 265.4 L871.9 267.6 L872.3 269.9 L872.7 272.0 L873.1 274.2 L873.5 276.4 L873.9 278.5 L874.3 280.7 L874.7 283.0 L875.1 285.3 L875.5 287.7 L875.9 290.3 L876.3 292.9 L876.7 295.4 L877.1 298.0 L877.5 300.2 L877.9 298.2 L878.3 291.7 L878.7 284.5 L879.1 275.5 L879.5 263.8 L879.9 251.2 L880.3 244.0 L880.7 239.5 L881.1 237.0 L881.5 236.9 L881.9 238.9 L882.3 242.0 L882.7 246.5 L883.1 251.6 L883.5 257.5 L883.9 263.6 L884.3 269.3 L884.7 275.0 L885.1 280.4 L885.5 285.0 L885.9 288.5 L886.3 291.5 L886.7 294.2 L887.1 296.7 L887.5 299.0 L887.9 301.3 L888.3 303.7 L888.7 306.0 L889.1 308.3 L889.5 310.4 L889.9 312.4 L890.3 314.3 L890.7 315.9 L891.1 317.3 L891.5 318.6 L891.9 320.0 L892.3 321.5 L892.7 323.0 L893.1 324.5 L893.5 326.1 L893.9 327.6 L894.3 329.1 L894.7 330.6 L895.1 332.0 L895.5 333.3 L895.9 334.5 L896.3 335.7 L896.7 336.8 L897.1 337.9 L897.5 339.0 L897.9 340.0 L898.3 341.0 L898.7 342.0 L899.1 342.9 L899.5 343.7 L899.9 344.5 L900.3 345.2 L900.7 345.9 L901.1 346.6 L901.5 347.2 L901.9 347.8 L902.3 348.4 L902.7 349.0 L903.1 349.5 L903.5 350.0 L903.9 350.5 L904.3 351.0 L904.7 351.5 L905.1 352.0 L905.5 352.4 L905.9 352.9 L906.3 353.3 L906.7 353.7 L907.1 354.1 L907.5 354.5 L907.9 354.8 L908.3 355.1 L908.7 355.3 L909.1 355.5 L909.5 355.8 L909.9 356.0 L910.3 356.2 L910.7 356.4 L911.1 356.6 L911.5 356.7 L911.9 356.9 L912.3 357.0 L912.7 357.1 L913.1 357.1 L913.5 357.1 L913.9 357.1 L914.3 357.0 L914.7 356.9 L915.1 356.8 L915.5 356.7 L915.9 356.6 L916.3 356.5 L916.7 356.3 L917.1 356.1 L917.5 356.0 L917.9 355.8 L918.3 355.6 L918.7 355.4 L919.1 355.1 L919.5 354.8 L919.9 354.5 L920.3 354.1 L920.7 353.8 L921.1 353.4 L921.5 353.0 L921.9 352.5 L922.3 352.1 L922.7 351.7 L923.1 351.2 L923.5 350.7 L923.9 350.2 L924.3 349.7 L924.7 349.1 L925.1 348.6 L925.5 348.0 L925.9 347.4 L926.3 346.8 L926.7 346.1 L927.1 345.5 L927.5 344.8 L927.9 344.2 L928.3 343.5 L928.7 342.7 L929.1 342.0 L929.5 341.2 L929.9 340.4 L930.3 339.6 L930.7 338.7 L931.1 337.9 L931.5 337.1 L931.9 336.2 L932.3 335.4 L932.7 334.5 L933.1 333.6 L933.5 332.7 L933.9 331.8 L934.3 330.8 L934.7 329.9 L935.1 329.0 L935.5 328.0 L935.9 327.1 L936.3 326.2 L936.7 325.3 L937.1 324.4 L937.5 323.5 L937.9 322.6 L938.3 321.6 L938.7 320.6 L939.1 319.4 L939.5 318.1 L939.9 316.6 L940.3 315.0 L940.7 313.4 L941.1 311.7 L941.5 309.9 L941.9 308.2 L942.3 306.6 L942.7 305.0 L943.1 303.5 L943.5 301.9 L943.9 300.4 L944.3 298.9 L944.7 297.3 L945.1 295.8 L945.5 294.3 L945.9 292.8 L946.3 291.3 L946.7 289.8 L947.1 288.3 L947.5 286.7 L947.9 285.2 L948.3 283.7 L948.7 282.2 L949.1 280.7 L949.5 279.2 L949.9 277.7 L950.3 276.3 L950.7 274.8 L951.1 273.3 L951.5 271.7 L951.9 270.2 L952.3 268.7 L952.7 267.2 L953.1 265.7 L953.5 264.2 L953.9 262.7 L954.3 261.2 L954.7 259.7 L955.1 258.2 L955.5 256.6 L955.9 255.1 L956.3 253.6 L956.7 252.0 L957.1 250.4 L957.5 248.9 L957.9 247.3 L958.3 245.7 L958.7 244.1 L959.1 242.5 L959.5 240.9 L959.9 239.4 L960.3 237.8 L960.7 236.2 L961.1 234.6 L961.5 233.0 L961.9 231.4 L962.3 229.8 L962.7 228.2 L963.1 226.6 L963.5 224.9 L963.9 223.3 L964.3 221.7 L964.7 220.1 L965.1 218.4 L965.5 216.8 L965.9 215.2 L966.3 213.7 L966.7 212.1 L967.1 210.6 L967.5 209.1 L967.9 207.6 L968.3 206.0 L968.7 204.5 L969.1 202.9 L969.5 201.4 L969.9 199.9 L970.3 198.5 L970.7 197.2 L971.1 196.0 L971.5 195.0 L971.9 194.1 L972.3 193.2 L972.7 192.4 L973.1 191.9 L973.5 191.6 L973.9 191.3 L974.3 191.1 L974.7 191.3 L975.1 192.4 L975.5 194.0 L975.9 196.5 L976.3 200.0 L976.7 203.6 L977.1 207.6 L977.5 211.9 L977.9 216.4 L978.3 220.8 L978.7 225.2 L979.1 229.3 L979.5 233.6 L979.9 237.8 L980.3 241.3 L980.7 244.2 L981.1 246.5 L981.5 246.5 L981.9 244.2 L982.3 241.3 L982.7 237.8 L983.1 234.0 L983.5 230.5 L983.9 227.0 L984.3 223.5 L984.7 220.0 L985.1 216.7 L985.5 213.6 L985.9 210.7 L986.3 208.1 L986.7 205.7 L987.1 203.3 L987.5 201.1 L987.9 199.0 L988.3 197.0 L988.7 195.1 L989.1 193.3 L989.5 191.5 L989.9 189.9 L990.3 188.3 L990.7 186.8 L991.1 185.3 L991.5 183.9 L991.9 182.5 L992.3 181.2 L992.7 179.9 L993.1 178.7 L993.5 177.5 L993.9 176.4 L994.3 175.3 L994.7 174.3 L995.1 173.3 L995.5 172.3 L995.9 171.3 L996.3 170.4 L996.7 169.5 L997.1 168.6 L997.5 167.8 L997.9 167.0 L998.3 166.2 L998.7 165.4 L999.1 164.7 L999.5 163.9 L999.9 163.3 L1000.3 162.6 L1000.7 162.0 L1001.1 161.4 L1001.5 160.8 L1001.9 160.3 L1002.3 159.7 L1002.7 159.2 L1003.1 158.6 L1003.5 158.1 L1003.9 157.6 L1004.3 157.1 L1004.7 156.6 L1005.1 156.1 L1005.5 155.7 L1005.9 155.3 L1006.3 154.9 L1006.7 154.5 L1007.1 154.1 L1007.5 153.8 L1007.9 153.5 L1008.3 153.2 L1008.7 152.9 L1009.1 152.6 L1009.5 152.4 L1009.9 152.1 L1010.3 151.9 L1010.7 151.6 L1011.1 151.4 L1011.5 151.2 L1011.9 150.9 L1012.3 150.7 L1012.7 150.6 L1013.1 150.4 L1013.5 150.2 L1013.9 150.1 L1014.3 150.0 L1014.7 149.9 L1015.1 149.9 L1015.5 149.9 L1015.9 149.9 L1016.3 150.0 L1016.7 150.0 L1017.1 150.1 L1017.5 150.2 L1017.9 150.4 L1018.3 150.5 L1018.7 150.7 L1019.1 150.8 L1019.5 151.0 L1019.9 151.2 L1020.3 151.4 L1020.7 151.7 L1021.1 151.9 L1021.5 152.1 L1021.9 152.3 L1022.3 152.6 L1022.7 152.8 L1023.1 153.1 L1023.5 153.3 L1023.9 153.6 L1024.3 153.9 L1024.7 154.3 L1025.1 154.6 L1025.5 155.0 L1025.9 155.4 L1026.3 155.8 L1026.7 156.3 L1027.1 156.8 L1027.5 157.2 L1027.9 157.7 L1028.3 158.2 L1028.7 158.8 L1029.1 159.3 L1029.5 159.9 L1029.9 160.4 L1030.3 161.0 L1030.7 161.6 L1031.1 162.1 L1031.5 162.7 L1031.9 163.3 L1032.3 163.9 L1032.7 164.5 L1033.1 165.1 L1033.5 165.8 L1033.9 166.4 L1034.3 167.1 L1034.7 167.8 L1035.1 168.5 L1035.5 169.2 L1035.9 170.0 L1036.3 170.8 L1036.7 171.5 L1037.1 172.3 L1037.5 173.2 L1037.9 174.0 L1038.3 174.8 L1038.7 175.7 L1039.1 176.5 L1039.5 177.4 L1039.9 178.3 L1040.3 179.2 L1040.7 180.1 L1041.1 181.0 L1041.5 182.0 L1041.9 182.9 L1042.3 183.8 L1042.7 184.8 L1043.1 185.7 L1043.5 186.7 L1043.9 187.6 L1044.3 188.6 L1044.7 189.5 L1045.1 190.5 L1045.5 191.5 L1045.9 192.4 L1046.3 193.4 L1046.7 194.3 L1047.1 195.3 L1047.5 196.3 L1047.9 197.2 L1048.3 198.2 L1048.7 199.1 L1049.1 200.0 L1049.5 201.0 L1049.9 201.9 L1050.3 202.8 L1050.7 203.8 L1051.1 204.7 L1051.5 205.7 L1051.9 206.6 L1052.3 207.6 L1052.7 208.6 L1053.1 209.6 L1053.5 210.5 L1053.9 211.5 L1054.3 212.5 L1054.7 213.5 L1055.1 214.5 L1055.5 215.5 L1055.9 216.5 L1056.3 217.5 L1056.7 218.5 L1057.1 219.5 L1057.5 220.6 L1057.9 221.6 L1058.3 222.6 L1058.7 223.6 L1059.1 224.6 L1059.5 225.7 L1059.9 226.7 L1060.3 227.7 L1060.7 228.7 L1061.1 229.7 L1061.5 230.8 L1061.9 231.8 L1062.3 232.8 L1062.7 233.8 L1063.1 234.8 L1063.5 235.9 L1063.9 236.9 L1064.3 237.9 L1064.7 238.9 L1065.1 239.9 L1065.5 240.9 L1065.9 241.9 L1066.3 242.9 L1066.7 243.9 L1067.1 244.9 L1067.5 245.9 L1067.9 246.9 L1068.3 247.9 L1068.7 248.9 L1069.1 250.0 L1069.5 251.0 L1069.9 252.0 L1070.3 253.0 L1070.7 254.1 L1071.1 255.1 L1071.5 256.2 L1071.9 257.2 L1072.3 258.2 L1072.7 259.3 L1073.1 260.3 L1073.5 261.4 L1073.9 262.4 L1074.3 263.4 L1074.7 264.5 L1075.1 265.5 L1075.5 266.6 L1075.9 267.6 L1076.3 268.6 L1076.7 269.6 L1077.1 270.6 L1077.5 271.6 L1077.9 272.7 L1078.3 273.7 L1078.7 274.6 L1079.1 275.6 L1079.5 276.6 L1079.9 277.6 L1080.3 278.5 L1080.7 279.5 L1081.1 280.4 L1081.5 281.4 L1081.9 282.3 L1082.3 283.2 L1082.7 284.1 L1083.1 285.0 L1083.5 285.8 L1083.9 286.7 L1084.3 287.5 L1084.7 288.4 L1085.1 289.2 L1085.5 290.0 L1085.9 290.8 L1086.3 291.6 L1086.7 292.4 L1087.1 293.2 L1087.5 293.9 L1087.9 294.7 L1088.3 295.4 L1088.7 296.2 L1089.1 296.9 L1089.5 297.7 L1089.9 298.4 L1090.3 299.1 L1090.7 299.8 L1091.1 300.5 L1091.5 301.2 L1091.9 301.9 L1092.3 302.6 L1092.7 303.3 L1093.1 304.0 L1093.5 304.6 L1093.9 305.3 L1094.3 306.0 L1094.7 306.6 L1095.1 307.3 L1095.5 307.9 L1095.9 308.5 L1096.3 309.2 L1096.7 309.8 L1097.1 310.4 L1097.5 311.0 L1097.9 311.6 L1098.3 312.2 L1098.7 312.9 L1099.1 313.5 L1099.5 314.1 L1099.9 314.6 L1100.3 315.2 L1100.7 315.6 L1101.1 316.0 L1101.5 316.4 L1101.9 316.7 L1102.3 317.1 L1102.7 317.4 L1103.1 317.7 L1103.5 318.0 L1103.9 318.3 L1104.3 318.6 L1104.7 318.8 L1105.1 319.0 L1105.5 319.2 L1105.9 319.4 L1106.3 319.5 L1106.7 319.7 L1107.1 319.8 L1107.5 319.9 L1107.9 320.1 L1108.3 320.2 L1108.7 320.3 L1109.1 320.5 L1109.5 320.6 L1109.9 320.7 L1110.3 320.8 L1110.7 320.9 L1111.1 321.0 L1111.5 321.0 L1111.9 321.1 L1112.3 321.1 L1112.7 321.2 L1113.1 321.2 L1113.5 321.2 L1113.9 321.2 L1114.3 321.2 L1114.7 321.1 L1115.1 321.1 L1115.5 321.0 L1115.9 320.9 L1116.3 320.8 L1116.7 320.7 L1117.1 320.6 L1117.5 320.5 L1117.9 320.3 L1118.3 320.2 L1118.7 320.0 L1119.1 319.9 L1119.5 319.7 L1119.9 319.6 L1120.3 319.4 L1120.7 319.2 L1121.1 319.0 L1121.5 318.8 L1121.9 318.5 L1122.3 318.2 L1122.7 317.9 L1123.1 317.6 L1123.5 317.3 L1123.9 317.0 L1124.3 316.7 L1124.7 316.3 L1125.1 316.0 L1125.5 315.6 L1125.9 315.3 L1126.3 314.9 L1126.7 314.5 L1127.1 314.2 L1127.5 313.7 L1127.9 313.3 L1128.3 312.9 L1128.7 312.5 L1129.1 312.0 L1129.5 311.6 L1129.9 311.1 L1130.3 310.7 L1130.7 310.2 L1131.1 309.7 L1131.5 309.2 L1131.9 308.7 L1132.3 308.2 L1132.7 307.7 L1133.1 307.2 L1133.5 306.6 L1133.9 306.1 L1134.3 305.5 L1134.7 305.0 L1135.1 304.4 L1135.5 303.8 L1135.9 303.2 L1136.3 302.5 L1136.7 301.9 L1137.1 301.2 L1137.5 300.5 L1137.9 299.8 L1138.3 299.1 L1138.7 298.3 L1139.1 297.6 L1139.5 296.8 L1139.9 296.0 L1140.3 295.2 L1140.7 294.4 L1141.1 293.6 L1141.5 292.8 L1141.9 291.9 L1142.3 291.1 L1142.7 290.2 L1143.1 289.4 L1143.5 288.5 L1143.9 287.7 L1144.3 286.8 L1144.7 285.9 L1145.1 285.0 L1145.5 284.2 L1145.9 283.3 L1146.3 282.4 L1146.7 281.6 L1147.1 280.7 L1147.5 279.8 L1147.9 279.0 L1148.3 278.1 L1148.7 277.3 L1149.1 276.4 L1149.5 275.6 L1149.9 274.8 L1150.3 274.0 L1150.7 273.2 L1151.1 272.4 L1151.5 271.6 L1151.9 270.8 L1152.3 270.0 L1152.7 269.3 L1153.1 268.5 L1153.5 267.7 L1153.9 267.0 L1154.3 266.2 L1154.7 265.4 L1155.1 264.7 L1155.5 263.9 L1155.9 263.1 L1156.3 262.4 L1156.7 261.6 L1157.1 260.8 L1157.5 260.0 L1157.9 259.2 L1158.3 258.4 L1158.7 257.6 L1159.1 256.8 L1159.5 256.0 L1159.9 255.2 L1160.3 254.3 L1160.7 253.5 L1161.1 252.6 L1161.5 251.7 L1161.9 250.9 L1162.3 249.9 L1162.7 249.0 L1163.1 248.1 L1163.5 247.1 L1163.9 246.2 L1164.3 245.2 L1164.7 244.2 L1165.1 243.1 L1165.5 242.1 L1165.9 240.9 L1166.3 239.7 L1166.7 238.4 L1167.1 237.2 L1167.5 235.8 L1167.9 234.5 L1168.3 233.2 L1168.7 231.8 L1169.1 230.5 L1169.5 229.2 L1169.9 227.9 L1170.3 226.6 L1170.7 225.4 L1171.1 224.2 L1171.5 223.0 L1171.9 221.8 L1172.3 220.6 L1172.7 219.4 L1173.1 218.3 L1173.5 217.1 L1173.9 215.9 L1174.3 214.8 L1174.7 213.7 L1175.1 212.7 L1175.5 211.7 L1175.9 210.8 L1176.3 210.0 L1176.7 209.2 L1177.1 208.5 L1177.5 207.8 L1177.9 207.1 L1178.3 206.4 L1178.7 205.8 L1179.1 205.2 L1179.5 204.6 L1179.9 204.1 L1180.3 203.6 L1180.7 203.2 L1181.1 202.7 L1181.5 202.4 L1181.9 202.1 L1182.3 201.7 L1182.7 201.4 L1183.1 201.1 L1183.5 200.8 L1183.9 200.6 L1184.3 200.4 L1184.7 200.3 L1185.1 200.3 L1185.5 200.7 L1185.9 201.5 L1186.3 202.6 L1186.7 204.0 L1187.1 205.5 L1187.5 207.0 L1187.9 208.5 L1188.3 209.9 L1188.7 211.5 L1189.1 213.2 L1189.5 215.0 L1189.9 216.6 L1190.3 218.0 L1190.7 219.4 L1191.1 220.6 L1191.5 220.9 L1191.9 220.0 L1192.3 218.7 L1192.7 217.4 L1193.1 216.0 L1193.5 214.5 L1193.9 213.0 L1194.3 211.5 L1194.7 209.9 L1195.1 208.3 L1195.5 206.5 L1195.9 204.8 L1196.3 203.0 L1196.7 201.3 L1197.1 199.6 L1197.5 198.1 L1197.9 196.7 L1198.3 195.5 L1198.7 194.4 L1199.1 193.4 L1199.5 192.4 L1199.9 191.4 L1200.3 190.5 L1200.7 189.6 L1201.1 188.8 L1201.5 188.0 L1201.9 187.4 L1202.3 186.7 L1202.7 186.2 L1203.1 185.8 L1203.5 185.4 L1203.9 185.1 L1204.3 184.7 L1204.7 184.4 L1205.1 184.1 L1205.5 183.8 L1205.9 183.5 L1206.3 183.2 L1206.7 182.9 L1207.1 182.7 L1207.5 182.5 L1207.9 182.3 L1208.3 182.1 L1208.7 182.0 L1209.1 181.9 L1209.5 181.8 L1209.9 181.7 L1210.3 181.7 L1210.7 181.7 L1211.1 181.8 L1211.5 182.0 L1211.9 182.3 L1212.3 182.6 L1212.7 183.0 L1213.1 183.4 L1213.5 183.9 L1213.9 184.5 L1214.3 185.0 L1214.7 185.6 L1215.1 186.3 L1215.5 186.9 L1215.9 187.6 L1216.3 188.4 L1216.7 189.4 L1217.1 190.6 L1217.5 191.9 L1217.9 193.4 L1218.3 195.0 L1218.7 196.6 L1219.1 198.2 L1219.5 199.8 L1219.9 201.8 L1220.3 203.8 L1220.7 205.4 L1221.1 206.7 L1221.5 207.1 L1221.9 204.5 L1222.3 201.3 L1222.7 197.9 L1223.1 194.7 L1223.5 192.5 L1223.9 190.8 L1224.3 189.3 L1224.7 188.1 L1225.1 187.2 L1225.5 186.5 L1225.9 186.0 L1226.3 185.5 L1226.7 185.0 L1227.1 184.7 L1227.5 184.5 L1227.9 184.5 L1228.3 184.6 L1228.7 184.7 L1229.1 184.9 L1229.5 185.1 L1229.9 185.5 L1230.3 185.8 L1230.7 186.2 L1231.1 186.6 L1231.5 187.0 L1231.9 187.4 L1232.3 187.8 L1232.7 188.2 L1233.1 188.6 L1233.5 189.0 L1233.9 189.4 L1234.3 189.8 L1234.7 190.3 L1235.1 190.8 L1235.5 191.3 L1235.9 191.8 L1236.3 192.3 L1236.7 192.8 L1237.1 193.3 L1237.5 193.9 L1237.9 194.5 L1238.3 195.0 L1238.7 195.6 L1239.1 196.2 L1239.5 196.8 L1239.9 197.4 L1240.3 198.1 L1240.7 198.8 L1241.1 199.5 L1241.5 200.2 L1241.9 200.9 L1242.3 201.6 L1242.7 202.4 L1243.1 203.1 L1243.5 203.9 L1243.9 204.6 L1244.3 205.4 L1244.7 206.2 L1245.1 207.0 L1245.5 207.7 L1245.9 208.5 L1246.3 209.3 L1246.7 210.0 L1247.1 210.8 L1247.5 211.5 L1247.9 212.2 L1248.3 212.9 L1248.7 213.7 L1249.1 214.4 L1249.5 215.1 L1249.9 215.8 L1250.3 216.5 L1250.7 217.2 L1251.1 217.9 L1251.5 218.7 L1251.9 219.4 L1252.3 220.1 L1252.7 220.8 L1253.1 221.5 L1253.5 222.2 L1253.9 222.9 L1254.3 223.7 L1254.7 224.4 L1255.1 225.1 L1255.5 225.8 L1255.9 226.5 L1256.3 227.2 L1256.7 227.9 L1257.1 228.7 L1257.5 229.4 L1257.9 230.1 L1258.3 230.8 L1258.7 231.6 L1259.1 232.3 L1259.5 233.0 L1259.9 233.7 L1260.3 234.5 L1260.7 235.2 L1261.1 236.0 L1261.5 236.7 L1261.9 237.4 L1262.3 238.2 L1262.7 238.9 L1263.1 239.6 L1263.5 240.3 L1263.9 241.1 L1264.3 241.8 L1264.7 242.5 L1265.1 243.2 L1265.5 243.9 L1265.9 244.6 L1266.3 245.3 L1266.7 246.0 L1267.1 246.7 L1267.5 247.3 L1267.9 248.0 L1268.3 248.6 L1268.7 249.2 L1269.1 249.9 L1269.5 250.5 L1269.9 251.1 L1270.3 251.7 L1270.7 252.3 L1271.1 252.9 L1271.5 253.5 L1271.9 254.1 L1272.3 254.7 L1272.7 255.4 L1273.1 256.0 L1273.5 256.7 L1273.9 257.4 L1274.3 258.1 L1274.7 258.8 L1275.1 259.5 L1275.5 260.3 L1275.9 261.1 L1276.3 261.9 L1276.7 262.8 L1277.1 263.7 L1277.5 264.6 L1277.9 265.5 L1278.3 266.5 L1278.7 267.5 L1279.1 268.5 L1279.5 269.5 L1279.9 270.6 L1280.3 271.6" fill="none" stroke="#ff4500" stroke-width="2.3" stroke-linejoin="round" stroke-dasharray="7.9 3.85"/>
<path d="M754.6 3.5 L1307 3.5" stroke="#111" stroke-width="1.3" fill="none"/>
<path d="M1307 2.9 L1307 389.5" stroke="#000" stroke-width="2.3" fill="none"/>
<path d="M754.6 388.7 L1307 388.7" stroke="#444" stroke-width="1.6" fill="none"/>
<path d="M754.6 2.9 L754.6 389.5" stroke="#111" stroke-width="1.3" fill="none"/>
<line x1="779.3" y1="388.7" x2="779.3" y2="394.7" stroke="#333" stroke-width="1.2"/>
<text x="780.3" y="417" text-anchor="middle" font-family='"Liberation Serif", serif' font-size="26.67" fill="#000">1000</text>
<line x1="879.4" y1="388.7" x2="879.4" y2="394.7" stroke="#333" stroke-width="1.2"/>
<text x="879.6" y="417" text-anchor="middle" font-family='"Liberation Serif", serif' font-size="26.67" fill="#000">2000</text>
<line x1="979.6" y1="388.7" x2="979.6" y2="394.7" stroke="#333" stroke-width="1.2"/>
<text x="978.4" y="417" text-anchor="middle" font-family='"Liberation Serif", serif' font-size="26.67" fill="#000">3000</text>
<line x1="1080.5" y1="388.7" x2="1080.5" y2="394.7" stroke="#333" stroke-width="1.2"/>
<text x="1079.9" y="417" text-anchor="middle" font-family='"Liberation Serif", serif' font-size="26.67" fill="#000">4000</text>
<line x1="1181.3" y1="388.7" x2="1181.3" y2="394.7" stroke="#333" stroke-width="1.2"/>
<text x="1180.8" y="417" text-anchor="middle" font-family='"Liberation Serif", serif' font-size="26.67" fill="#000">5000</text>
<line x1="1281.1" y1="388.7" x2="1281.1" y2="394.7" stroke="#333" stroke-width="1.2"/>
<text x="1281.9" y="417" text-anchor="middle" font-family='"Liberation Serif", serif' font-size="26.67" fill="#000">6000</text>
<line x1="748.1" y1="341.4" x2="754.6" y2="341.4" stroke="#222" stroke-width="1.3"/>
<text x="742.1" y="350.6" text-anchor="end" font-family='"Liberation Serif", serif' font-size="26.67" fill="#000">1.5</text>
<line x1="748.1" y1="248.4" x2="754.6" y2="248.4" stroke="#222" stroke-width="1.3"/>
<text x="742.1" y="257.6" text-anchor="end" font-family='"Liberation Serif", serif' font-size="26.67" fill="#000">2.0</text>
<line x1="748.1" y1="156.4" x2="754.6" y2="156.4" stroke="#222" stroke-width="1.3"/>
<text x="742.1" y="165.6" text-anchor="end" font-family='"Liberation Serif", serif' font-size="26.67" fill="#000">2.5</text>
<line x1="748.1" y1="65.5" x2="754.6" y2="65.5" stroke="#222" stroke-width="1.3"/>
<text x="742.1" y="74.7" text-anchor="end" font-family='"Liberation Serif", serif' font-size="26.67" fill="#000">3.0</text>
<text x="913.5" y="453.6" textLength="233.5" lengthAdjust="spacing" font-family='"Liberation Serif", serif' font-size="26.67" fill="#000">Wavenumbers [cm<tspan font-size="18.7" dy="-9.5">−1</tspan><tspan dy="9.5">]</tspan></text>
<text transform="translate(696.4,196.8) rotate(-90)" text-anchor="middle" font-family='"Liberation Serif", serif' font-style="italic" font-size="26.67" fill="#000">Q<tspan font-size="17.6" dy="2.6">ext</tspan></text>
<rect x="1071" y="13.8" width="225.29999999999995" height="148.2" rx="4" ry="4" fill="#fff" fill-opacity="0.8" stroke="#d4d4d4" stroke-width="1.3"/>
<line x1="1078.2" y1="32.4" x2="1121.7" y2="32.4" stroke="#0ad2fa" stroke-width="2.2"/>
<line x1="1078.2" y1="67.6" x2="1121.7" y2="67.6" stroke="#0a2cff" stroke-width="2.2"/>
<line x1="1078.2" y1="102.8" x2="1121.7" y2="102.8" stroke="#00007f" stroke-width="2.2"/>
<line x1="1078.2" y1="140.1" x2="1121.7" y2="140.1" stroke="#ff4500" stroke-width="2.2" stroke-dasharray="7.9 3.85"/>
<text x="1137.6" y="39.0" font-style="italic" font-family='"Liberation Serif", serif' font-size="19.6" fill="#000">n</text>
<text x="1147.6" y="40.6" font-style="italic" textLength="32.0" lengthAdjust="spacingAndGlyphs" font-family='"Liberation Serif", serif' font-size="13.3" fill="#000">comp</text>
<text x="1183.6" y="39.5" font-weight="bold" textLength="14.9" lengthAdjust="spacingAndGlyphs" font-family='"Liberation Serif", serif' font-size="18.5" fill="#000">=</text>
<text x="1202.0" y="39.0" textLength="9.6" lengthAdjust="spacingAndGlyphs" font-family='"Liberation Serif", serif' font-size="21.7" fill="#000">5</text>
<text x="1137.6" y="74.5" font-style="italic" font-family='"Liberation Serif", serif' font-size="19.6" fill="#000">n</text>
<text x="1147.6" y="76.1" font-style="italic" textLength="32.0" lengthAdjust="spacingAndGlyphs" font-family='"Liberation Serif", serif' font-size="13.3" fill="#000">comp</text>
<text x="1183.6" y="75.0" font-weight="bold" textLength="14.9" lengthAdjust="spacingAndGlyphs" font-family='"Liberation Serif", serif' font-size="18.5" fill="#000">=</text>
<text x="1202.0" y="74.5" textLength="9.6" lengthAdjust="spacingAndGlyphs" font-family='"Liberation Serif", serif' font-size="21.7" fill="#000">7</text>
<text x="1137.6" y="110.8" font-style="italic" font-family='"Liberation Serif", serif' font-size="19.6" fill="#000">n</text>
<text x="1147.6" y="112.4" font-style="italic" textLength="32.0" lengthAdjust="spacingAndGlyphs" font-family='"Liberation Serif", serif' font-size="13.3" fill="#000">comp</text>
<text x="1183.6" y="111.3" font-weight="bold" textLength="14.9" lengthAdjust="spacingAndGlyphs" font-family='"Liberation Serif", serif' font-size="18.5" fill="#000">=</text>
<text x="1202.6" y="110.8" textLength="19.2" lengthAdjust="spacingAndGlyphs" font-family='"Liberation Serif", serif' font-size="21.7" fill="#000">12</text>
<text x="1138.3" y="145.4" font-style="italic" font-family='"Liberation Serif", serif' font-size="21.0" fill="#000">Q</text>
<text x="1154.4" y="148.0" font-style="italic" textLength="15.6" lengthAdjust="spacingAndGlyphs" font-family='"Liberation Serif", serif' font-size="13.6" fill="#000">ext</text>
<text x="1176.6" y="145.4" textLength="108.6" lengthAdjust="spacingAndGlyphs" font-family='"Liberation Serif", serif' font-size="19.6" fill="#000">semi-capsule</text>
<text x="992" y="554" text-anchor="middle" font-family='"Liberation Sans", sans-serif' font-weight="bold" font-size="42" fill="#000">(b)</text>
</g>
<g id="panel-c">
<path d="M1478.8 53.5 L1479.2 51.6 L1479.6 49.8 L1480.0 48.1 L1480.4 46.3 L1480.8 44.7 L1481.2 43.1 L1481.6 41.5 L1482.0 40.1 L1482.4 38.7 L1482.8 37.3 L1483.2 36.0 L1483.6 34.7 L1484.0 33.4 L1484.4 32.2 L1484.9 31.0 L1485.3 29.9 L1485.7 28.8 L1486.1 27.9 L1486.5 27.1 L1486.9 26.4 L1487.3 25.7 L1487.7 25.1 L1488.1 24.6 L1488.5 24.0 L1488.9 23.5 L1489.3 23.0 L1489.7 22.7 L1490.1 22.4 L1490.5 22.2 L1490.9 22.2 L1491.3 22.5 L1491.7 23.0 L1492.1 23.9 L1492.5 24.9 L1492.9 26.2 L1493.3 27.6 L1493.7 29.1 L1494.1 31.4 L1494.5 34.6 L1494.9 38.7 L1495.3 44.1 L1495.7 52.6 L1496.2 63.5 L1496.6 80.0 L1497.0 98.4 L1497.4 110.8 L1497.8 120.8 L1498.2 130.7 L1498.6 143.1 L1499.0 151.6 L1499.4 149.0 L1499.8 139.0 L1500.2 128.0 L1500.6 118.5 L1501.0 108.3 L1501.4 96.9 L1501.8 82.3 L1502.2 70.0 L1502.6 62.3 L1503.0 55.9 L1503.4 50.4 L1503.8 45.6 L1504.2 41.1 L1504.6 36.6 L1505.0 32.3 L1505.4 28.6 L1505.8 26.2 L1506.2 24.6 L1506.6 23.1 L1507.0 21.8 L1507.5 20.7 L1507.9 20.0 L1508.3 19.7 L1508.7 19.8 L1509.1 20.4 L1509.5 21.4 L1509.9 22.6 L1510.3 24.0 L1510.7 25.5 L1511.1 27.0 L1511.5 29.0 L1511.9 31.3 L1512.3 34.0 L1512.7 36.7 L1513.1 39.6 L1513.5 42.7 L1513.9 46.1 L1514.3 49.6 L1514.7 53.2 L1515.1 56.6 L1515.5 60.3 L1515.9 64.8 L1516.3 71.2 L1516.7 79.1 L1517.1 86.9 L1517.5 95.1 L1517.9 103.0 L1518.3 109.5 L1518.8 115.8 L1519.2 119.8 L1519.6 118.9 L1520.0 114.8 L1520.4 109.4 L1520.8 102.8 L1521.2 94.0 L1521.6 86.3 L1522.0 79.9 L1522.4 74.8 L1522.8 70.7 L1523.2 66.8 L1523.6 63.9 L1524.0 62.4 L1524.4 62.8 L1524.8 65.0 L1525.2 68.4 L1525.6 72.5 L1526.0 77.7 L1526.4 86.4 L1526.8 96.0 L1527.2 105.6 L1527.6 115.5 L1528.0 124.1 L1528.4 132.7 L1528.8 137.0 L1529.2 132.9 L1529.6 124.2 L1530.0 113.6 L1530.5 99.6 L1530.9 87.2 L1531.3 76.5 L1531.7 68.2 L1532.1 62.3 L1532.5 57.4 L1532.9 53.0 L1533.3 49.2 L1533.7 46.4 L1534.1 44.0 L1534.5 41.9 L1534.9 40.7 L1535.3 40.6 L1535.7 41.1 L1536.1 41.9 L1536.5 42.8 L1536.9 43.8 L1537.3 45.1 L1537.7 46.6 L1538.1 48.2 L1538.5 50.1 L1538.9 52.1 L1539.3 54.2 L1539.7 56.4 L1540.1 58.4 L1540.5 60.2 L1540.9 61.9 L1541.3 63.4 L1541.8 64.9 L1542.2 66.4 L1542.6 67.9 L1543.0 69.5 L1543.4 71.3 L1543.8 73.4 L1544.2 75.7 L1544.6 78.2 L1545.0 81.0 L1545.4 83.8 L1545.8 86.8 L1546.2 89.8 L1546.6 92.7 L1547.0 95.8 L1547.4 99.0 L1547.8 102.2 L1548.2 105.5 L1548.6 108.9 L1549.0 112.3 L1549.4 115.6 L1549.8 118.8 L1550.2 122.0 L1550.6 125.1 L1551.0 128.2 L1551.4 131.2 L1551.8 134.2 L1552.2 137.2 L1552.6 140.2 L1553.1 143.1 L1553.5 146.1 L1553.9 149.0 L1554.3 151.9 L1554.7 154.7 L1555.1 157.6 L1555.5 160.4 L1555.9 163.2 L1556.3 165.9 L1556.7 168.6 L1557.1 171.2 L1557.5 173.8 L1557.9 176.5 L1558.3 179.2 L1558.7 181.9 L1559.1 184.7 L1559.5 187.5 L1559.9 190.5 L1560.3 193.7 L1560.7 197.0 L1561.1 200.4 L1561.5 203.8 L1561.9 207.3 L1562.3 210.7 L1562.7 214.1 L1563.1 217.4 L1563.5 220.4 L1563.9 223.3 L1564.4 226.0 L1564.8 228.5 L1565.2 230.9 L1565.6 233.2 L1566.0 235.4 L1566.4 237.6 L1566.8 239.8 L1567.2 242.0 L1567.6 244.3 L1568.0 246.6 L1568.4 248.9 L1568.8 251.3 L1569.2 253.6 L1569.6 256.0 L1570.0 258.4 L1570.4 260.7 L1570.8 263.2 L1571.2 265.6 L1571.6 268.1 L1572.0 270.6 L1572.4 273.2 L1572.8 275.9 L1573.2 278.6 L1573.6 281.3 L1574.0 284.0 L1574.4 286.8 L1574.8 289.5 L1575.2 292.3 L1575.7 295.1 L1576.1 298.0 L1576.5 300.9 L1576.9 303.7 L1577.3 306.4 L1577.7 309.2 L1578.1 311.8 L1578.5 311.3 L1578.9 305.5 L1579.3 298.2 L1579.7 289.7 L1580.1 279.6 L1580.5 267.3 L1580.9 254.2 L1581.3 246.8 L1581.7 242.5 L1582.1 240.6 L1582.5 240.1 L1582.9 241.8 L1583.3 244.6 L1583.7 249.6 L1584.2 255.5 L1584.6 262.5 L1585.0 270.1 L1585.4 277.7 L1585.8 285.5 L1586.2 293.0 L1586.6 299.5 L1587.0 305.7 L1587.4 311.6 L1587.8 316.5 L1588.2 320.0 L1588.6 322.4 L1589.0 324.3 L1589.4 326.0 L1589.8 327.5 L1590.3 328.8 L1590.7 330.1 L1591.1 331.4 L1591.5 332.8 L1591.9 334.3 L1592.3 335.8 L1592.7 337.3 L1593.1 338.8 L1593.5 340.2 L1593.9 341.7 L1594.3 343.1 L1594.7 344.4 L1595.1 345.7 L1595.5 346.9 L1596.0 348.0 L1596.4 349.0 L1596.8 350.1 L1597.2 351.1 L1597.6 352.1 L1598.0 353.0 L1598.4 353.9 L1598.8 354.8 L1599.2 355.6 L1599.6 356.4 L1600.0 357.1 L1600.4 357.7 L1600.8 358.3 L1601.2 359.0 L1601.6 359.5 L1602.1 360.1 L1602.5 360.6 L1602.9 361.1 L1603.3 361.6 L1603.7 362.0 L1604.1 362.4 L1604.5 362.7 L1604.9 363.0 L1605.3 363.3 L1605.7 363.7 L1606.1 364.0 L1606.5 364.2 L1606.9 364.5 L1607.3 364.8 L1607.8 365.0 L1608.2 365.2 L1608.6 365.3 L1609.0 365.4 L1609.4 365.4 L1609.8 365.4 L1610.2 365.3 L1610.6 365.2 L1611.0 365.0 L1611.4 364.9 L1611.8 364.6 L1612.2 364.4 L1612.6 364.2 L1613.0 363.9 L1613.4 363.7 L1613.9 363.3 L1614.3 362.9 L1614.7 362.5 L1615.1 362.0 L1615.5 361.4 L1615.9 360.9 L1616.3 360.3 L1616.7 359.7 L1617.1 359.0 L1617.5 358.4 L1617.9 357.8 L1618.3 357.1 L1618.7 356.3 L1619.1 355.6 L1619.5 354.8 L1619.9 354.0 L1620.3 353.2 L1620.7 352.3 L1621.1 351.4 L1621.5 350.6 L1621.9 349.7 L1622.2 348.8 L1622.6 347.8 L1623.0 346.8 L1623.4 345.8 L1623.8 344.8 L1624.2 343.8 L1624.6 342.8 L1625.0 341.7 L1625.4 340.7 L1625.8 339.7 L1626.2 338.7 L1626.6 337.7 L1627.0 336.7 L1627.4 335.8 L1627.8 334.8 L1628.2 333.8 L1628.6 332.8 L1629.0 331.8 L1629.4 330.8 L1629.8 329.8 L1630.2 328.8 L1630.6 327.7 L1631.0 326.6 L1631.4 325.5 L1631.8 324.4 L1632.2 323.3 L1632.6 322.1 L1632.9 320.9 L1633.3 319.7 L1633.7 318.5 L1634.1 317.3 L1634.5 316.0 L1634.9 314.7 L1635.3 313.4 L1635.7 312.1 L1636.1 310.7 L1636.5 309.4 L1636.9 308.0 L1637.3 306.6 L1637.7 305.2 L1638.1 303.8 L1638.5 302.4 L1638.9 301.0 L1639.3 299.5 L1639.7 298.1 L1640.1 296.6 L1640.5 295.1 L1640.9 293.6 L1641.3 292.1 L1641.7 290.6 L1642.1 289.1 L1642.5 287.5 L1642.9 285.9 L1643.3 284.3 L1643.6 282.7 L1644.0 281.1 L1644.4 279.5 L1644.8 277.8 L1645.2 276.2 L1645.6 274.5 L1646.0 272.8 L1646.4 271.1 L1646.8 269.4 L1647.2 267.7 L1647.6 266.0 L1648.0 264.3 L1648.4 262.6 L1648.8 261.0 L1649.2 259.3 L1649.6 257.6 L1650.0 255.9 L1650.4 254.2 L1650.8 252.6 L1651.2 250.9 L1651.6 249.3 L1652.0 247.6 L1652.4 245.9 L1652.8 244.3 L1653.2 242.6 L1653.6 240.9 L1654.0 239.3 L1654.3 237.6 L1654.7 236.0 L1655.1 234.3 L1655.5 232.7 L1655.9 231.1 L1656.3 229.5 L1656.7 227.9 L1657.1 226.3 L1657.5 224.7 L1657.9 223.2 L1658.3 221.6 L1658.7 220.1 L1659.1 218.5 L1659.5 217.0 L1659.9 215.5 L1660.3 214.0 L1660.7 212.5 L1661.1 211.1 L1661.5 209.6 L1661.9 208.2 L1662.3 206.8 L1662.7 205.5 L1663.1 204.1 L1663.5 202.8 L1663.9 201.5 L1664.3 200.2 L1664.7 198.9 L1665.0 197.6 L1665.4 196.4 L1665.8 195.1 L1666.2 193.9 L1666.6 192.7 L1667.0 191.6 L1667.4 190.5 L1667.8 189.4 L1668.2 188.4 L1668.6 187.4 L1669.0 186.5 L1669.4 185.6 L1669.8 184.7 L1670.2 183.8 L1670.6 182.9 L1671.0 182.2 L1671.4 181.5 L1671.8 180.9 L1672.2 180.4 L1672.6 179.9 L1673.0 179.5 L1673.4 179.0 L1673.8 178.7 L1674.2 178.5 L1674.6 178.4 L1675.0 178.6 L1675.4 178.9 L1675.7 179.5 L1676.1 180.2 L1676.5 181.3 L1676.9 182.9 L1677.3 184.7 L1677.7 186.7 L1678.1 188.9 L1678.5 191.5 L1678.9 194.3 L1679.3 197.5 L1679.7 201.2 L1680.1 205.3 L1680.5 210.0 L1680.9 217.3 L1681.3 226.0 L1681.7 233.9 L1682.1 241.9 L1682.5 242.9 L1682.9 239.3 L1683.3 234.9 L1683.7 229.8 L1684.1 224.4 L1684.5 219.9 L1684.9 215.9 L1685.3 212.2 L1685.7 208.7 L1686.1 205.5 L1686.5 202.6 L1686.9 199.7 L1687.3 197.0 L1687.7 194.3 L1688.1 191.7 L1688.5 189.3 L1688.9 187.0 L1689.3 184.9 L1689.7 183.0 L1690.1 181.3 L1690.5 179.7 L1690.9 178.2 L1691.3 176.7 L1691.7 175.3 L1692.1 174.0 L1692.5 172.8 L1692.9 171.6 L1693.3 170.5 L1693.7 169.5 L1694.1 168.5 L1694.5 167.6 L1694.9 166.8 L1695.3 166.0 L1695.7 165.3 L1696.1 164.6 L1696.5 163.9 L1696.9 163.2 L1697.3 162.6 L1697.7 162.0 L1698.1 161.5 L1698.5 161.0 L1698.9 160.6 L1699.3 160.2 L1699.7 159.9 L1700.1 159.7 L1700.5 159.5 L1700.9 159.3 L1701.3 159.1 L1701.7 158.9 L1702.1 158.8 L1702.5 158.6 L1702.9 158.5 L1703.3 158.4 L1703.7 158.3 L1704.1 158.2 L1704.5 158.2 L1704.9 158.2 L1705.3 158.2 L1705.7 158.3 L1706.0 158.4 L1706.4 158.5 L1706.8 158.6 L1707.2 158.7 L1707.6 158.9 L1708.0 159.1 L1708.4 159.3 L1708.8 159.5 L1709.2 159.7 L1709.6 160.0 L1710.0 160.2 L1710.4 160.5 L1710.8 160.8 L1711.2 161.1 L1711.6 161.3 L1712.0 161.6 L1712.4 161.9 L1712.8 162.2 L1713.2 162.5 L1713.6 162.8 L1714.0 163.1 L1714.4 163.4 L1714.8 163.7 L1715.2 164.1 L1715.6 164.5 L1716.0 164.9 L1716.4 165.3 L1716.8 165.8 L1717.2 166.2 L1717.6 166.7 L1718.0 167.2 L1718.4 167.7 L1718.8 168.2 L1719.2 168.7 L1719.6 169.2 L1720.0 169.7 L1720.4 170.2 L1720.8 170.7 L1721.2 171.2 L1721.6 171.8 L1722.0 172.3 L1722.4 172.8 L1722.8 173.4 L1723.2 173.9 L1723.6 174.5 L1724.0 175.1 L1724.4 175.6 L1724.8 176.2 L1725.2 176.8 L1725.6 177.4 L1726.0 178.1 L1726.4 178.7 L1726.8 179.3 L1727.2 179.9 L1727.6 180.6 L1728.0 181.2 L1728.4 181.9 L1728.8 182.6 L1729.2 183.3 L1729.6 183.9 L1730.0 184.6 L1730.4 185.3 L1730.8 186.0 L1731.2 186.7 L1731.6 187.5 L1732.0 188.2 L1732.4 189.0 L1732.8 189.7 L1733.2 190.5 L1733.6 191.3 L1734.0 192.1 L1734.4 193.0 L1734.8 193.8 L1735.2 194.7 L1735.6 195.5 L1736.0 196.4 L1736.4 197.2 L1736.8 198.1 L1737.2 199.0 L1737.6 199.9 L1738.0 200.8 L1738.4 201.6 L1738.8 202.5 L1739.2 203.4 L1739.6 204.3 L1740.0 205.2 L1740.4 206.1 L1740.8 207.0 L1741.2 207.8 L1741.6 208.7 L1742.0 209.6 L1742.4 210.4 L1742.8 211.3 L1743.2 212.1 L1743.6 213.0 L1744.0 213.8 L1744.4 214.6 L1744.8 215.4 L1745.2 216.2 L1745.6 217.0 L1746.0 217.8 L1746.4 218.6 L1746.8 219.3 L1747.2 220.1 L1747.6 220.9 L1748.0 221.7 L1748.4 222.5 L1748.8 223.3 L1749.2 224.0 L1749.6 224.8 L1750.0 225.6 L1750.4 226.3 L1750.8 227.1 L1751.2 227.9 L1751.6 228.7 L1752.0 229.4 L1752.4 230.2 L1752.8 230.9 L1753.2 231.7 L1753.6 232.5 L1754.0 233.2 L1754.4 234.0 L1754.8 234.7 L1755.2 235.5 L1755.6 236.2 L1755.9 236.9 L1756.3 237.7 L1756.7 238.4 L1757.1 239.2 L1757.5 239.9 L1757.9 240.6 L1758.3 241.3 L1758.7 242.1 L1759.1 242.8 L1759.5 243.5 L1759.9 244.2 L1760.3 244.9 L1760.7 245.6 L1761.1 246.4 L1761.5 247.1 L1761.9 247.8 L1762.3 248.5 L1762.7 249.1 L1763.1 249.8 L1763.5 250.5 L1763.9 251.2 L1764.3 251.9 L1764.7 252.6 L1765.1 253.3 L1765.5 253.9 L1765.9 254.6 L1766.3 255.3 L1766.7 256.1 L1767.1 256.8 L1767.5 257.5 L1767.9 258.2 L1768.3 258.9 L1768.7 259.7 L1769.1 260.4 L1769.5 261.1 L1769.9 261.8 L1770.3 262.5 L1770.7 263.2 L1771.1 263.9 L1771.5 264.6 L1771.9 265.3 L1772.3 266.0 L1772.7 266.7 L1773.1 267.3 L1773.5 268.0 L1773.9 268.6 L1774.3 269.2 L1774.7 269.8 L1775.1 270.4 L1775.5 271.0 L1775.9 271.6 L1776.3 272.1 L1776.7 272.6 L1777.1 273.1 L1777.5 273.6 L1777.9 274.0 L1778.3 274.4 L1778.7 274.8 L1779.1 275.2 L1779.5 275.6 L1779.9 275.9 L1780.3 276.3 L1780.7 276.6 L1781.1 276.9 L1781.5 277.2 L1781.9 277.5 L1782.3 277.8 L1782.7 278.1 L1783.1 278.4 L1783.5 278.7 L1783.9 279.0 L1784.3 279.3 L1784.7 279.6 L1785.1 279.8 L1785.5 280.1 L1785.9 280.3 L1786.3 280.6 L1786.7 280.8 L1787.1 281.1 L1787.5 281.3 L1787.9 281.5 L1788.3 281.7 L1788.7 281.9 L1789.1 282.1 L1789.4 282.3 L1789.8 282.5 L1790.2 282.7 L1790.6 282.9 L1791.0 283.1 L1791.4 283.2 L1791.8 283.4 L1792.2 283.6 L1792.6 283.7 L1793.0 283.9 L1793.4 284.0 L1793.8 284.1 L1794.2 284.3 L1794.6 284.4 L1795.0 284.5 L1795.4 284.6 L1795.8 284.8 L1796.2 284.9 L1796.6 285.0 L1797.0 285.1 L1797.4 285.2 L1797.8 285.3 L1798.2 285.4 L1798.6 285.5 L1799.0 285.6 L1799.4 285.7 L1799.8 285.7 L1800.2 285.8 L1800.6 285.9 L1801.0 285.9 L1801.4 286.0 L1801.8 286.1 L1802.2 286.1 L1802.6 286.2 L1803.0 286.2 L1803.4 286.3 L1803.8 286.3 L1804.2 286.4 L1804.6 286.4 L1805.0 286.4 L1805.4 286.5 L1805.8 286.5 L1806.1 286.5 L1806.5 286.5 L1806.9 286.5 L1807.3 286.5 L1807.7 286.4 L1808.1 286.4 L1808.5 286.3 L1808.9 286.2 L1809.3 286.2 L1809.7 286.1 L1810.1 286.0 L1810.5 285.9 L1810.9 285.8 L1811.3 285.7 L1811.7 285.6 L1812.1 285.4 L1812.5 285.3 L1812.9 285.2 L1813.3 285.1 L1813.7 284.9 L1814.1 284.7 L1814.5 284.6 L1814.9 284.4 L1815.3 284.2 L1815.7 284.0 L1816.1 283.8 L1816.5 283.7 L1816.9 283.5 L1817.3 283.3 L1817.7 283.1 L1818.1 282.9 L1818.5 282.8 L1818.9 282.6 L1819.3 282.4 L1819.7 282.2 L1820.1 282.0 L1820.5 281.8 L1820.9 281.6 L1821.3 281.4 L1821.7 281.2 L1822.1 281.0 L1822.5 280.8 L1822.8 280.5 L1823.2 280.3 L1823.6 280.0 L1824.0 279.8 L1824.4 279.5 L1824.8 279.2 L1825.2 278.9 L1825.6 278.6 L1826.0 278.3 L1826.4 278.0 L1826.8 277.7 L1827.2 277.4 L1827.6 277.1 L1828.0 276.8 L1828.4 276.5 L1828.8 276.2 L1829.2 275.8 L1829.6 275.5 L1830.0 275.2 L1830.4 274.9 L1830.8 274.6 L1831.2 274.2 L1831.6 273.9 L1832.0 273.6 L1832.4 273.3 L1832.8 273.0 L1833.2 272.6 L1833.6 272.3 L1834.0 272.0 L1834.4 271.6 L1834.8 271.3 L1835.2 271.0 L1835.6 270.6 L1836.0 270.3 L1836.4 269.9 L1836.8 269.6 L1837.2 269.2 L1837.6 268.9 L1838.0 268.5 L1838.4 268.2 L1838.8 267.8 L1839.2 267.5 L1839.5 267.1 L1839.9 266.8 L1840.3 266.4 L1840.7 266.0 L1841.1 265.7 L1841.5 265.3 L1841.9 264.9 L1842.3 264.6 L1842.7 264.2 L1843.1 263.8 L1843.5 263.5 L1843.9 263.1 L1844.3 262.7 L1844.7 262.4 L1845.1 262.0 L1845.5 261.6 L1845.9 261.3 L1846.3 260.9 L1846.7 260.5 L1847.1 260.2 L1847.5 259.8 L1847.9 259.4 L1848.3 259.0 L1848.7 258.7 L1849.1 258.3 L1849.5 257.9 L1849.9 257.5 L1850.3 257.1 L1850.7 256.7 L1851.1 256.3 L1851.5 255.9 L1851.9 255.5 L1852.3 255.1 L1852.7 254.7 L1853.1 254.3 L1853.5 253.9 L1853.9 253.5 L1854.3 253.0 L1854.7 252.6 L1855.1 252.2 L1855.5 251.7 L1855.9 251.3 L1856.2 250.8 L1856.6 250.4 L1857.0 249.9 L1857.4 249.5 L1857.8 249.0 L1858.2 248.5 L1858.6 248.0 L1859.0 247.5 L1859.4 247.0 L1859.8 246.4 L1860.2 245.8 L1860.6 245.2 L1861.0 244.6 L1861.4 244.0 L1861.8 243.4 L1862.2 242.8 L1862.6 242.2 L1863.0 241.6 L1863.4 241.0 L1863.8 240.4 L1864.2 239.9 L1864.6 239.4 L1865.0 238.9 L1865.4 238.4 L1865.8 237.9 L1866.2 237.5 L1866.6 237.0 L1867.0 236.6 L1867.4 236.2 L1867.8 235.8 L1868.2 235.4 L1868.6 235.0 L1869.0 234.6 L1869.4 234.3 L1869.8 233.9 L1870.2 233.5 L1870.6 233.1 L1871.0 232.8 L1871.4 232.4 L1871.8 232.1 L1872.2 231.7 L1872.6 231.3 L1872.9 231.0 L1873.3 230.6 L1873.7 230.3 L1874.1 230.0 L1874.5 229.6 L1874.9 229.3 L1875.3 229.0 L1875.7 228.7 L1876.1 228.4 L1876.5 228.1 L1876.9 227.8 L1877.3 227.5 L1877.7 227.2 L1878.1 227.0 L1878.5 226.7 L1878.9 226.4 L1879.3 226.1 L1879.7 225.9 L1880.1 225.7 L1880.5 225.5 L1880.9 225.4 L1881.3 225.3 L1881.7 225.2 L1882.1 225.1 L1882.5 225.0 L1882.9 225.0 L1883.3 224.9 L1883.7 224.9 L1884.1 224.8 L1884.5 224.8 L1884.9 224.8 L1885.3 224.9 L1885.7 225.3 L1886.1 225.7 L1886.5 226.2 L1886.9 226.9 L1887.3 227.5 L1887.7 228.2 L1888.1 228.8 L1888.5 229.4 L1888.9 230.0 L1889.3 230.5 L1889.7 231.1 L1890.1 231.7 L1890.5 232.3 L1890.9 232.7 L1891.3 233.1 L1891.7 233.4 L1892.1 233.6 L1892.5 233.4 L1892.9 232.9 L1893.3 232.4 L1893.7 231.8 L1894.1 231.1 L1894.5 230.4 L1894.9 229.6 L1895.3 228.8 L1895.7 228.1 L1896.1 227.4 L1896.5 226.8 L1896.9 226.2 L1897.3 225.7 L1897.7 225.1 L1898.1 224.5 L1898.5 224.0 L1898.9 223.4 L1899.3 222.9 L1899.7 222.4 L1900.1 221.9 L1900.5 221.5 L1900.9 221.1 L1901.3 220.7 L1901.7 220.4 L1902.1 220.1 L1902.5 219.8 L1902.9 219.6 L1903.3 219.4 L1903.7 219.2 L1904.1 219.0 L1904.5 218.8 L1904.9 218.6 L1905.3 218.5 L1905.7 218.3 L1906.1 218.1 L1906.5 218.0 L1906.9 217.8 L1907.3 217.7 L1907.7 217.6 L1908.1 217.4 L1908.5 217.3 L1908.9 217.3 L1909.3 217.2 L1909.7 217.1 L1910.1 217.1 L1910.5 217.0 L1910.9 217.0 L1911.3 217.0 L1911.7 217.0 L1912.1 217.1 L1912.5 217.1 L1912.9 217.2 L1913.3 217.3 L1913.7 217.4 L1914.1 217.5 L1914.5 217.7 L1914.9 217.8 L1915.3 218.0 L1915.7 218.2 L1916.1 218.4 L1916.5 218.6 L1916.9 218.8 L1917.3 219.0 L1917.7 219.4 L1918.1 219.8 L1918.5 220.4 L1918.9 221.0 L1919.3 221.6 L1919.7 222.2 L1920.1 222.9 L1920.5 223.5 L1920.9 224.2 L1921.3 224.8 L1921.7 224.5 L1922.1 223.7 L1922.5 222.8 L1922.9 222.0 L1923.3 221.2 L1923.7 220.3 L1924.1 219.6 L1924.5 219.0 L1924.9 218.6 L1925.3 218.3 L1925.7 218.1 L1926.1 217.9 L1926.5 217.7 L1926.9 217.5 L1927.3 217.3 L1927.7 217.1 L1928.1 216.9 L1928.5 216.8 L1928.9 216.7 L1929.3 216.6 L1929.7 216.5 L1930.1 216.4 L1930.5 216.3 L1930.9 216.3 L1931.4 216.3 L1931.8 216.3 L1932.2 216.3 L1932.6 216.3 L1933.0 216.4 L1933.4 216.4 L1933.8 216.4 L1934.2 216.5 L1934.6 216.6 L1935.0 216.6 L1935.4 216.7 L1935.8 216.8 L1936.2 216.9 L1936.6 216.9 L1937.0 217.0 L1937.4 217.1 L1937.8 217.2 L1938.2 217.3 L1938.6 217.4 L1939.0 217.5 L1939.4 217.6 L1939.8 217.7 L1940.2 217.8 L1940.6 217.9 L1941.0 218.0 L1941.4 218.1 L1941.8 218.2 L1942.2 218.4 L1942.6 218.5 L1943.0 218.6 L1943.4 218.8 L1943.8 218.9 L1944.2 219.1 L1944.6 219.3 L1945.0 219.4 L1945.4 219.6 L1945.8 219.8 L1946.2 219.9 L1946.6 220.1 L1947.0 220.3 L1947.4 220.4 L1947.8 220.6 L1948.2 220.8 L1948.6 220.9 L1949.0 221.1 L1949.4 221.2 L1949.8 221.4 L1950.2 221.5 L1950.6 221.7 L1951.0 221.9 L1951.4 222.0 L1951.8 222.2 L1952.2 222.3 L1952.6 222.5 L1953.0 222.7 L1953.4 222.8 L1953.8 223.0 L1954.2 223.2 L1954.6 223.3 L1955.0 223.5 L1955.4 223.7 L1955.8 223.8 L1956.2 224.0 L1956.6 224.2 L1957.0 224.4 L1957.4 224.5 L1957.8 224.7 L1958.2 224.9 L1958.6 225.1 L1959.0 225.3 L1959.4 225.5 L1959.8 225.7 L1960.2 225.9 L1960.6 226.1 L1961.0 226.3 L1961.4 226.5 L1961.8 226.7 L1962.2 226.9 L1962.6 227.1 L1963.0 227.3 L1963.4 227.5 L1963.8 227.7 L1964.2 227.9 L1964.6 228.1 L1965.0 228.3 L1965.4 228.5 L1965.8 228.7 L1966.2 228.8 L1966.6 229.0 L1967.0 229.2 L1967.4 229.4 L1967.8 229.6 L1968.2 229.7 L1968.6 229.9 L1969.0 230.1 L1969.4 230.2 L1969.8 230.4 L1970.2 230.6 L1970.6 230.8 L1971.0 230.9 L1971.4 231.1 L1971.8 231.3 L1972.2 231.4 L1972.6 231.6 L1973.0 231.8 L1973.4 231.9 L1973.8 232.1 L1974.2 232.3 L1974.6 232.4 L1975.0 232.6 L1975.4 232.7 L1975.8 232.9 L1976.2 233.0 L1976.6 233.2 L1977.0 233.4 L1977.4 233.5 L1977.8 233.7 L1978.2 233.8 L1978.6 234.0 L1979.0 234.1 L1979.4 234.3 L1979.8 234.4 L1980.2 234.6 L1980.6 234.7 L1981.0 234.8 L1981.4 235.0 L1981.8 235.1" fill="none" stroke="#0ad2fa" stroke-width="2.3" stroke-linejoin="round" />
<path d="M1478.8 68.3 L1479.2 66.9 L1479.6 65.6 L1480.0 64.2 L1480.4 62.9 L1480.8 61.6 L1481.2 60.4 L1481.6 59.1 L1482.0 57.9 L1482.4 56.7 L1482.8 55.5 L1483.2 54.3 L1483.6 53.0 L1484.0 51.8 L1484.4 50.5 L1484.9 49.4 L1485.3 48.3 L1485.7 47.4 L1486.1 46.6 L1486.5 46.0 L1486.9 45.4 L1487.3 44.9 L1487.7 44.3 L1488.1 43.9 L1488.5 43.4 L1488.9 43.1 L1489.3 42.8 L1489.7 42.7 L1490.1 42.6 L1490.5 42.8 L1490.9 43.2 L1491.3 44.0 L1491.7 44.9 L1492.1 46.0 L1492.5 47.1 L1492.9 48.5 L1493.3 50.5 L1493.7 52.9 L1494.1 55.7 L1494.5 58.6 L1494.9 61.6 L1495.3 65.1 L1495.7 70.0 L1496.2 79.4 L1496.6 92.7 L1497.0 104.7 L1497.4 115.3 L1497.8 125.5 L1498.2 136.8 L1498.6 148.9 L1499.0 154.5 L1499.4 148.6 L1499.8 136.5 L1500.2 125.8 L1500.6 117.4 L1501.0 109.1 L1501.4 99.2 L1501.8 86.1 L1502.2 77.3 L1502.6 71.1 L1503.0 66.1 L1503.4 62.0 L1503.8 58.3 L1504.2 54.9 L1504.6 52.1 L1505.0 49.8 L1505.4 48.3 L1505.8 46.8 L1506.2 45.6 L1506.6 44.5 L1507.0 43.6 L1507.5 43.1 L1507.9 43.0 L1508.3 43.3 L1508.7 43.9 L1509.1 44.7 L1509.5 45.7 L1509.9 46.8 L1510.3 48.0 L1510.7 49.6 L1511.1 51.7 L1511.5 54.1 L1511.9 56.7 L1512.3 59.3 L1512.7 61.9 L1513.1 64.7 L1513.5 67.7 L1513.9 71.0 L1514.3 74.8 L1514.7 79.1 L1515.1 83.7 L1515.5 88.6 L1515.9 93.5 L1516.3 98.4 L1516.7 103.5 L1517.1 108.7 L1517.5 113.8 L1517.9 119.3 L1518.3 124.8 L1518.8 126.4 L1519.2 123.4 L1519.6 118.5 L1520.0 114.0 L1520.4 109.7 L1520.8 105.3 L1521.2 100.9 L1521.6 96.2 L1522.0 91.5 L1522.4 87.7 L1522.8 85.0 L1523.2 82.6 L1523.6 80.8 L1524.0 80.5 L1524.4 81.7 L1524.8 84.1 L1525.2 87.0 L1525.6 90.9 L1526.0 96.2 L1526.4 102.0 L1526.8 108.6 L1527.2 116.0 L1527.6 123.3 L1528.0 130.9 L1528.4 138.6 L1528.8 140.7 L1529.2 135.3 L1529.6 126.9 L1530.0 119.2 L1530.5 110.7 L1530.9 102.0 L1531.3 92.1 L1531.7 82.8 L1532.1 77.7 L1532.5 74.5 L1532.9 72.1 L1533.3 69.9 L1533.7 67.6 L1534.1 65.4 L1534.5 63.6 L1534.9 62.2 L1535.3 61.5 L1535.7 61.7 L1536.1 62.4 L1536.5 63.5 L1536.9 64.8 L1537.3 66.3 L1537.7 67.8 L1538.1 69.2 L1538.5 70.6 L1538.9 72.1 L1539.3 73.8 L1539.7 75.5 L1540.1 77.5 L1540.5 79.6 L1540.9 82.1 L1541.3 85.0 L1541.8 88.2 L1542.2 91.4 L1542.6 94.5 L1543.0 97.2 L1543.4 99.6 L1543.8 102.0 L1544.2 104.2 L1544.6 106.3 L1545.0 108.4 L1545.4 110.4 L1545.8 112.4 L1546.2 114.5 L1546.6 116.5 L1547.0 118.5 L1547.4 120.6 L1547.8 122.8 L1548.2 125.0 L1548.6 127.3 L1549.0 129.5 L1549.4 131.8 L1549.8 134.0 L1550.2 136.3 L1550.6 138.6 L1551.0 140.9 L1551.4 143.3 L1551.8 145.6 L1552.2 147.9 L1552.6 150.3 L1553.1 152.6 L1553.5 155.0 L1553.9 157.3 L1554.3 159.7 L1554.7 162.1 L1555.1 164.4 L1555.5 166.8 L1555.9 169.2 L1556.3 171.6 L1556.7 174.0 L1557.1 176.5 L1557.5 178.9 L1557.9 181.3 L1558.3 183.8 L1558.7 186.3 L1559.1 188.8 L1559.5 191.3 L1559.9 193.8 L1560.3 196.4 L1560.7 199.1 L1561.1 201.7 L1561.5 204.4 L1561.9 207.1 L1562.3 209.8 L1562.7 212.4 L1563.1 215.0 L1563.5 217.6 L1563.9 220.1 L1564.4 222.6 L1564.8 224.9 L1565.2 227.2 L1565.6 229.4 L1566.0 231.5 L1566.4 233.6 L1566.8 235.6 L1567.2 237.7 L1567.6 239.7 L1568.0 241.7 L1568.4 243.8 L1568.8 246.0 L1569.2 248.2 L1569.6 250.4 L1570.0 252.7 L1570.4 255.0 L1570.8 257.3 L1571.2 259.6 L1571.6 261.9 L1572.0 264.3 L1572.4 266.6 L1572.8 268.9 L1573.2 271.2 L1573.6 273.5 L1574.0 275.7 L1574.4 277.9 L1574.8 280.2 L1575.2 282.5 L1575.7 284.9 L1576.1 287.4 L1576.5 290.0 L1576.9 293.0 L1577.3 296.0 L1577.7 298.8 L1578.1 301.8 L1578.5 304.2 L1578.9 301.9 L1579.3 294.8 L1579.7 287.1 L1580.1 277.6 L1580.5 265.3 L1580.9 252.2 L1581.3 244.9 L1581.7 240.5 L1582.1 238.4 L1582.5 238.3 L1582.9 240.4 L1583.3 243.5 L1583.7 248.4 L1584.2 253.8 L1584.6 260.0 L1585.0 266.5 L1585.4 272.5 L1585.8 278.6 L1586.2 284.4 L1586.6 289.8 L1587.0 294.6 L1587.4 299.1 L1587.8 303.2 L1588.2 307.1 L1588.6 310.7 L1589.0 314.3 L1589.4 317.4 L1589.8 320.0 L1590.3 322.0 L1590.7 323.8 L1591.1 325.4 L1591.5 326.9 L1591.9 328.3 L1592.3 329.6 L1592.7 331.1 L1593.1 332.5 L1593.5 333.8 L1593.9 335.2 L1594.3 336.5 L1594.7 337.8 L1595.1 339.1 L1595.5 340.4 L1596.0 341.6 L1596.4 342.8 L1596.8 343.9 L1597.2 345.1 L1597.6 346.2 L1598.0 347.3 L1598.4 348.4 L1598.8 349.5 L1599.2 350.5 L1599.6 351.5 L1600.0 352.5 L1600.4 353.4 L1600.8 354.3 L1601.2 355.2 L1601.6 356.0 L1602.1 356.8 L1602.5 357.6 L1602.9 358.3 L1603.3 359.1 L1603.7 359.8 L1604.1 360.4 L1604.5 361.1 L1604.9 361.7 L1605.3 362.3 L1605.7 362.8 L1606.1 363.4 L1606.5 363.9 L1606.9 364.4 L1607.3 365.0 L1607.8 365.4 L1608.2 365.9 L1608.6 366.3 L1609.0 366.7 L1609.4 367.1 L1609.8 367.4 L1610.2 367.6 L1610.6 367.9 L1611.0 368.1 L1611.4 368.4 L1611.8 368.6 L1612.2 368.8 L1612.6 368.9 L1613.0 369.1 L1613.4 369.2 L1613.9 369.3 L1614.3 369.3 L1614.7 369.3 L1615.1 369.2 L1615.5 369.2 L1615.9 369.1 L1616.3 368.9 L1616.7 368.8 L1617.1 368.6 L1617.5 368.5 L1617.9 368.3 L1618.3 368.1 L1618.7 368.0 L1619.1 367.7 L1619.5 367.5 L1619.9 367.2 L1620.3 366.9 L1620.7 366.6 L1621.1 366.2 L1621.5 365.8 L1621.9 365.4 L1622.2 365.0 L1622.6 364.5 L1623.0 364.1 L1623.4 363.6 L1623.8 363.0 L1624.2 362.4 L1624.6 361.8 L1625.0 361.1 L1625.4 360.4 L1625.8 359.7 L1626.2 359.0 L1626.6 358.3 L1627.0 357.6 L1627.4 356.9 L1627.8 356.1 L1628.2 355.3 L1628.6 354.6 L1629.0 353.7 L1629.4 352.9 L1629.8 352.1 L1630.2 351.2 L1630.6 350.4 L1631.0 349.5 L1631.4 348.6 L1631.8 347.7 L1632.2 346.7 L1632.6 345.7 L1632.9 344.8 L1633.3 343.8 L1633.7 342.8 L1634.1 341.7 L1634.5 340.7 L1634.9 339.7 L1635.3 338.6 L1635.7 337.6 L1636.1 336.5 L1636.5 335.5 L1636.9 334.4 L1637.3 333.4 L1637.7 332.3 L1638.1 331.2 L1638.5 330.1 L1638.9 329.0 L1639.3 327.8 L1639.7 326.7 L1640.1 325.5 L1640.5 324.4 L1640.9 323.2 L1641.3 321.9 L1641.7 320.7 L1642.1 319.3 L1642.5 317.9 L1642.9 316.5 L1643.3 315.0 L1643.6 313.4 L1644.0 311.9 L1644.4 310.2 L1644.8 308.6 L1645.2 306.9 L1645.6 305.2 L1646.0 303.5 L1646.4 301.6 L1646.8 299.8 L1647.2 297.9 L1647.6 296.0 L1648.0 294.0 L1648.4 292.0 L1648.8 290.0 L1649.2 288.0 L1649.6 285.9 L1650.0 283.9 L1650.4 281.8 L1650.8 279.8 L1651.2 277.7 L1651.6 275.7 L1652.0 273.7 L1652.4 271.7 L1652.8 269.7 L1653.2 267.8 L1653.6 265.9 L1654.0 264.1 L1654.3 262.3 L1654.7 260.5 L1655.1 258.8 L1655.5 257.1 L1655.9 255.4 L1656.3 253.8 L1656.7 252.1 L1657.1 250.5 L1657.5 248.9 L1657.9 247.4 L1658.3 245.8 L1658.7 244.3 L1659.1 242.7 L1659.5 241.2 L1659.9 239.6 L1660.3 238.1 L1660.7 236.5 L1661.1 235.0 L1661.5 233.4 L1661.9 231.8 L1662.3 230.2 L1662.7 228.6 L1663.1 227.0 L1663.5 225.3 L1663.9 223.7 L1664.3 222.1 L1664.7 220.4 L1665.0 218.8 L1665.4 217.2 L1665.8 215.6 L1666.2 214.0 L1666.6 212.5 L1667.0 210.9 L1667.4 209.4 L1667.8 208.0 L1668.2 206.5 L1668.6 205.0 L1669.0 203.6 L1669.4 202.1 L1669.8 200.7 L1670.2 199.3 L1670.6 198.0 L1671.0 196.8 L1671.4 195.6 L1671.8 194.4 L1672.2 193.3 L1672.6 192.2 L1673.0 191.2 L1673.4 190.5 L1673.8 190.0 L1674.2 189.5 L1674.6 189.2 L1675.0 189.1 L1675.4 189.6 L1675.7 190.9 L1676.1 192.4 L1676.5 195.0 L1676.9 198.3 L1677.3 201.7 L1677.7 205.3 L1678.1 209.1 L1678.5 213.1 L1678.9 217.1 L1679.3 221.3 L1679.7 225.3 L1680.1 229.3 L1680.5 233.5 L1680.9 237.7 L1681.3 241.3 L1681.7 244.2 L1682.1 246.5 L1682.5 246.5 L1682.9 244.2 L1683.3 241.3 L1683.7 237.8 L1684.1 234.0 L1684.5 230.5 L1684.9 227.0 L1685.3 223.5 L1685.7 220.0 L1686.1 216.7 L1686.5 213.6 L1686.9 210.7 L1687.3 208.1 L1687.7 205.7 L1688.1 203.3 L1688.5 201.1 L1688.9 199.0 L1689.3 197.0 L1689.7 195.1 L1690.1 193.3 L1690.5 191.5 L1690.9 189.9 L1691.3 188.3 L1691.7 186.8 L1692.1 185.3 L1692.5 183.9 L1692.9 182.5 L1693.3 181.2 L1693.7 179.9 L1694.1 178.6 L1694.5 177.5 L1694.9 176.3 L1695.3 175.2 L1695.7 174.2 L1696.1 173.3 L1696.5 172.3 L1696.9 171.4 L1697.3 170.6 L1697.7 169.7 L1698.1 168.9 L1698.5 168.1 L1698.9 167.3 L1699.3 166.6 L1699.7 165.9 L1700.1 165.2 L1700.5 164.6 L1700.9 163.9 L1701.3 163.3 L1701.7 162.8 L1702.1 162.2 L1702.5 161.7 L1702.9 161.2 L1703.3 160.7 L1703.7 160.2 L1704.1 159.7 L1704.5 159.3 L1704.9 158.9 L1705.3 158.6 L1705.7 158.4 L1706.0 158.2 L1706.4 158.0 L1706.8 157.8 L1707.2 157.6 L1707.6 157.4 L1708.0 157.3 L1708.4 157.1 L1708.8 157.0 L1709.2 156.9 L1709.6 156.7 L1710.0 156.6 L1710.4 156.5 L1710.8 156.5 L1711.2 156.4 L1711.6 156.3 L1712.0 156.3 L1712.4 156.3 L1712.8 156.3 L1713.2 156.3 L1713.6 156.4 L1714.0 156.5 L1714.4 156.6 L1714.8 156.8 L1715.2 156.9 L1715.6 157.1 L1716.0 157.3 L1716.4 157.5 L1716.8 157.7 L1717.2 158.0 L1717.6 158.2 L1718.0 158.5 L1718.4 158.7 L1718.8 158.9 L1719.2 159.2 L1719.6 159.5 L1720.0 159.8 L1720.4 160.1 L1720.8 160.5 L1721.2 160.9 L1721.6 161.3 L1722.0 161.8 L1722.4 162.2 L1722.8 162.7 L1723.2 163.2 L1723.6 163.6 L1724.0 164.1 L1724.4 164.6 L1724.8 165.1 L1725.2 165.6 L1725.6 166.1 L1726.0 166.6 L1726.4 167.1 L1726.8 167.6 L1727.2 168.1 L1727.6 168.6 L1728.0 169.2 L1728.4 169.7 L1728.8 170.3 L1729.2 170.9 L1729.6 171.5 L1730.0 172.1 L1730.4 172.7 L1730.8 173.3 L1731.2 174.0 L1731.6 174.7 L1732.0 175.4 L1732.4 176.1 L1732.8 176.8 L1733.2 177.5 L1733.6 178.3 L1734.0 179.1 L1734.4 179.8 L1734.8 180.6 L1735.2 181.4 L1735.6 182.3 L1736.0 183.1 L1736.4 183.9 L1736.8 184.8 L1737.2 185.7 L1737.6 186.5 L1738.0 187.4 L1738.4 188.3 L1738.8 189.2 L1739.2 190.1 L1739.6 191.0 L1740.0 191.9 L1740.4 192.8 L1740.8 193.7 L1741.2 194.7 L1741.6 195.6 L1742.0 196.5 L1742.4 197.4 L1742.8 198.4 L1743.2 199.3 L1743.6 200.2 L1744.0 201.2 L1744.4 202.1 L1744.8 203.0 L1745.2 203.9 L1745.6 204.8 L1746.0 205.7 L1746.4 206.6 L1746.8 207.5 L1747.2 208.4 L1747.6 209.3 L1748.0 210.2 L1748.4 211.0 L1748.8 211.9 L1749.2 212.7 L1749.6 213.6 L1750.0 214.4 L1750.4 215.2 L1750.8 216.0 L1751.2 216.8 L1751.6 217.6 L1752.0 218.4 L1752.4 219.2 L1752.8 219.9 L1753.2 220.7 L1753.6 221.5 L1754.0 222.2 L1754.4 223.0 L1754.8 223.8 L1755.2 224.5 L1755.6 225.3 L1755.9 226.0 L1756.3 226.8 L1756.7 227.5 L1757.1 228.2 L1757.5 229.0 L1757.9 229.7 L1758.3 230.5 L1758.7 231.2 L1759.1 231.9 L1759.5 232.7 L1759.9 233.4 L1760.3 234.1 L1760.7 234.8 L1761.1 235.6 L1761.5 236.3 L1761.9 237.0 L1762.3 237.8 L1762.7 238.5 L1763.1 239.2 L1763.5 239.9 L1763.9 240.7 L1764.3 241.4 L1764.7 242.1 L1765.1 242.9 L1765.5 243.6 L1765.9 244.3 L1766.3 245.1 L1766.7 245.8 L1767.1 246.6 L1767.5 247.3 L1767.9 248.1 L1768.3 248.8 L1768.7 249.6 L1769.1 250.3 L1769.5 251.1 L1769.9 251.8 L1770.3 252.6 L1770.7 253.4 L1771.1 254.2 L1771.5 254.9 L1771.9 255.7 L1772.3 256.5 L1772.7 257.3 L1773.1 258.1 L1773.5 258.9 L1773.9 259.7 L1774.3 260.6 L1774.7 261.4 L1775.1 262.3 L1775.5 263.2 L1775.9 264.1 L1776.3 265.0 L1776.7 265.9 L1777.1 266.8 L1777.5 267.7 L1777.9 268.6 L1778.3 269.5 L1778.7 270.5 L1779.1 271.4 L1779.5 272.3 L1779.9 273.2 L1780.3 274.1 L1780.7 275.0 L1781.1 275.9 L1781.5 276.7 L1781.9 277.6 L1782.3 278.4 L1782.7 279.3 L1783.1 280.1 L1783.5 280.9 L1783.9 281.6 L1784.3 282.4 L1784.7 283.1 L1785.1 283.8 L1785.5 284.5 L1785.9 285.2 L1786.3 285.8 L1786.7 286.4 L1787.1 287.1 L1787.5 287.7 L1787.9 288.3 L1788.3 289.0 L1788.7 289.6 L1789.1 290.2 L1789.4 290.8 L1789.8 291.4 L1790.2 292.0 L1790.6 292.6 L1791.0 293.1 L1791.4 293.7 L1791.8 294.3 L1792.2 294.8 L1792.6 295.3 L1793.0 295.9 L1793.4 296.4 L1793.8 296.9 L1794.2 297.4 L1794.6 297.9 L1795.0 298.4 L1795.4 298.8 L1795.8 299.3 L1796.2 299.7 L1796.6 300.1 L1797.0 300.6 L1797.4 301.0 L1797.8 301.3 L1798.2 301.7 L1798.6 302.1 L1799.0 302.4 L1799.4 302.7 L1799.8 303.1 L1800.2 303.4 L1800.6 303.7 L1801.0 304.0 L1801.4 304.3 L1801.8 304.7 L1802.2 304.9 L1802.6 305.2 L1803.0 305.5 L1803.4 305.8 L1803.8 306.0 L1804.2 306.2 L1804.6 306.5 L1805.0 306.7 L1805.4 306.8 L1805.8 307.0 L1806.1 307.2 L1806.5 307.3 L1806.9 307.4 L1807.3 307.5 L1807.7 307.6 L1808.1 307.7 L1808.5 307.8 L1808.9 307.9 L1809.3 307.9 L1809.7 308.0 L1810.1 308.1 L1810.5 308.1 L1810.9 308.2 L1811.3 308.2 L1811.7 308.2 L1812.1 308.2 L1812.5 308.2 L1812.9 308.2 L1813.3 308.1 L1813.7 308.1 L1814.1 308.1 L1814.5 308.0 L1814.9 307.9 L1815.3 307.9 L1815.7 307.8 L1816.1 307.7 L1816.5 307.7 L1816.9 307.6 L1817.3 307.5 L1817.7 307.4 L1818.1 307.3 L1818.5 307.2 L1818.9 307.0 L1819.3 306.9 L1819.7 306.7 L1820.1 306.5 L1820.5 306.3 L1820.9 306.1 L1821.3 305.9 L1821.7 305.7 L1822.1 305.5 L1822.5 305.3 L1822.8 305.0 L1823.2 304.8 L1823.6 304.5 L1824.0 304.3 L1824.4 304.0 L1824.8 303.7 L1825.2 303.4 L1825.6 303.1 L1826.0 302.8 L1826.4 302.5 L1826.8 302.1 L1827.2 301.8 L1827.6 301.5 L1828.0 301.1 L1828.4 300.7 L1828.8 300.4 L1829.2 300.0 L1829.6 299.6 L1830.0 299.3 L1830.4 298.9 L1830.8 298.5 L1831.2 298.1 L1831.6 297.7 L1832.0 297.3 L1832.4 296.9 L1832.8 296.5 L1833.2 296.1 L1833.6 295.7 L1834.0 295.2 L1834.4 294.8 L1834.8 294.3 L1835.2 293.9 L1835.6 293.4 L1836.0 292.9 L1836.4 292.5 L1836.8 292.0 L1837.2 291.5 L1837.6 291.0 L1838.0 290.5 L1838.4 290.0 L1838.8 289.5 L1839.2 289.0 L1839.5 288.5 L1839.9 288.0 L1840.3 287.5 L1840.7 287.0 L1841.1 286.5 L1841.5 286.0 L1841.9 285.4 L1842.3 284.9 L1842.7 284.4 L1843.1 283.8 L1843.5 283.3 L1843.9 282.8 L1844.3 282.2 L1844.7 281.7 L1845.1 281.1 L1845.5 280.6 L1845.9 280.1 L1846.3 279.5 L1846.7 279.0 L1847.1 278.4 L1847.5 277.9 L1847.9 277.3 L1848.3 276.8 L1848.7 276.3 L1849.1 275.7 L1849.5 275.2 L1849.9 274.6 L1850.3 274.1 L1850.7 273.5 L1851.1 273.0 L1851.5 272.4 L1851.9 271.9 L1852.3 271.3 L1852.7 270.8 L1853.1 270.2 L1853.5 269.6 L1853.9 269.1 L1854.3 268.5 L1854.7 267.9 L1855.1 267.3 L1855.5 266.8 L1855.9 266.2 L1856.2 265.6 L1856.6 265.0 L1857.0 264.4 L1857.4 263.8 L1857.8 263.1 L1858.2 262.5 L1858.6 261.9 L1859.0 261.3 L1859.4 260.6 L1859.8 260.0 L1860.2 259.3 L1860.6 258.7 L1861.0 258.0 L1861.4 257.3 L1861.8 256.6 L1862.2 256.0 L1862.6 255.3 L1863.0 254.5 L1863.4 253.8 L1863.8 253.1 L1864.2 252.4 L1864.6 251.6 L1865.0 250.9 L1865.4 250.1 L1865.8 249.3 L1866.2 248.4 L1866.6 247.5 L1867.0 246.6 L1867.4 245.7 L1867.8 244.7 L1868.2 243.7 L1868.6 242.7 L1869.0 241.7 L1869.4 240.7 L1869.8 239.7 L1870.2 238.8 L1870.6 237.9 L1871.0 237.0 L1871.4 236.2 L1871.8 235.4 L1872.2 234.5 L1872.6 233.7 L1872.9 232.9 L1873.3 232.1 L1873.7 231.3 L1874.1 230.6 L1874.5 229.8 L1874.9 229.1 L1875.3 228.4 L1875.7 227.7 L1876.1 227.0 L1876.5 226.4 L1876.9 225.8 L1877.3 225.2 L1877.7 224.7 L1878.1 224.1 L1878.5 223.6 L1878.9 223.0 L1879.3 222.5 L1879.7 222.0 L1880.1 221.5 L1880.5 221.1 L1880.9 220.6 L1881.3 220.2 L1881.7 219.8 L1882.1 219.5 L1882.5 219.1 L1882.9 218.8 L1883.3 218.5 L1883.7 218.2 L1884.1 217.9 L1884.5 217.7 L1884.9 217.4 L1885.3 217.2 L1885.7 217.1 L1886.1 217.0 L1886.5 217.1 L1886.9 217.6 L1887.3 218.6 L1887.7 219.9 L1888.1 221.3 L1888.5 222.8 L1888.9 224.2 L1889.3 225.4 L1889.7 226.8 L1890.1 228.2 L1890.5 229.6 L1890.9 230.8 L1891.3 231.7 L1891.7 232.5 L1892.1 233.0 L1892.5 232.7 L1892.9 231.8 L1893.3 230.7 L1893.7 229.5 L1894.1 228.0 L1894.5 226.4 L1894.9 224.8 L1895.3 223.5 L1895.7 222.4 L1896.1 221.4 L1896.5 220.4 L1896.9 219.5 L1897.3 218.7 L1897.7 217.8 L1898.1 217.0 L1898.5 216.3 L1898.9 215.6 L1899.3 214.9 L1899.7 214.2 L1900.1 213.6 L1900.5 212.9 L1900.9 212.3 L1901.3 211.7 L1901.7 211.1 L1902.1 210.5 L1902.5 209.9 L1902.9 209.3 L1903.3 208.8 L1903.7 208.2 L1904.1 207.7 L1904.5 207.2 L1904.9 206.7 L1905.3 206.2 L1905.7 205.7 L1906.1 205.3 L1906.5 204.9 L1906.9 204.5 L1907.3 204.1 L1907.7 203.8 L1908.1 203.4 L1908.5 203.2 L1908.9 202.9 L1909.3 202.6 L1909.7 202.3 L1910.1 202.0 L1910.5 201.7 L1910.9 201.4 L1911.3 201.2 L1911.7 200.9 L1912.1 200.7 L1912.5 200.5 L1912.9 200.3 L1913.3 200.2 L1913.7 200.0 L1914.1 199.9 L1914.5 199.8 L1914.9 199.8 L1915.3 199.8 L1915.7 200.0 L1916.1 200.3 L1916.5 200.7 L1916.9 201.3 L1917.3 201.9 L1917.7 202.6 L1918.1 203.4 L1918.5 204.2 L1918.9 205.0 L1919.3 206.0 L1919.7 207.4 L1920.1 209.0 L1920.5 210.5 L1920.9 211.8 L1921.3 213.1 L1921.7 213.4 L1922.1 211.9 L1922.5 210.1 L1922.9 208.0 L1923.3 205.8 L1923.7 203.9 L1924.1 202.8 L1924.5 201.9 L1924.9 201.1 L1925.3 200.4 L1925.7 199.7 L1926.1 199.2 L1926.5 198.7 L1926.9 198.2 L1927.3 197.8 L1927.7 197.5 L1928.1 197.2 L1928.5 196.9 L1928.9 196.6 L1929.3 196.4 L1929.7 196.1 L1930.1 195.9 L1930.5 195.7 L1930.9 195.5 L1931.4 195.3 L1931.8 195.1 L1932.2 195.0 L1932.6 194.8 L1933.0 194.7 L1933.4 194.6 L1933.8 194.5 L1934.2 194.4 L1934.6 194.3 L1935.0 194.2 L1935.4 194.1 L1935.8 194.1 L1936.2 194.0 L1936.6 193.9 L1937.0 193.9 L1937.4 193.8 L1937.8 193.8 L1938.2 193.7 L1938.6 193.7 L1939.0 193.7 L1939.4 193.7 L1939.8 193.7 L1940.2 193.8 L1940.6 193.8 L1941.0 193.9 L1941.4 194.0 L1941.8 194.1 L1942.2 194.2 L1942.6 194.3 L1943.0 194.4 L1943.4 194.6 L1943.8 194.7 L1944.2 194.9 L1944.6 195.0 L1945.0 195.2 L1945.4 195.3 L1945.8 195.5 L1946.2 195.7 L1946.6 195.8 L1947.0 196.0 L1947.4 196.2 L1947.8 196.3 L1948.2 196.5 L1948.6 196.6 L1949.0 196.8 L1949.4 196.9 L1949.8 197.1 L1950.2 197.3 L1950.6 197.5 L1951.0 197.6 L1951.4 197.8 L1951.8 198.0 L1952.2 198.2 L1952.6 198.4 L1953.0 198.6 L1953.4 198.8 L1953.8 199.0 L1954.2 199.3 L1954.6 199.5 L1955.0 199.7 L1955.4 199.9 L1955.8 200.1 L1956.2 200.3 L1956.6 200.6 L1957.0 200.8 L1957.4 201.0 L1957.8 201.3 L1958.2 201.5 L1958.6 201.7 L1959.0 202.0 L1959.4 202.2 L1959.8 202.5 L1960.2 202.7 L1960.6 203.0 L1961.0 203.2 L1961.4 203.5 L1961.8 203.8 L1962.2 204.0 L1962.6 204.3 L1963.0 204.6 L1963.4 204.9 L1963.8 205.2 L1964.2 205.4 L1964.6 205.7 L1965.0 206.0 L1965.4 206.3 L1965.8 206.6 L1966.2 206.9 L1966.6 207.2 L1967.0 207.4 L1967.4 207.7 L1967.8 208.0 L1968.2 208.3 L1968.6 208.6 L1969.0 208.9 L1969.4 209.2 L1969.8 209.5 L1970.2 209.7 L1970.6 210.0 L1971.0 210.3 L1971.4 210.6 L1971.8 210.9 L1972.2 211.1 L1972.6 211.4 L1973.0 211.7 L1973.4 211.9 L1973.8 212.2 L1974.2 212.5 L1974.6 212.7 L1975.0 213.0 L1975.4 213.3 L1975.8 213.5 L1976.2 213.8 L1976.6 214.1 L1977.0 214.3 L1977.4 214.6 L1977.8 214.9 L1978.2 215.1 L1978.6 215.4 L1979.0 215.6 L1979.4 215.9 L1979.8 216.2 L1980.2 216.4 L1980.6 216.7 L1981.0 216.9 L1981.4 217.2 L1981.8 217.5" fill="none" stroke="#0a2cff" stroke-width="2.3" stroke-linejoin="round" />
<path d="M1478.8 53.0 L1479.2 51.4 L1479.6 49.9 L1480.0 48.4 L1480.4 46.9 L1480.8 45.5 L1481.2 44.2 L1481.6 42.9 L1482.0 41.6 L1482.4 40.5 L1482.8 39.3 L1483.2 38.2 L1483.6 37.1 L1484.0 36.0 L1484.4 34.9 L1484.9 33.9 L1485.3 33.0 L1485.7 32.2 L1486.1 31.6 L1486.5 31.1 L1486.9 30.7 L1487.3 30.2 L1487.7 29.9 L1488.1 29.5 L1488.5 29.2 L1488.9 29.0 L1489.3 28.8 L1489.7 28.7 L1490.1 28.7 L1490.5 29.1 L1490.9 29.7 L1491.3 30.5 L1491.7 31.5 L1492.1 32.7 L1492.5 34.0 L1492.9 35.5 L1493.3 37.7 L1493.7 40.5 L1494.1 43.8 L1494.5 47.4 L1494.9 51.5 L1495.3 56.7 L1495.7 63.5 L1496.2 75.5 L1496.6 91.4 L1497.0 104.9 L1497.4 115.6 L1497.8 125.5 L1498.2 136.8 L1498.6 148.9 L1499.0 154.5 L1499.4 148.6 L1499.8 136.5 L1500.2 125.8 L1500.6 117.5 L1501.0 109.2 L1501.4 99.1 L1501.8 85.2 L1502.2 75.7 L1502.6 68.8 L1503.0 63.3 L1503.4 58.7 L1503.8 54.4 L1504.2 50.5 L1504.6 47.2 L1505.0 44.6 L1505.4 42.7 L1505.8 41.0 L1506.2 39.5 L1506.6 38.2 L1507.0 37.2 L1507.5 36.5 L1507.9 36.4 L1508.3 36.8 L1508.7 37.7 L1509.1 38.9 L1509.5 40.3 L1509.9 41.9 L1510.3 43.6 L1510.7 45.7 L1511.1 48.4 L1511.5 51.5 L1511.9 54.6 L1512.3 57.5 L1512.7 60.4 L1513.1 63.4 L1513.5 66.5 L1513.9 70.0 L1514.3 74.0 L1514.7 78.5 L1515.1 83.3 L1515.5 88.4 L1515.9 93.5 L1516.3 98.4 L1516.7 103.5 L1517.1 108.7 L1517.5 113.8 L1517.9 119.3 L1518.3 124.8 L1518.8 126.4 L1519.2 123.4 L1519.6 118.5 L1520.0 114.0 L1520.4 109.7 L1520.8 105.3 L1521.2 100.9 L1521.6 96.2 L1522.0 91.5 L1522.4 87.7 L1522.8 85.0 L1523.2 82.6 L1523.6 80.8 L1524.0 80.5 L1524.4 81.7 L1524.8 84.1 L1525.2 87.0 L1525.6 90.9 L1526.0 96.2 L1526.4 102.0 L1526.8 108.6 L1527.2 116.0 L1527.6 123.3 L1528.0 130.9 L1528.4 138.6 L1528.8 140.7 L1529.2 135.3 L1529.6 126.9 L1530.0 119.2 L1530.5 110.7 L1530.9 102.0 L1531.3 92.1 L1531.7 82.8 L1532.1 77.7 L1532.5 74.5 L1532.9 72.1 L1533.3 69.9 L1533.7 67.5 L1534.1 65.2 L1534.5 63.3 L1534.9 61.8 L1535.3 61.1 L1535.7 61.3 L1536.1 62.0 L1536.5 63.2 L1536.9 64.6 L1537.3 66.2 L1537.7 67.8 L1538.1 69.2 L1538.5 70.6 L1538.9 72.2 L1539.3 73.8 L1539.7 75.5 L1540.1 77.5 L1540.5 79.6 L1540.9 82.1 L1541.3 85.0 L1541.8 88.2 L1542.2 91.4 L1542.6 94.5 L1543.0 97.2 L1543.4 99.6 L1543.8 102.0 L1544.2 104.2 L1544.6 106.3 L1545.0 108.4 L1545.4 110.4 L1545.8 112.4 L1546.2 114.5 L1546.6 116.5 L1547.0 118.5 L1547.4 120.6 L1547.8 122.8 L1548.2 125.0 L1548.6 127.3 L1549.0 129.5 L1549.4 131.8 L1549.8 134.0 L1550.2 136.3 L1550.6 138.6 L1551.0 140.9 L1551.4 143.3 L1551.8 145.6 L1552.2 147.9 L1552.6 150.3 L1553.1 152.6 L1553.5 155.0 L1553.9 157.3 L1554.3 159.7 L1554.7 162.1 L1555.1 164.5 L1555.5 166.8 L1555.9 169.2 L1556.3 171.6 L1556.7 174.1 L1557.1 176.5 L1557.5 178.9 L1557.9 181.4 L1558.3 183.8 L1558.7 186.3 L1559.1 188.8 L1559.5 191.2 L1559.9 193.8 L1560.3 196.4 L1560.7 199.0 L1561.1 201.6 L1561.5 204.2 L1561.9 206.9 L1562.3 209.5 L1562.7 212.1 L1563.1 214.7 L1563.5 217.2 L1563.9 219.7 L1564.4 222.1 L1564.8 224.4 L1565.2 226.7 L1565.6 228.9 L1566.0 231.0 L1566.4 233.0 L1566.8 235.0 L1567.2 237.1 L1567.6 239.1 L1568.0 241.1 L1568.4 243.2 L1568.8 245.3 L1569.2 247.4 L1569.6 249.6 L1570.0 251.8 L1570.4 254.1 L1570.8 256.3 L1571.2 258.6 L1571.6 260.9 L1572.0 263.1 L1572.4 265.4 L1572.8 267.6 L1573.2 269.9 L1573.6 272.0 L1574.0 274.2 L1574.4 276.4 L1574.8 278.5 L1575.2 280.7 L1575.7 283.0 L1576.1 285.3 L1576.5 287.7 L1576.9 290.3 L1577.3 292.9 L1577.7 295.4 L1578.1 298.0 L1578.5 300.2 L1578.9 298.2 L1579.3 291.7 L1579.7 284.5 L1580.1 275.5 L1580.5 263.8 L1580.9 251.2 L1581.3 244.0 L1581.7 239.5 L1582.1 237.0 L1582.5 236.9 L1582.9 238.9 L1583.3 242.0 L1583.7 246.5 L1584.2 251.6 L1584.6 257.5 L1585.0 263.6 L1585.4 269.3 L1585.8 275.0 L1586.2 280.4 L1586.6 285.0 L1587.0 288.5 L1587.4 291.5 L1587.8 294.2 L1588.2 296.7 L1588.6 299.0 L1589.0 301.3 L1589.4 303.7 L1589.8 306.0 L1590.3 308.3 L1590.7 310.4 L1591.1 312.4 L1591.5 314.3 L1591.9 315.9 L1592.3 317.3 L1592.7 318.6 L1593.1 320.0 L1593.5 321.5 L1593.9 323.0 L1594.3 324.5 L1594.7 326.1 L1595.1 327.6 L1595.5 329.1 L1596.0 330.6 L1596.4 332.0 L1596.8 333.3 L1597.2 334.5 L1597.6 335.7 L1598.0 336.8 L1598.4 337.9 L1598.8 339.0 L1599.2 340.0 L1599.6 341.0 L1600.0 342.0 L1600.4 342.9 L1600.8 343.7 L1601.2 344.5 L1601.6 345.2 L1602.1 345.9 L1602.5 346.6 L1602.9 347.2 L1603.3 347.8 L1603.7 348.4 L1604.1 349.0 L1604.5 349.5 L1604.9 350.0 L1605.3 350.5 L1605.7 351.0 L1606.1 351.5 L1606.5 352.0 L1606.9 352.4 L1607.3 352.9 L1607.8 353.3 L1608.2 353.7 L1608.6 354.1 L1609.0 354.5 L1609.4 354.8 L1609.8 355.1 L1610.2 355.3 L1610.6 355.5 L1611.0 355.8 L1611.4 356.0 L1611.8 356.2 L1612.2 356.4 L1612.6 356.6 L1613.0 356.7 L1613.4 356.9 L1613.9 357.0 L1614.3 357.1 L1614.7 357.1 L1615.1 357.1 L1615.5 357.1 L1615.9 357.0 L1616.3 356.9 L1616.7 356.8 L1617.1 356.7 L1617.5 356.6 L1617.9 356.5 L1618.3 356.3 L1618.7 356.1 L1619.1 356.0 L1619.5 355.8 L1619.9 355.6 L1620.3 355.4 L1620.7 355.1 L1621.1 354.8 L1621.5 354.5 L1621.9 354.1 L1622.2 353.8 L1622.6 353.4 L1623.0 353.0 L1623.4 352.5 L1623.8 352.1 L1624.2 351.7 L1624.6 351.2 L1625.0 350.7 L1625.4 350.2 L1625.8 349.7 L1626.2 349.1 L1626.6 348.6 L1627.0 348.0 L1627.4 347.4 L1627.8 346.8 L1628.2 346.1 L1628.6 345.5 L1629.0 344.8 L1629.4 344.2 L1629.8 343.5 L1630.2 342.7 L1630.6 342.0 L1631.0 341.2 L1631.4 340.4 L1631.8 339.6 L1632.2 338.7 L1632.6 337.9 L1632.9 337.1 L1633.3 336.2 L1633.7 335.4 L1634.1 334.5 L1634.5 333.6 L1634.9 332.7 L1635.3 331.8 L1635.7 330.8 L1636.1 329.9 L1636.5 329.0 L1636.9 328.0 L1637.3 327.1 L1637.7 326.2 L1638.1 325.3 L1638.5 324.4 L1638.9 323.5 L1639.3 322.6 L1639.7 321.6 L1640.1 320.6 L1640.5 319.4 L1640.9 318.1 L1641.3 316.6 L1641.7 315.0 L1642.1 313.4 L1642.5 311.7 L1642.9 309.9 L1643.3 308.2 L1643.6 306.6 L1644.0 305.0 L1644.4 303.5 L1644.8 301.9 L1645.2 300.4 L1645.6 298.9 L1646.0 297.3 L1646.4 295.8 L1646.8 294.3 L1647.2 292.8 L1647.6 291.3 L1648.0 289.8 L1648.4 288.3 L1648.8 286.7 L1649.2 285.2 L1649.6 283.7 L1650.0 282.2 L1650.4 280.7 L1650.8 279.2 L1651.2 277.7 L1651.6 276.3 L1652.0 274.8 L1652.4 273.3 L1652.8 271.7 L1653.2 270.2 L1653.6 268.7 L1654.0 267.2 L1654.3 265.7 L1654.7 264.2 L1655.1 262.7 L1655.5 261.2 L1655.9 259.7 L1656.3 258.2 L1656.7 256.6 L1657.1 255.1 L1657.5 253.6 L1657.9 252.0 L1658.3 250.4 L1658.7 248.9 L1659.1 247.3 L1659.5 245.7 L1659.9 244.1 L1660.3 242.5 L1660.7 240.9 L1661.1 239.4 L1661.5 237.8 L1661.9 236.2 L1662.3 234.6 L1662.7 233.0 L1663.1 231.4 L1663.5 229.8 L1663.9 228.2 L1664.3 226.6 L1664.7 224.9 L1665.0 223.3 L1665.4 221.7 L1665.8 220.1 L1666.2 218.4 L1666.6 216.8 L1667.0 215.2 L1667.4 213.7 L1667.8 212.1 L1668.2 210.6 L1668.6 209.1 L1669.0 207.6 L1669.4 206.0 L1669.8 204.5 L1670.2 202.9 L1670.6 201.4 L1671.0 199.9 L1671.4 198.5 L1671.8 197.2 L1672.2 196.0 L1672.6 195.0 L1673.0 194.1 L1673.4 193.2 L1673.8 192.4 L1674.2 191.9 L1674.6 191.6 L1675.0 191.3 L1675.4 191.1 L1675.7 191.3 L1676.1 192.4 L1676.5 194.0 L1676.9 196.5 L1677.3 200.0 L1677.7 203.6 L1678.1 207.6 L1678.5 211.9 L1678.9 216.4 L1679.3 220.8 L1679.7 225.2 L1680.1 229.3 L1680.5 233.6 L1680.9 237.8 L1681.3 241.3 L1681.7 244.2 L1682.1 246.5 L1682.5 246.5 L1682.9 244.2 L1683.3 241.3 L1683.7 237.8 L1684.1 234.0 L1684.5 230.5 L1684.9 227.0 L1685.3 223.5 L1685.7 220.0 L1686.1 216.7 L1686.5 213.6 L1686.9 210.7 L1687.3 208.1 L1687.7 205.7 L1688.1 203.3 L1688.5 201.1 L1688.9 199.0 L1689.3 197.0 L1689.7 195.1 L1690.1 193.3 L1690.5 191.5 L1690.9 189.9 L1691.3 188.3 L1691.7 186.8 L1692.1 185.3 L1692.5 183.9 L1692.9 182.5 L1693.3 181.2 L1693.7 179.9 L1694.1 178.7 L1694.5 177.5 L1694.9 176.4 L1695.3 175.3 L1695.7 174.3 L1696.1 173.3 L1696.5 172.3 L1696.9 171.3 L1697.3 170.4 L1697.7 169.5 L1698.1 168.6 L1698.5 167.8 L1698.9 167.0 L1699.3 166.2 L1699.7 165.4 L1700.1 164.7 L1700.5 163.9 L1700.9 163.3 L1701.3 162.6 L1701.7 162.0 L1702.1 161.4 L1702.5 160.8 L1702.9 160.3 L1703.3 159.7 L1703.7 159.2 L1704.1 158.6 L1704.5 158.1 L1704.9 157.6 L1705.3 157.1 L1705.7 156.6 L1706.0 156.1 L1706.4 155.7 L1706.8 155.3 L1707.2 154.9 L1707.6 154.5 L1708.0 154.1 L1708.4 153.8 L1708.8 153.5 L1709.2 153.2 L1709.6 152.9 L1710.0 152.6 L1710.4 152.4 L1710.8 152.1 L1711.2 151.9 L1711.6 151.6 L1712.0 151.4 L1712.4 151.2 L1712.8 150.9 L1713.2 150.7 L1713.6 150.6 L1714.0 150.4 L1714.4 150.2 L1714.8 150.1 L1715.2 150.0 L1715.6 149.9 L1716.0 149.9 L1716.4 149.9 L1716.8 149.9 L1717.2 150.0 L1717.6 150.0 L1718.0 150.1 L1718.4 150.2 L1718.8 150.4 L1719.2 150.5 L1719.6 150.7 L1720.0 150.8 L1720.4 151.0 L1720.8 151.2 L1721.2 151.4 L1721.6 151.7 L1722.0 151.9 L1722.4 152.1 L1722.8 152.3 L1723.2 152.6 L1723.6 152.8 L1724.0 153.1 L1724.4 153.3 L1724.8 153.6 L1725.2 153.9 L1725.6 154.3 L1726.0 154.6 L1726.4 155.0 L1726.8 155.4 L1727.2 155.8 L1727.6 156.3 L1728.0 156.8 L1728.4 157.2 L1728.8 157.7 L1729.2 158.2 L1729.6 158.8 L1730.0 159.3 L1730.4 159.9 L1730.8 160.4 L1731.2 161.0 L1731.6 161.6 L1732.0 162.1 L1732.4 162.7 L1732.8 163.3 L1733.2 163.9 L1733.6 164.5 L1734.0 165.1 L1734.4 165.8 L1734.8 166.4 L1735.2 167.1 L1735.6 167.8 L1736.0 168.5 L1736.4 169.2 L1736.8 170.0 L1737.2 170.8 L1737.6 171.5 L1738.0 172.3 L1738.4 173.2 L1738.8 174.0 L1739.2 174.8 L1739.6 175.7 L1740.0 176.5 L1740.4 177.4 L1740.8 178.3 L1741.2 179.2 L1741.6 180.1 L1742.0 181.0 L1742.4 182.0 L1742.8 182.9 L1743.2 183.8 L1743.6 184.8 L1744.0 185.7 L1744.4 186.7 L1744.8 187.6 L1745.2 188.6 L1745.6 189.5 L1746.0 190.5 L1746.4 191.5 L1746.8 192.4 L1747.2 193.4 L1747.6 194.3 L1748.0 195.3 L1748.4 196.3 L1748.8 197.2 L1749.2 198.2 L1749.6 199.1 L1750.0 200.0 L1750.4 201.0 L1750.8 201.9 L1751.2 202.8 L1751.6 203.8 L1752.0 204.7 L1752.4 205.7 L1752.8 206.6 L1753.2 207.6 L1753.6 208.6 L1754.0 209.6 L1754.4 210.5 L1754.8 211.5 L1755.2 212.5 L1755.6 213.5 L1755.9 214.5 L1756.3 215.5 L1756.7 216.5 L1757.1 217.5 L1757.5 218.5 L1757.9 219.5 L1758.3 220.6 L1758.7 221.6 L1759.1 222.6 L1759.5 223.6 L1759.9 224.6 L1760.3 225.7 L1760.7 226.7 L1761.1 227.7 L1761.5 228.7 L1761.9 229.7 L1762.3 230.8 L1762.7 231.8 L1763.1 232.8 L1763.5 233.8 L1763.9 234.8 L1764.3 235.9 L1764.7 236.9 L1765.1 237.9 L1765.5 238.9 L1765.9 239.9 L1766.3 240.9 L1766.7 241.9 L1767.1 242.9 L1767.5 243.9 L1767.9 244.9 L1768.3 245.9 L1768.7 246.9 L1769.1 247.9 L1769.5 248.9 L1769.9 250.0 L1770.3 251.0 L1770.7 252.0 L1771.1 253.0 L1771.5 254.1 L1771.9 255.1 L1772.3 256.2 L1772.7 257.2 L1773.1 258.2 L1773.5 259.3 L1773.9 260.3 L1774.3 261.4 L1774.7 262.4 L1775.1 263.4 L1775.5 264.5 L1775.9 265.5 L1776.3 266.6 L1776.7 267.6 L1777.1 268.6 L1777.5 269.6 L1777.9 270.6 L1778.3 271.6 L1778.7 272.7 L1779.1 273.7 L1779.5 274.6 L1779.9 275.6 L1780.3 276.6 L1780.7 277.6 L1781.1 278.5 L1781.5 279.5 L1781.9 280.4 L1782.3 281.4 L1782.7 282.3 L1783.1 283.2 L1783.5 284.1 L1783.9 285.0 L1784.3 285.8 L1784.7 286.7 L1785.1 287.5 L1785.5 288.4 L1785.9 289.2 L1786.3 290.0 L1786.7 290.8 L1787.1 291.6 L1787.5 292.4 L1787.9 293.2 L1788.3 293.9 L1788.7 294.7 L1789.1 295.4 L1789.4 296.2 L1789.8 296.9 L1790.2 297.7 L1790.6 298.4 L1791.0 299.1 L1791.4 299.8 L1791.8 300.5 L1792.2 301.2 L1792.6 301.9 L1793.0 302.6 L1793.4 303.3 L1793.8 304.0 L1794.2 304.6 L1794.6 305.3 L1795.0 306.0 L1795.4 306.6 L1795.8 307.3 L1796.2 307.9 L1796.6 308.5 L1797.0 309.2 L1797.4 309.8 L1797.8 310.4 L1798.2 311.0 L1798.6 311.6 L1799.0 312.2 L1799.4 312.9 L1799.8 313.5 L1800.2 314.1 L1800.6 314.6 L1801.0 315.2 L1801.4 315.6 L1801.8 316.0 L1802.2 316.4 L1802.6 316.7 L1803.0 317.1 L1803.4 317.4 L1803.8 317.7 L1804.2 318.0 L1804.6 318.3 L1805.0 318.6 L1805.4 318.8 L1805.8 319.0 L1806.1 319.2 L1806.5 319.4 L1806.9 319.5 L1807.3 319.7 L1807.7 319.8 L1808.1 319.9 L1808.5 320.1 L1808.9 320.2 L1809.3 320.3 L1809.7 320.5 L1810.1 320.6 L1810.5 320.7 L1810.9 320.8 L1811.3 320.9 L1811.7 321.0 L1812.1 321.0 L1812.5 321.1 L1812.9 321.1 L1813.3 321.2 L1813.7 321.2 L1814.1 321.2 L1814.5 321.2 L1814.9 321.2 L1815.3 321.1 L1815.7 321.1 L1816.1 321.0 L1816.5 320.9 L1816.9 320.8 L1817.3 320.7 L1817.7 320.6 L1818.1 320.5 L1818.5 320.3 L1818.9 320.2 L1819.3 320.0 L1819.7 319.9 L1820.1 319.7 L1820.5 319.6 L1820.9 319.4 L1821.3 319.2 L1821.7 319.0 L1822.1 318.8 L1822.5 318.5 L1822.8 318.2 L1823.2 317.9 L1823.6 317.6 L1824.0 317.3 L1824.4 317.0 L1824.8 316.7 L1825.2 316.3 L1825.6 316.0 L1826.0 315.6 L1826.4 315.3 L1826.8 314.9 L1827.2 314.5 L1827.6 314.2 L1828.0 313.7 L1828.4 313.3 L1828.8 312.9 L1829.2 312.5 L1829.6 312.0 L1830.0 311.6 L1830.4 311.1 L1830.8 310.7 L1831.2 310.2 L1831.6 309.7 L1832.0 309.2 L1832.4 308.7 L1832.8 308.2 L1833.2 307.7 L1833.6 307.2 L1834.0 306.6 L1834.4 306.1 L1834.8 305.5 L1835.2 305.0 L1835.6 304.4 L1836.0 303.8 L1836.4 303.2 L1836.8 302.5 L1837.2 301.9 L1837.6 301.2 L1838.0 300.5 L1838.4 299.8 L1838.8 299.1 L1839.2 298.3 L1839.5 297.6 L1839.9 296.8 L1840.3 296.0 L1840.7 295.2 L1841.1 294.4 L1841.5 293.6 L1841.9 292.8 L1842.3 291.9 L1842.7 291.1 L1843.1 290.2 L1843.5 289.4 L1843.9 288.5 L1844.3 287.7 L1844.7 286.8 L1845.1 285.9 L1845.5 285.0 L1845.9 284.2 L1846.3 283.3 L1846.7 282.4 L1847.1 281.6 L1847.5 280.7 L1847.9 279.8 L1848.3 279.0 L1848.7 278.1 L1849.1 277.3 L1849.5 276.4 L1849.9 275.6 L1850.3 274.8 L1850.7 274.0 L1851.1 273.2 L1851.5 272.4 L1851.9 271.6 L1852.3 270.8 L1852.7 270.0 L1853.1 269.3 L1853.5 268.5 L1853.9 267.7 L1854.3 267.0 L1854.7 266.2 L1855.1 265.4 L1855.5 264.7 L1855.9 263.9 L1856.2 263.1 L1856.6 262.4 L1857.0 261.6 L1857.4 260.8 L1857.8 260.0 L1858.2 259.2 L1858.6 258.4 L1859.0 257.6 L1859.4 256.8 L1859.8 256.0 L1860.2 255.2 L1860.6 254.3 L1861.0 253.5 L1861.4 252.6 L1861.8 251.7 L1862.2 250.9 L1862.6 249.9 L1863.0 249.0 L1863.4 248.1 L1863.8 247.1 L1864.2 246.2 L1864.6 245.2 L1865.0 244.2 L1865.4 243.1 L1865.8 242.1 L1866.2 240.9 L1866.6 239.7 L1867.0 238.4 L1867.4 237.2 L1867.8 235.8 L1868.2 234.5 L1868.6 233.2 L1869.0 231.8 L1869.4 230.5 L1869.8 229.2 L1870.2 227.9 L1870.6 226.6 L1871.0 225.4 L1871.4 224.2 L1871.8 223.0 L1872.2 221.8 L1872.6 220.6 L1872.9 219.4 L1873.3 218.3 L1873.7 217.1 L1874.1 215.9 L1874.5 214.8 L1874.9 213.7 L1875.3 212.7 L1875.7 211.7 L1876.1 210.8 L1876.5 210.0 L1876.9 209.2 L1877.3 208.5 L1877.7 207.8 L1878.1 207.1 L1878.5 206.4 L1878.9 205.8 L1879.3 205.2 L1879.7 204.6 L1880.1 204.1 L1880.5 203.6 L1880.9 203.2 L1881.3 202.7 L1881.7 202.4 L1882.1 202.1 L1882.5 201.7 L1882.9 201.4 L1883.3 201.1 L1883.7 200.8 L1884.1 200.6 L1884.5 200.4 L1884.9 200.3 L1885.3 200.3 L1885.7 200.7 L1886.1 201.5 L1886.5 202.6 L1886.9 204.0 L1887.3 205.5 L1887.7 207.0 L1888.1 208.5 L1888.5 209.9 L1888.9 211.5 L1889.3 213.2 L1889.7 215.0 L1890.1 216.6 L1890.5 218.0 L1890.9 219.4 L1891.3 220.6 L1891.7 220.9 L1892.1 220.0 L1892.5 218.7 L1892.9 217.4 L1893.3 216.0 L1893.7 214.5 L1894.1 213.0 L1894.5 211.5 L1894.9 209.9 L1895.3 208.3 L1895.7 206.5 L1896.1 204.8 L1896.5 203.0 L1896.9 201.3 L1897.3 199.6 L1897.7 198.1 L1898.1 196.7 L1898.5 195.5 L1898.9 194.4 L1899.3 193.4 L1899.7 192.4 L1900.1 191.4 L1900.5 190.5 L1900.9 189.6 L1901.3 188.8 L1901.7 188.0 L1902.1 187.4 L1902.5 186.7 L1902.9 186.2 L1903.3 185.8 L1903.7 185.4 L1904.1 185.1 L1904.5 184.7 L1904.9 184.4 L1905.3 184.1 L1905.7 183.8 L1906.1 183.5 L1906.5 183.2 L1906.9 182.9 L1907.3 182.7 L1907.7 182.5 L1908.1 182.3 L1908.5 182.1 L1908.9 182.0 L1909.3 181.9 L1909.7 181.8 L1910.1 181.7 L1910.5 181.7 L1910.9 181.7 L1911.3 181.8 L1911.7 182.0 L1912.1 182.3 L1912.5 182.6 L1912.9 183.0 L1913.3 183.4 L1913.7 183.9 L1914.1 184.5 L1914.5 185.0 L1914.9 185.6 L1915.3 186.3 L1915.7 186.9 L1916.1 187.6 L1916.5 188.4 L1916.9 189.4 L1917.3 190.6 L1917.7 191.9 L1918.1 193.4 L1918.5 195.0 L1918.9 196.6 L1919.3 198.2 L1919.7 199.8 L1920.1 201.8 L1920.5 203.8 L1920.9 205.4 L1921.3 206.7 L1921.7 207.1 L1922.1 204.5 L1922.5 201.3 L1922.9 197.9 L1923.3 194.7 L1923.7 192.5 L1924.1 190.8 L1924.5 189.3 L1924.9 188.1 L1925.3 187.2 L1925.7 186.5 L1926.1 186.0 L1926.5 185.5 L1926.9 185.0 L1927.3 184.7 L1927.7 184.5 L1928.1 184.5 L1928.5 184.6 L1928.9 184.7 L1929.3 184.9 L1929.7 185.1 L1930.1 185.5 L1930.5 185.8 L1930.9 186.2 L1931.4 186.6 L1931.8 187.0 L1932.2 187.4 L1932.6 187.8 L1933.0 188.2 L1933.4 188.6 L1933.8 189.0 L1934.2 189.4 L1934.6 189.8 L1935.0 190.3 L1935.4 190.8 L1935.8 191.3 L1936.2 191.8 L1936.6 192.3 L1937.0 192.8 L1937.4 193.3 L1937.8 193.9 L1938.2 194.5 L1938.6 195.0 L1939.0 195.6 L1939.4 196.2 L1939.8 196.8 L1940.2 197.4 L1940.6 198.1 L1941.0 198.8 L1941.4 199.5 L1941.8 200.2 L1942.2 200.9 L1942.6 201.6 L1943.0 202.4 L1943.4 203.1 L1943.8 203.9 L1944.2 204.6 L1944.6 205.4 L1945.0 206.2 L1945.4 207.0 L1945.8 207.7 L1946.2 208.5 L1946.6 209.3 L1947.0 210.0 L1947.4 210.8 L1947.8 211.5 L1948.2 212.2 L1948.6 212.9 L1949.0 213.7 L1949.4 214.4 L1949.8 215.1 L1950.2 215.8 L1950.6 216.5 L1951.0 217.2 L1951.4 217.9 L1951.8 218.7 L1952.2 219.4 L1952.6 220.1 L1953.0 220.8 L1953.4 221.5 L1953.8 222.2 L1954.2 222.9 L1954.6 223.7 L1955.0 224.4 L1955.4 225.1 L1955.8 225.8 L1956.2 226.5 L1956.6 227.2 L1957.0 227.9 L1957.4 228.7 L1957.8 229.4 L1958.2 230.1 L1958.6 230.8 L1959.0 231.6 L1959.4 232.3 L1959.8 233.1 L1960.2 233.8 L1960.6 234.6 L1961.0 235.3 L1961.4 236.1 L1961.8 236.8 L1962.2 237.6 L1962.6 238.3 L1963.0 239.1 L1963.4 239.8 L1963.8 240.5 L1964.2 241.3 L1964.6 242.0 L1965.0 242.7 L1965.4 243.4 L1965.8 244.0 L1966.2 244.7 L1966.6 245.4 L1967.0 246.0 L1967.4 246.6 L1967.8 247.2 L1968.2 247.8 L1968.6 248.4 L1969.0 249.0 L1969.4 249.6 L1969.8 250.2 L1970.2 250.8 L1970.6 251.3 L1971.0 251.9 L1971.4 252.4 L1971.8 253.0 L1972.2 253.5 L1972.6 254.1 L1973.0 254.6 L1973.4 255.2 L1973.8 255.7 L1974.2 256.2 L1974.6 256.7 L1975.0 257.3 L1975.4 257.8 L1975.8 258.3 L1976.2 258.8 L1976.6 259.4 L1977.0 259.9 L1977.4 260.4 L1977.8 260.9 L1978.2 261.4 L1978.6 261.9 L1979.0 262.4 L1979.4 262.9 L1979.8 263.4 L1980.2 263.9 L1980.6 264.4 L1981.0 264.9 L1981.4 265.3" fill="none" stroke="#00007f" stroke-width="2.3" stroke-linejoin="round" />
<path d="M1478.7 53.0 L1479.1 51.4 L1479.5 49.9 L1479.9 48.4 L1480.3 46.9 L1480.7 45.5 L1481.1 44.2 L1481.5 42.9 L1481.9 41.6 L1482.3 40.5 L1482.7 39.3 L1483.1 38.2 L1483.5 37.1 L1483.9 36.0 L1484.3 34.9 L1484.7 33.9 L1485.1 33.0 L1485.5 32.2 L1485.9 31.6 L1486.3 31.1 L1486.7 30.7 L1487.1 30.2 L1487.5 29.9 L1487.9 29.5 L1488.3 29.2 L1488.7 29.0 L1489.1 28.8 L1489.5 28.7 L1489.9 28.7 L1490.3 29.1 L1490.7 29.7 L1491.1 30.5 L1491.5 31.5 L1491.9 32.7 L1492.3 34.0 L1492.7 35.5 L1493.1 37.7 L1493.5 40.5 L1493.9 43.8 L1494.3 47.4 L1494.7 51.6 L1495.1 56.8 L1495.5 63.5 L1495.9 74.4 L1496.3 88.9 L1496.7 102.0 L1497.1 112.4 L1497.5 121.7 L1497.9 130.1 L1498.3 139.1 L1498.7 146.4 L1499.1 148.2 L1499.5 142.3 L1499.9 132.7 L1500.3 123.5 L1500.7 113.5 L1501.1 102.0 L1501.5 86.1 L1501.9 75.4 L1502.3 68.6 L1502.7 63.3 L1503.1 58.7 L1503.5 54.4 L1503.9 50.5 L1504.3 47.2 L1504.7 44.6 L1505.1 42.7 L1505.5 41.0 L1505.9 39.5 L1506.3 38.2 L1506.7 37.2 L1507.1 36.5 L1507.5 36.4 L1507.9 36.8 L1508.3 37.7 L1508.7 38.9 L1509.1 40.3 L1509.5 41.9 L1509.9 43.6 L1510.3 45.7 L1510.7 48.4 L1511.1 51.5 L1511.5 54.6 L1511.9 57.5 L1512.3 60.4 L1512.7 63.3 L1513.1 66.4 L1513.5 70.0 L1513.9 74.4 L1514.3 79.5 L1514.7 85.1 L1515.1 90.7 L1515.5 96.0 L1515.9 100.8 L1516.3 105.5 L1516.7 109.9 L1517.1 114.3 L1517.5 118.9 L1517.9 121.2 L1518.3 119.5 L1518.7 115.5 L1519.1 111.0 L1519.5 107.0 L1519.9 102.7 L1520.3 98.3 L1520.7 93.9 L1521.1 89.2 L1521.5 84.4 L1521.9 80.2 L1522.3 77.4 L1522.7 75.1 L1523.1 73.2 L1523.5 71.9 L1523.9 71.7 L1524.3 72.9 L1524.7 75.4 L1525.1 78.4 L1525.5 81.8 L1525.9 86.4 L1526.3 91.9 L1526.7 97.7 L1527.1 103.4 L1527.5 109.3 L1527.9 115.4 L1528.3 121.4 L1528.7 126.8 L1529.1 131.8 L1529.5 137.0 L1529.9 141.2 L1530.3 142.9 L1530.7 138.7 L1531.1 130.1 L1531.5 120.6 L1531.9 110.0 L1532.3 100.9 L1532.7 92.2 L1533.1 84.8 L1533.5 79.6 L1533.9 76.2 L1534.3 73.7 L1534.7 72.2 L1535.1 71.3 L1535.5 70.7 L1535.9 70.5 L1536.3 71.3 L1536.7 72.8 L1537.1 74.6 L1537.5 76.4 L1537.9 78.6 L1538.3 81.1 L1538.7 83.6 L1539.1 86.0 L1539.5 88.2 L1539.9 90.4 L1540.3 92.6 L1540.7 94.8 L1541.1 97.0 L1541.5 99.1 L1541.9 101.3 L1542.3 103.4 L1542.7 105.4 L1543.1 107.5 L1543.5 109.6 L1543.9 111.6 L1544.3 113.6 L1544.7 115.6 L1545.1 117.5 L1545.5 119.4 L1545.9 121.2 L1546.3 123.1 L1546.7 124.9 L1547.1 126.8 L1547.5 128.6 L1547.9 130.5 L1548.3 132.3 L1548.7 134.2 L1549.1 136.1 L1549.5 138.1 L1549.9 140.1 L1550.3 142.1 L1550.7 144.2 L1551.1 146.3 L1551.5 148.5 L1551.9 150.7 L1552.3 152.9 L1552.7 155.2 L1553.1 157.4 L1553.5 159.7 L1553.9 162.0 L1554.3 164.3 L1554.7 166.7 L1555.1 169.0 L1555.5 171.4 L1555.9 173.7 L1556.3 176.0 L1556.7 178.3 L1557.1 180.5 L1557.5 182.7 L1557.9 184.8 L1558.3 186.8 L1558.7 188.8 L1559.1 190.8 L1559.5 192.9 L1559.9 195.0 L1560.3 197.2 L1560.7 199.4 L1561.1 201.8 L1561.5 204.3 L1561.9 206.8 L1562.3 209.5 L1562.7 212.1 L1563.1 214.9 L1563.5 217.6 L1563.9 220.4 L1564.3 223.2 L1564.7 225.9 L1565.1 228.7 L1565.5 231.4 L1565.9 234.2 L1566.3 237.0 L1566.7 239.8 L1567.1 242.7 L1567.5 245.5 L1567.9 248.3 L1568.3 251.1 L1568.7 253.9 L1569.1 256.7 L1569.5 259.4 L1569.9 262.1 L1570.3 264.8 L1570.7 267.5 L1571.1 270.3 L1571.5 273.7 L1571.9 276.6 L1572.3 275.1 L1572.7 269.5 L1573.1 261.6 L1573.5 250.6 L1573.9 240.1 L1574.3 229.9 L1574.7 222.8 L1575.1 218.1 L1575.5 216.4 L1575.9 216.1 L1576.3 217.8 L1576.7 220.7 L1577.1 225.8 L1577.5 231.3 L1577.9 237.0 L1578.3 242.9 L1578.7 248.5 L1579.1 253.0 L1579.5 257.0 L1579.9 260.6 L1580.3 263.9 L1580.7 267.1 L1581.1 270.0 L1581.5 272.9 L1581.9 275.7 L1582.3 278.4 L1582.7 281.0 L1583.1 283.5 L1583.5 286.0 L1583.9 288.3 L1584.3 290.6 L1584.7 292.8 L1585.1 294.9 L1585.5 297.0 L1585.9 299.0 L1586.3 301.0 L1586.7 303.0 L1587.1 304.9 L1587.5 306.8 L1587.9 308.7 L1588.3 310.5 L1588.7 312.2 L1589.1 313.9 L1589.5 315.6 L1589.9 317.1 L1590.3 318.6 L1590.7 320.0 L1591.1 321.3 L1591.5 322.5 L1591.9 323.7 L1592.3 324.9 L1592.7 326.0 L1593.1 327.1 L1593.5 328.2 L1593.9 329.2 L1594.3 330.2 L1594.7 331.2 L1595.1 332.2 L1595.5 333.1 L1595.9 334.0 L1596.3 334.9 L1596.7 335.8 L1597.1 336.6 L1597.5 337.4 L1597.9 338.2 L1598.3 339.0 L1598.7 339.7 L1599.1 340.4 L1599.5 341.2 L1599.9 341.8 L1600.3 342.5 L1600.7 343.2 L1601.1 343.8 L1601.5 344.4 L1601.9 345.1 L1602.3 345.7 L1602.7 346.3 L1603.1 346.8 L1603.5 347.4 L1603.9 348.0 L1604.3 348.5 L1604.7 349.0 L1605.1 349.5 L1605.5 350.0 L1605.9 350.5 L1606.3 350.9 L1606.7 351.3 L1607.1 351.7 L1607.5 352.1 L1607.9 352.4 L1608.3 352.7 L1608.7 353.1 L1609.1 353.4 L1609.5 353.7 L1609.9 354.1 L1610.3 354.4 L1610.7 354.7 L1611.1 355.0 L1611.5 355.3 L1611.9 355.6 L1612.3 355.8 L1612.7 356.1 L1613.1 356.3 L1613.5 356.4 L1613.9 356.6 L1614.3 356.7 L1614.7 356.8 L1615.1 356.8 L1615.5 356.8 L1615.9 356.7 L1616.3 356.7 L1616.7 356.5 L1617.1 356.4 L1617.5 356.2 L1617.9 356.0 L1618.3 355.8 L1618.7 355.5 L1619.1 355.3 L1619.5 355.0 L1619.9 354.7 L1620.3 354.4 L1620.7 354.0 L1621.1 353.7 L1621.5 353.3 L1621.9 353.0 L1622.3 352.6 L1622.7 352.3 L1623.1 351.9 L1623.5 351.5 L1623.9 351.1 L1624.3 350.7 L1624.7 350.2 L1625.1 349.6 L1625.5 349.1 L1625.9 348.5 L1626.3 347.9 L1626.7 347.3 L1627.1 346.6 L1627.5 345.9 L1627.9 345.2 L1628.3 344.5 L1628.7 343.7 L1629.1 342.9 L1629.5 342.2 L1629.9 341.3 L1630.3 340.5 L1630.7 339.7 L1631.1 338.8 L1631.5 338.0 L1631.9 337.1 L1632.3 336.2 L1632.7 335.4 L1633.1 334.5 L1633.5 333.6 L1633.9 332.7 L1634.3 331.8 L1634.7 330.9 L1635.1 330.0 L1635.5 329.1 L1635.9 328.2 L1636.3 327.3 L1636.7 326.4 L1637.1 325.5 L1637.5 324.6 L1637.9 323.6 L1638.3 322.6 L1638.7 321.6 L1639.1 320.6 L1639.5 319.6 L1639.9 318.5 L1640.3 317.5 L1640.7 316.4 L1641.1 315.3 L1641.5 314.3 L1641.9 313.2 L1642.3 312.0 L1642.7 310.9 L1643.1 309.8 L1643.5 308.6 L1643.9 307.5 L1644.3 306.3 L1644.7 305.2 L1645.1 304.0 L1645.5 302.8 L1645.9 301.6 L1646.3 300.4 L1646.7 299.2 L1647.1 298.0 L1647.5 296.8 L1647.9 295.6 L1648.3 294.4 L1648.7 293.2 L1649.1 292.0 L1649.5 290.8 L1649.9 289.5 L1650.3 288.3 L1650.7 287.1 L1651.1 285.9 L1651.5 284.7 L1651.9 283.5 L1652.3 282.3 L1652.7 281.1 L1653.1 279.9 L1653.5 278.6 L1653.9 277.4 L1654.3 276.1 L1654.7 274.9 L1655.1 273.6 L1655.5 272.3 L1655.9 271.0 L1656.3 269.7 L1656.7 268.5 L1657.1 267.2 L1657.5 265.9 L1657.9 264.6 L1658.3 263.2 L1658.7 261.9 L1659.1 260.6 L1659.5 259.3 L1659.9 258.0 L1660.3 256.7 L1660.7 255.4 L1661.1 254.0 L1661.5 252.7 L1661.9 251.4 L1662.3 250.1 L1662.7 248.8 L1663.1 247.5 L1663.5 246.2 L1663.9 244.9 L1664.3 243.6 L1664.7 242.3 L1665.1 241.0 L1665.5 239.7 L1665.9 238.3 L1666.3 237.0 L1666.7 235.7 L1667.1 234.4 L1667.5 233.0 L1667.9 231.7 L1668.3 230.4 L1668.7 229.0 L1669.1 227.7 L1669.5 226.4 L1669.9 225.0 L1670.3 223.7 L1670.7 222.4 L1671.1 221.1 L1671.5 219.8 L1671.9 218.5 L1672.3 217.2 L1672.7 215.9 L1673.1 214.6 L1673.5 213.3 L1673.9 212.1 L1674.3 210.8 L1674.7 209.6 L1675.1 208.4 L1675.5 207.2 L1675.9 206.0 L1676.3 204.8 L1676.7 203.6 L1677.1 202.4 L1677.5 201.2 L1677.9 200.0 L1678.3 198.8 L1678.7 197.6 L1679.1 196.4 L1679.5 195.2 L1679.9 194.0 L1680.3 192.8 L1680.7 191.7 L1681.1 190.5 L1681.5 189.4 L1681.9 188.2 L1682.3 187.1 L1682.7 186.0 L1683.1 184.9 L1683.5 183.9 L1683.9 182.8 L1684.3 181.8 L1684.7 180.8 L1685.1 179.8 L1685.5 178.9 L1685.9 178.0 L1686.3 177.1 L1686.7 176.2 L1687.1 175.4 L1687.5 174.6 L1687.9 173.8 L1688.3 173.0 L1688.7 172.2 L1689.1 171.4 L1689.5 170.6 L1689.9 169.9 L1690.3 169.1 L1690.7 168.4 L1691.1 167.7 L1691.5 166.9 L1691.9 166.2 L1692.3 165.6 L1692.7 164.9 L1693.1 164.2 L1693.5 163.6 L1693.9 162.9 L1694.3 162.3 L1694.7 161.7 L1695.1 161.1 L1695.5 160.5 L1695.9 160.0 L1696.3 159.4 L1696.7 158.9 L1697.1 158.4 L1697.5 157.9 L1697.9 157.5 L1698.3 157.0 L1698.7 156.6 L1699.1 156.1 L1699.5 155.7 L1699.9 155.3 L1700.3 154.8 L1700.7 154.4 L1701.1 154.0 L1701.5 153.7 L1701.9 153.3 L1702.3 153.0 L1702.7 152.7 L1703.1 152.5 L1703.5 152.2 L1703.9 152.0 L1704.3 151.9 L1704.7 151.7 L1705.1 151.6 L1705.5 151.4 L1705.9 151.3 L1706.3 151.1 L1706.7 151.0 L1707.1 150.9 L1707.5 150.8 L1707.9 150.7 L1708.3 150.6 L1708.7 150.6 L1709.1 150.5 L1709.5 150.5 L1709.9 150.5 L1710.3 150.6 L1710.7 150.7 L1711.1 150.9 L1711.5 151.2 L1711.9 151.5 L1712.3 151.9 L1712.7 152.2 L1713.1 152.6 L1713.5 153.0 L1713.9 153.4 L1714.3 153.8 L1714.7 154.3 L1715.1 154.8 L1715.5 155.4 L1715.9 156.0 L1716.3 156.7 L1716.7 157.4 L1717.1 158.1 L1717.5 158.9 L1717.9 159.8 L1718.3 160.7 L1718.7 161.7 L1719.1 162.9 L1719.5 164.1 L1719.9 165.4 L1720.3 166.8 L1720.7 168.3 L1721.1 169.9 L1721.5 171.6 L1721.9 173.4 L1722.3 175.4 L1722.7 177.5 L1723.1 179.7 L1723.5 182.0 L1723.9 184.3 L1724.3 186.8 L1724.7 189.3 L1725.1 192.1 L1725.5 195.1 L1725.9 198.2 L1726.3 201.2 L1726.7 204.1 L1727.1 206.6 L1727.5 209.3 L1727.9 212.1 L1728.3 214.2 L1728.7 215.3 L1729.1 214.9 L1729.5 213.1 L1729.9 210.3 L1730.3 207.2 L1730.7 204.3 L1731.1 201.1 L1731.5 197.5 L1731.9 193.7 L1732.3 189.9 L1732.7 186.4 L1733.1 183.3 L1733.5 180.2 L1733.9 177.2 L1734.3 174.5 L1734.7 172.2 L1735.1 170.7 L1735.5 169.4 L1735.9 168.3 L1736.3 167.4 L1736.7 167.0 L1737.1 167.0 L1737.5 167.3 L1737.9 167.6 L1738.3 168.0 L1738.7 168.6 L1739.1 169.2 L1739.5 169.8 L1739.9 170.4 L1740.3 171.0 L1740.7 171.6 L1741.1 172.4 L1741.5 173.2 L1741.9 174.0 L1742.3 174.9 L1742.7 175.9 L1743.1 176.9 L1743.5 178.0 L1743.9 179.1 L1744.3 180.2 L1744.7 181.3 L1745.1 182.5 L1745.5 183.7 L1745.9 184.8 L1746.3 186.0 L1746.7 187.2 L1747.1 188.4 L1747.5 189.6 L1747.9 190.8 L1748.3 191.9 L1748.7 193.1 L1749.1 194.2 L1749.5 195.2 L1749.9 196.3 L1750.3 197.3 L1750.7 198.4 L1751.1 199.4 L1751.5 200.4 L1751.9 201.5 L1752.3 202.5 L1752.7 203.6 L1753.1 204.6 L1753.5 205.6 L1753.9 206.7 L1754.3 207.7 L1754.7 208.8 L1755.1 209.8 L1755.5 210.8 L1755.9 211.9 L1756.3 212.9 L1756.7 214.0 L1757.1 215.0 L1757.5 216.0 L1757.9 217.1 L1758.3 218.1 L1758.7 219.2 L1759.1 220.2 L1759.5 221.2 L1759.9 222.3 L1760.3 223.3 L1760.7 224.4 L1761.1 225.4 L1761.5 226.5 L1761.9 227.5 L1762.3 228.6 L1762.7 229.6 L1763.1 230.7 L1763.5 231.7 L1763.9 232.8 L1764.3 233.8 L1764.7 234.9 L1765.1 236.0 L1765.5 237.1 L1765.9 238.1 L1766.3 239.2 L1766.7 240.3 L1767.1 241.5 L1767.5 242.6 L1767.9 243.7 L1768.3 244.8 L1768.7 246.0 L1769.1 247.1 L1769.5 248.2 L1769.9 249.4 L1770.3 250.5 L1770.7 251.6 L1771.1 252.8 L1771.5 253.9 L1771.9 255.1 L1772.3 256.2 L1772.7 257.3 L1773.1 258.5 L1773.5 259.6 L1773.9 260.8 L1774.3 261.9 L1774.7 263.0 L1775.1 264.1 L1775.5 265.2 L1775.9 266.4 L1776.3 267.5 L1776.7 268.6 L1777.1 269.6 L1777.5 270.7 L1777.9 271.8 L1778.3 272.9 L1778.7 273.9 L1779.1 275.0 L1779.5 276.0 L1779.9 277.0 L1780.3 278.1 L1780.7 279.1 L1781.1 280.1 L1781.5 281.0 L1781.9 282.0 L1782.3 283.0 L1782.7 283.9 L1783.1 284.8 L1783.5 285.7 L1783.9 286.6 L1784.3 287.5 L1784.7 288.4 L1785.1 289.2 L1785.5 290.0 L1785.9 290.8 L1786.3 291.6 L1786.7 292.4 L1787.1 293.2 L1787.5 294.0 L1787.9 294.8 L1788.3 295.5 L1788.7 296.3 L1789.1 297.0 L1789.5 297.8 L1789.9 298.5 L1790.3 299.2 L1790.7 299.9 L1791.1 300.6 L1791.5 301.3 L1791.9 302.0 L1792.3 302.7 L1792.7 303.4 L1793.1 304.0 L1793.5 304.7 L1793.9 305.4 L1794.3 306.0 L1794.7 306.6 L1795.1 307.3 L1795.5 307.9 L1795.9 308.6 L1796.3 309.2 L1796.7 309.8 L1797.1 310.4 L1797.5 311.0 L1797.9 311.6 L1798.3 312.2 L1798.7 312.9 L1799.1 313.5 L1799.5 314.1 L1799.9 314.6 L1800.3 315.2 L1800.7 315.6 L1801.1 316.0 L1801.5 316.4 L1801.9 316.7 L1802.3 317.1 L1802.7 317.4 L1803.1 317.7 L1803.5 318.0 L1803.9 318.3 L1804.3 318.6 L1804.7 318.8 L1805.1 319.0 L1805.5 319.2 L1805.9 319.4 L1806.3 319.5 L1806.7 319.7 L1807.1 319.8 L1807.5 319.9 L1807.9 320.1 L1808.3 320.2 L1808.7 320.3 L1809.1 320.5 L1809.5 320.6 L1809.9 320.7 L1810.3 320.8 L1810.7 320.9 L1811.1 321.0 L1811.5 321.0 L1811.9 321.1 L1812.3 321.1 L1812.7 321.2 L1813.1 321.2 L1813.5 321.2 L1813.9 321.2 L1814.3 321.2 L1814.7 321.1 L1815.1 321.1 L1815.5 321.0 L1815.9 320.9 L1816.3 320.8 L1816.7 320.7 L1817.1 320.6 L1817.5 320.5 L1817.9 320.3 L1818.3 320.2 L1818.7 320.0 L1819.1 319.9 L1819.5 319.7 L1819.9 319.6 L1820.3 319.4 L1820.7 319.2 L1821.1 319.0 L1821.5 318.8 L1821.9 318.5 L1822.3 318.2 L1822.7 317.9 L1823.1 317.6 L1823.5 317.3 L1823.9 317.0 L1824.3 316.7 L1824.7 316.3 L1825.1 316.0 L1825.5 315.6 L1825.9 315.3 L1826.3 314.9 L1826.7 314.5 L1827.1 314.2 L1827.5 313.7 L1827.9 313.3 L1828.3 312.9 L1828.7 312.5 L1829.1 312.0 L1829.5 311.6 L1829.9 311.1 L1830.3 310.7 L1830.7 310.2 L1831.1 309.7 L1831.5 309.2 L1831.9 308.7 L1832.3 308.2 L1832.7 307.7 L1833.1 307.2 L1833.5 306.6 L1833.9 306.1 L1834.3 305.5 L1834.7 305.0 L1835.1 304.4 L1835.5 303.8 L1835.9 303.2 L1836.3 302.5 L1836.7 301.9 L1837.1 301.2 L1837.5 300.5 L1837.9 299.8 L1838.3 299.1 L1838.7 298.3 L1839.1 297.6 L1839.5 296.8 L1839.9 296.0 L1840.3 295.2 L1840.7 294.4 L1841.1 293.6 L1841.5 292.8 L1841.9 291.9 L1842.3 291.1 L1842.7 290.2 L1843.1 289.4 L1843.5 288.5 L1843.9 287.7 L1844.3 286.8 L1844.7 285.9 L1845.1 285.0 L1845.5 284.2 L1845.9 283.3 L1846.3 282.4 L1846.7 281.6 L1847.1 280.7 L1847.5 279.8 L1847.9 279.0 L1848.3 278.1 L1848.7 277.3 L1849.1 276.4 L1849.5 275.6 L1849.9 274.8 L1850.3 274.0 L1850.7 273.2 L1851.1 272.4 L1851.5 271.6 L1851.9 270.8 L1852.3 270.0 L1852.7 269.3 L1853.1 268.5 L1853.5 267.7 L1853.9 267.0 L1854.3 266.2 L1854.7 265.4 L1855.1 264.7 L1855.5 263.9 L1855.9 263.1 L1856.3 262.4 L1856.7 261.6 L1857.1 260.8 L1857.5 260.0 L1857.9 259.2 L1858.3 258.4 L1858.7 257.6 L1859.1 256.8 L1859.5 256.0 L1859.9 255.2 L1860.3 254.3 L1860.7 253.5 L1861.1 252.6 L1861.5 251.7 L1861.9 250.9 L1862.3 249.9 L1862.7 249.0 L1863.1 248.1 L1863.5 247.1 L1863.9 246.2 L1864.3 245.2 L1864.7 244.2 L1865.1 243.1 L1865.5 242.1 L1865.9 240.9 L1866.3 239.7 L1866.7 238.4 L1867.1 237.2 L1867.5 235.8 L1867.9 234.5 L1868.3 233.2 L1868.7 231.8 L1869.1 230.5 L1869.5 229.2 L1869.9 227.9 L1870.3 226.6 L1870.7 225.4 L1871.1 224.2 L1871.5 223.0 L1871.9 221.8 L1872.3 220.6 L1872.7 219.4 L1873.1 218.3 L1873.5 217.1 L1873.9 215.9 L1874.3 214.8 L1874.7 213.7 L1875.1 212.7 L1875.5 211.7 L1875.9 210.8 L1876.3 210.0 L1876.7 209.2 L1877.1 208.5 L1877.5 207.8 L1877.9 207.1 L1878.3 206.4 L1878.7 205.8 L1879.1 205.2 L1879.5 204.6 L1879.9 204.1 L1880.3 203.6 L1880.7 203.2 L1881.1 202.7 L1881.5 202.4 L1881.9 202.1 L1882.3 201.7 L1882.7 201.4 L1883.1 201.1 L1883.5 200.8 L1883.9 200.6 L1884.3 200.4 L1884.7 200.3 L1885.1 200.3 L1885.5 200.7 L1885.9 201.5 L1886.3 202.6 L1886.7 204.0 L1887.1 205.5 L1887.5 207.0 L1887.9 208.5 L1888.3 209.9 L1888.7 211.5 L1889.1 213.2 L1889.5 215.0 L1889.9 216.6 L1890.3 218.0 L1890.7 219.4 L1891.1 220.6 L1891.5 220.9 L1891.9 220.0 L1892.3 218.7 L1892.7 217.4 L1893.1 216.0 L1893.5 214.5 L1893.9 213.0 L1894.3 211.5 L1894.7 209.9 L1895.1 208.3 L1895.5 206.6 L1895.9 204.8 L1896.3 203.0 L1896.7 201.3 L1897.1 199.7 L1897.5 198.1 L1897.9 196.7 L1898.3 195.5 L1898.7 194.4 L1899.1 193.3 L1899.5 192.3 L1899.9 191.4 L1900.3 190.5 L1900.7 189.6 L1901.1 188.9 L1901.5 188.2 L1901.9 187.6 L1902.3 187.1 L1902.7 186.6 L1903.1 186.1 L1903.5 185.7 L1903.9 185.2 L1904.3 184.9 L1904.7 184.6 L1905.1 184.4 L1905.5 184.3 L1905.9 184.3 L1906.3 184.5 L1906.7 184.8 L1907.1 185.1 L1907.5 185.6 L1907.9 186.1 L1908.3 186.7 L1908.7 187.4 L1909.1 188.1 L1909.5 188.8 L1909.9 189.5 L1910.3 190.2 L1910.7 190.9 L1911.1 191.6 L1911.5 192.3 L1911.9 193.0 L1912.3 193.8 L1912.7 194.6 L1913.1 195.4 L1913.5 196.3 L1913.9 197.2 L1914.3 198.1 L1914.7 199.0 L1915.1 200.2 L1915.5 201.4 L1915.9 202.4 L1916.3 203.0 L1916.7 202.5 L1917.1 200.8 L1917.5 198.6 L1917.9 196.5 L1918.3 194.4 L1918.7 192.1 L1919.1 190.0 L1919.5 188.3 L1919.9 187.1 L1920.3 186.1 L1920.7 185.2 L1921.1 184.6 L1921.5 184.1 L1921.9 183.7 L1922.3 183.4 L1922.7 183.1 L1923.1 182.9 L1923.5 182.9 L1923.9 182.9 L1924.3 183.0 L1924.7 183.1 L1925.1 183.2 L1925.5 183.4 L1925.9 183.5 L1926.3 183.7 L1926.7 183.9 L1927.1 184.1 L1927.5 184.3 L1927.9 184.5 L1928.3 184.6 L1928.7 184.8 L1929.1 185.0 L1929.5 185.2 L1929.9 185.4 L1930.3 185.7 L1930.7 185.9 L1931.1 186.2 L1931.5 186.4 L1931.9 186.7 L1932.3 187.0 L1932.7 187.3 L1933.1 187.6 L1933.5 187.9 L1933.9 188.3 L1934.3 188.6 L1934.7 189.0 L1935.1 189.5 L1935.5 189.9 L1935.9 190.4 L1936.3 190.9 L1936.7 191.4 L1937.1 191.9 L1937.5 192.5 L1937.9 193.1 L1938.3 193.6 L1938.7 194.2 L1939.1 194.9 L1939.5 195.5 L1939.9 196.1 L1940.3 196.8 L1940.7 197.4 L1941.1 198.1 L1941.5 198.7 L1941.9 199.4 L1942.3 200.0 L1942.7 200.7 L1943.1 201.4 L1943.5 202.0 L1943.9 202.7 L1944.3 203.5 L1944.7 204.2 L1945.1 205.0 L1945.5 205.8 L1945.9 206.5 L1946.3 207.4 L1946.7 208.2 L1947.1 209.0 L1947.5 209.8 L1947.9 210.7 L1948.3 211.5 L1948.7 212.4 L1949.1 213.2 L1949.5 214.1 L1949.9 214.9 L1950.3 215.8 L1950.7 216.6 L1951.1 217.4 L1951.5 218.3 L1951.9 219.1 L1952.3 219.9 L1952.7 220.7 L1953.1 221.5 L1953.5 222.3 L1953.9 223.1 L1954.3 224.0 L1954.7 224.8 L1955.1 225.6 L1955.5 226.4 L1955.9 227.3 L1956.3 228.1 L1956.7 228.9 L1957.1 229.7 L1957.5 230.5 L1957.9 231.3 L1958.3 232.1 L1958.7 232.9 L1959.1 233.7 L1959.5 234.5 L1959.9 235.3 L1960.3 236.0 L1960.7 236.8 L1961.1 237.5 L1961.5 238.2 L1961.9 239.0 L1962.3 239.7 L1962.7 240.3 L1963.1 241.0 L1963.5 241.7 L1963.9 242.3 L1964.3 243.0 L1964.7 243.6 L1965.1 244.3 L1965.5 244.9 L1965.9 245.5 L1966.3 246.1 L1966.7 246.7 L1967.1 247.4 L1967.5 248.0 L1967.9 248.6 L1968.3 249.2 L1968.7 249.8 L1969.1 250.5 L1969.5 251.1 L1969.9 251.7 L1970.3 252.4 L1970.7 253.0 L1971.1 253.7 L1971.5 254.3 L1971.9 255.0 L1972.3 255.6 L1972.7 256.3 L1973.1 256.9 L1973.5 257.6 L1973.9 258.3 L1974.3 258.9 L1974.7 259.6 L1975.1 260.3 L1975.5 261.0 L1975.9 261.7 L1976.3 262.4 L1976.7 263.1 L1977.1 263.8 L1977.5 264.5 L1977.9 265.3 L1978.3 266.0 L1978.7 266.8 L1979.1 267.6 L1979.5 268.3 L1979.9 269.1 L1980.3 269.9 L1980.7 270.7" fill="none" stroke="#ff4500" stroke-width="2.3" stroke-linejoin="round" stroke-dasharray="7.9 3.85"/>
<path d="M1454.6 3.5 L2006 3.5" stroke="#111" stroke-width="1.3" fill="none"/>
<path d="M1454.6 388.7 L2006 388.7" stroke="#444" stroke-width="1.6" fill="none"/>
<path d="M1454.6 2.9 L1454.6 389.5" stroke="#111" stroke-width="1.3" fill="none"/>
<line x1="1479.3" y1="388.7" x2="1479.3" y2="394.7" stroke="#333" stroke-width="1.2"/>
<text x="1480.3" y="417" text-anchor="middle" font-family='"Liberation Serif", serif' font-size="26.67" fill="#000">1000</text>
<line x1="1580.5" y1="388.7" x2="1580.5" y2="394.7" stroke="#333" stroke-width="1.2"/>
<text x="1580.7" y="417" text-anchor="middle" font-family='"Liberation Serif", serif' font-size="26.67" fill="#000">2000</text>
<line x1="1680.6" y1="388.7" x2="1680.6" y2="394.7" stroke="#333" stroke-width="1.2"/>
<text x="1679.4" y="417" text-anchor="middle" font-family='"Liberation Serif", serif' font-size="26.67" fill="#000">3000</text>
<line x1="1781.4" y1="388.7" x2="1781.4" y2="394.7" stroke="#333" stroke-width="1.2"/>
<text x="1780.5" y="417" text-anchor="middle" font-family='"Liberation Serif", serif' font-size="26.67" fill="#000">4000</text>
<line x1="1881.4" y1="388.7" x2="1881.4" y2="394.7" stroke="#333" stroke-width="1.2"/>
<text x="1880.7" y="417" text-anchor="middle" font-family='"Liberation Serif", serif' font-size="26.67" fill="#000">5000</text>
<line x1="1981.4" y1="388.7" x2="1981.4" y2="394.7" stroke="#333" stroke-width="1.2"/>
<text x="1982.2" y="417" text-anchor="middle" font-family='"Liberation Serif", serif' font-size="26.67" fill="#000">6000</text>
<line x1="1448.1" y1="341.4" x2="1454.6" y2="341.4" stroke="#222" stroke-width="1.3"/>
<text x="1442.1" y="350.6" text-anchor="end" font-family='"Liberation Serif", serif' font-size="26.67" fill="#000">1.5</text>
<line x1="1448.1" y1="248.4" x2="1454.6" y2="248.4" stroke="#222" stroke-width="1.3"/>
<text x="1442.1" y="257.6" text-anchor="end" font-family='"Liberation Serif", serif' font-size="26.67" fill="#000">2.0</text>
<line x1="1448.1" y1="156.4" x2="1454.6" y2="156.4" stroke="#222" stroke-width="1.3"/>
<text x="1442.1" y="165.6" text-anchor="end" font-family='"Liberation Serif", serif' font-size="26.67" fill="#000">2.5</text>
<line x1="1448.1" y1="64.3" x2="1454.6" y2="64.3" stroke="#222" stroke-width="1.3"/>
<text x="1442.1" y="73.5" text-anchor="end" font-family='"Liberation Serif", serif' font-size="26.67" fill="#000">3.0</text>
<text x="1613.5" y="453.6" textLength="233.5" lengthAdjust="spacing" font-family='"Liberation Serif", serif' font-size="26.67" fill="#000">Wavenumbers [cm<tspan font-size="18.7" dy="-9.5">−1</tspan><tspan dy="9.5">]</tspan></text>
<text transform="translate(1396.4,196.8) rotate(-90)" text-anchor="middle" font-family='"Liberation Serif", serif' font-style="italic" font-size="26.67" fill="#000">Q<tspan font-size="17.6" dy="2.6">ext</tspan></text>
<rect x="1771" y="13.8" width="225.29999999999995" height="148.2" rx="4" ry="4" fill="#fff" fill-opacity="0.8" stroke="#d4d4d4" stroke-width="1.3"/>
<line x1="1778.2" y1="32.4" x2="1821.7" y2="32.4" stroke="#0ad2fa" stroke-width="2.2"/>
<line x1="1778.2" y1="67.6" x2="1821.7" y2="67.6" stroke="#0a2cff" stroke-width="2.2"/>
<line x1="1778.2" y1="102.8" x2="1821.7" y2="102.8" stroke="#00007f" stroke-width="2.2"/>
<line x1="1778.2" y1="140.1" x2="1821.7" y2="140.1" stroke="#ff4500" stroke-width="2.2" stroke-dasharray="7.9 3.85"/>
<text x="1837.6" y="39.0" font-style="italic" font-family='"Liberation Serif", serif' font-size="19.6" fill="#000">n</text>
<text x="1847.6" y="40.6" font-style="italic" textLength="32.0" lengthAdjust="spacingAndGlyphs" font-family='"Liberation Serif", serif' font-size="13.3" fill="#000">comp</text>
<text x="1883.6" y="39.5" font-weight="bold" textLength="14.9" lengthAdjust="spacingAndGlyphs" font-family='"Liberation Serif", serif' font-size="18.5" fill="#000">=</text>
<text x="1902.0" y="39.0" textLength="9.6" lengthAdjust="spacingAndGlyphs" font-family='"Liberation Serif", serif' font-size="21.7" fill="#000">5</text>
<text x="1837.6" y="74.5" font-style="italic" font-family='"Liberation Serif", serif' font-size="19.6" fill="#000">n</text>
<text x="1847.6" y="76.1" font-style="italic" textLength="32.0" lengthAdjust="spacingAndGlyphs" font-family='"Liberation Serif", serif' font-size="13.3" fill="#000">comp</text>
<text x="1883.6" y="75.0" font-weight="bold" textLength="14.9" lengthAdjust="spacingAndGlyphs" font-family='"Liberation Serif", serif' font-size="18.5" fill="#000">=</text>
<text x="1902.0" y="74.5" textLength="9.6" lengthAdjust="spacingAndGlyphs" font-family='"Liberation Serif", serif' font-size="21.7" fill="#000">7</text>
<text x="1837.6" y="110.8" font-style="italic" font-family='"Liberation Serif", serif' font-size="19.6" fill="#000">n</text>
<text x="1847.6" y="112.4" font-style="italic" textLength="32.0" lengthAdjust="spacingAndGlyphs" font-family='"Liberation Serif", serif' font-size="13.3" fill="#000">comp</text>
<text x="1883.6" y="111.3" font-weight="bold" textLength="14.9" lengthAdjust="spacingAndGlyphs" font-family='"Liberation Serif", serif' font-size="18.5" fill="#000">=</text>
<text x="1902.6" y="110.8" textLength="19.2" lengthAdjust="spacingAndGlyphs" font-family='"Liberation Serif", serif' font-size="21.7" fill="#000">12</text>
<text x="1838.3" y="145.4" font-style="italic" font-family='"Liberation Serif", serif' font-size="21.0" fill="#000">Q</text>
<text x="1854.4" y="148.0" font-style="italic" textLength="15.6" lengthAdjust="spacingAndGlyphs" font-family='"Liberation Serif", serif' font-size="13.6" fill="#000">ext</text>
<text x="1876.6" y="145.4" textLength="108.6" lengthAdjust="spacingAndGlyphs" font-family='"Liberation Serif", serif' font-size="19.6" fill="#000">semi-capsule</text>
<text x="1691.6" y="554" text-anchor="middle" font-family='"Liberation Sans", sans-serif' font-weight="bold" font-size="42" fill="#000">(c)</text>
</g>
</svg>
</body></html>
